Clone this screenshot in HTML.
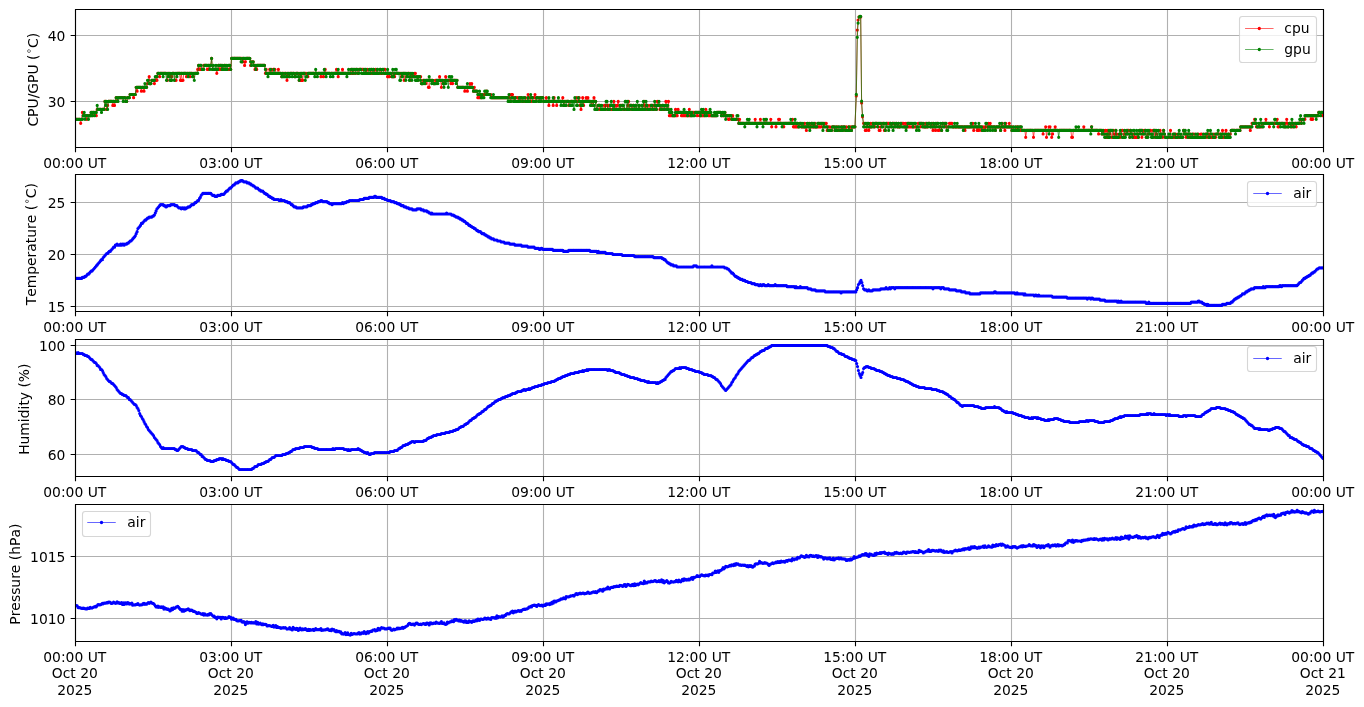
<!DOCTYPE html><html><head><meta charset="utf-8"><title>plot</title><style>html,body{margin:0;padding:0;background:#fff;overflow:hidden}svg{display:block}text{font-family:"DejaVu Sans","Liberation Sans",sans-serif;font-size:13.889px;fill:#000;font-kerning:none;font-feature-settings:"kern" 0,"liga" 0}</style></head><body><svg width="1364" height="707" viewBox="0 0 1364 707"><rect width="1364" height="707" fill="#fff"/><defs><clipPath id="c0"><rect x="75.5" y="9.5" width="1248" height="138"/></clipPath><clipPath id="c1"><rect x="75.5" y="174.5" width="1248" height="137"/></clipPath><clipPath id="c2"><rect x="75.5" y="339.5" width="1248" height="137"/></clipPath><clipPath id="c3"><rect x="75.5" y="504.5" width="1248" height="137"/></clipPath></defs><path d="M75.5 9.5V147.5M231.5 9.5V147.5M387.5 9.5V147.5M543.5 9.5V147.5M699.5 9.5V147.5M855.5 9.5V147.5M1011.5 9.5V147.5M1167.5 9.5V147.5M1323.5 9.5V147.5M75.5 101.5H1323.5M75.5 35.5H1323.5" stroke="#b0b0b0" stroke-width="1.11" fill="none"/><path d="M75.5 174.5V311.5M231.5 174.5V311.5M387.5 174.5V311.5M543.5 174.5V311.5M699.5 174.5V311.5M855.5 174.5V311.5M1011.5 174.5V311.5M1167.5 174.5V311.5M1323.5 174.5V311.5M75.5 306.5H1323.5M75.5 254.5H1323.5M75.5 202.5H1323.5" stroke="#b0b0b0" stroke-width="1.11" fill="none"/><path d="M75.5 339.5V476.5M231.5 339.5V476.5M387.5 339.5V476.5M543.5 339.5V476.5M699.5 339.5V476.5M855.5 339.5V476.5M1011.5 339.5V476.5M1167.5 339.5V476.5M1323.5 339.5V476.5M75.5 454.5H1323.5M75.5 399.5H1323.5M75.5 345.5H1323.5" stroke="#b0b0b0" stroke-width="1.11" fill="none"/><path d="M75.5 504.5V641.5M231.5 504.5V641.5M387.5 504.5V641.5M543.5 504.5V641.5M699.5 504.5V641.5M855.5 504.5V641.5M1011.5 504.5V641.5M1167.5 504.5V641.5M1323.5 504.5V641.5M75.5 618.5H1323.5M75.5 556.5H1323.5" stroke="#b0b0b0" stroke-width="1.11" fill="none"/><g clip-path="url(#c0)"><path d="M75.5 119.3L76.37 119.3L77.23 119.3L78.1 119.3L78.97 119.3L79.84 119.3L80.7 123.3L81.57 119.3L82.44 112.4L83.3 115.7L84.17 115.7L85.04 115.7L85.9 115.7L86.77 119.3L87.64 115.7L88.51 115.7L89.37 115.7L90.24 115.7L91.11 112.4L91.97 112.4L92.84 115.7L93.71 112.4L94.57 112.4L95.44 112.4L96.31 115.7L97.18 109.4L98.04 109.4L98.91 109.4L99.78 109.4L100.64 109.4L101.51 109.4L102.38 109.4L103.24 109.4L104.11 109.4L104.98 101.4L105.85 101.4L106.71 109.4L107.58 105.4L108.45 101.4L109.31 101.4L110.18 101.4L111.05 101.4L111.91 101.4L112.78 105.4L113.65 101.4L114.52 105.4L115.38 101.4L116.25 97.7L117.12 101.4L117.98 97.7L118.85 97.7L119.72 97.7L120.58 97.7L121.45 97.7L122.32 97.7L123.19 97.7L124.05 97.7L124.92 97.7L125.79 101.4L126.65 101.4L127.52 97.7L128.39 97.7L129.25 97.7L130.12 94.5L130.99 94.5L131.86 94.5L132.72 94.5L133.59 97.7L134.46 94.5L135.32 94.5L136.19 87.3L137.06 91.2L137.92 87.3L138.79 87.3L139.66 87.3L140.53 87.3L141.39 91.2L142.26 87.3L143.13 87.3L143.99 91.2L144.86 87.3L145.73 87.3L146.59 87.3L147.46 83.6L148.33 80.3L149.2 76.7L150.06 83.6L150.93 83.6L151.8 80.3L152.66 80.3L153.53 80.3L154.4 83.6L155.26 80.3L156.13 76.7L157 80.3L157.86 73.3L158.73 73.3L159.6 76.7L160.47 73.3L161.33 73.3L162.2 73.3L163.07 73.3L163.93 73.3L164.8 73.3L165.67 73.3L166.53 73.3L167.4 80.3L168.27 73.3L169.14 73.3L170 76.7L170.87 76.7L171.74 76.7L172.6 73.3L173.47 73.3L174.34 73.3L175.2 80.3L176.07 80.3L176.94 73.3L177.81 73.3L178.67 73.3L179.54 73.3L180.41 80.3L181.27 73.3L182.14 80.3L183.01 80.3L183.87 73.3L184.74 73.3L185.61 73.3L186.48 76.7L187.34 73.3L188.21 73.3L189.08 73.3L189.94 76.7L190.81 73.3L191.68 73.3L192.54 73.3L193.41 76.7L194.28 73.3L195.15 73.3L196.01 73.3L196.88 73.3L197.75 69.4L198.61 65.4L199.48 69.4L200.35 65.4L201.21 69.4L202.08 69.4L202.95 69.4L203.82 65.4L204.68 65.4L205.55 65.4L206.42 65.4L207.28 69.4L208.15 69.4L209.02 65.4L209.88 65.4L210.75 65.4L211.62 58.4L212.49 69.4L213.35 69.4L214.22 69.4L215.09 69.4L215.95 69.4L216.82 73.3L217.69 69.4L218.55 65.4L219.42 69.4L220.29 65.4L221.16 69.4L222.02 65.4L222.89 69.4L223.76 69.4L224.62 65.4L225.49 65.4L226.36 69.4L227.22 69.4L228.09 69.4L228.96 69.4L229.83 65.4L230.69 69.4L231.56 58.4L232.43 58.4L233.29 58.4L234.16 58.4L235.03 58.4L235.89 58.4L236.76 58.4L237.63 58.4L238.5 58.4L239.36 58.4L240.23 58.4L241.1 58.4L241.96 58.4L242.83 61.8L243.7 58.4L244.56 65.4L245.43 61.8L246.3 58.4L247.17 58.4L248.03 58.4L248.9 58.4L249.77 58.4L250.63 65.4L251.5 61.8L252.37 61.8L253.23 61.8L254.1 65.4L254.97 69.4L255.84 65.4L256.7 69.4L257.57 65.4L258.44 65.4L259.3 65.4L260.17 65.4L261.04 65.4L261.9 65.4L262.77 65.4L263.64 65.4L264.51 65.4L265.37 73.3L266.24 69.4L267.11 73.3L267.97 73.3L268.84 73.3L269.71 69.4L270.57 73.3L271.44 69.4L272.31 73.3L273.18 69.4L274.04 69.4L274.91 69.4L275.78 73.3L276.64 73.3L277.51 73.3L278.38 69.4L279.24 73.3L280.11 73.3L280.98 73.3L281.85 76.7L282.71 73.3L283.58 73.3L284.45 73.3L285.31 73.3L286.18 73.3L287.05 80.3L287.91 73.3L288.78 76.7L289.65 73.3L290.52 73.3L291.38 73.3L292.25 73.3L293.12 73.3L293.98 73.3L294.85 76.7L295.72 73.3L296.58 73.3L297.45 73.3L298.32 73.3L299.19 80.3L300.05 73.3L300.92 80.3L301.79 73.3L302.65 80.3L303.52 73.3L304.39 73.3L305.25 73.3L306.12 73.3L306.99 76.7L307.86 76.7L308.72 73.3L309.59 73.3L310.46 73.3L311.32 73.3L312.19 73.3L313.06 73.3L313.93 73.3L314.79 73.3L315.66 73.3L316.53 73.3L317.39 73.3L318.26 73.3L319.13 73.3L319.99 73.3L320.86 76.7L321.73 73.3L322.6 73.3L323.46 76.7L324.33 73.3L325.2 69.4L326.06 73.3L326.93 73.3L327.8 73.3L328.66 73.3L329.53 73.3L330.4 73.3L331.27 73.3L332.13 73.3L333 73.3L333.87 73.3L334.73 73.3L335.6 73.3L336.47 69.4L337.33 73.3L338.2 76.7L339.07 73.3L339.94 73.3L340.8 73.3L341.67 73.3L342.54 69.4L343.4 73.3L344.27 73.3L345.14 73.3L346 73.3L346.87 73.3L347.74 73.3L348.61 73.3L349.47 73.3L350.34 73.3L351.21 69.4L352.07 73.3L352.94 69.4L353.81 73.3L354.67 73.3L355.54 69.4L356.41 69.4L357.28 73.3L358.14 73.3L359.01 69.4L359.88 69.4L360.74 69.4L361.61 69.4L362.48 69.4L363.34 69.4L364.21 73.3L365.08 73.3L365.95 69.4L366.81 73.3L367.68 69.4L368.55 73.3L369.41 73.3L370.28 73.3L371.15 69.4L372.01 73.3L372.88 73.3L373.75 69.4L374.62 73.3L375.48 69.4L376.35 73.3L377.22 69.4L378.08 73.3L378.95 73.3L379.82 73.3L380.68 69.4L381.55 73.3L382.42 73.3L383.29 73.3L384.15 69.4L385.02 69.4L385.89 73.3L386.75 73.3L387.62 76.7L388.49 73.3L389.35 76.7L390.22 73.3L391.09 73.3L391.96 76.7L392.82 76.7L393.69 73.3L394.56 76.7L395.42 73.3L396.29 73.3L397.16 73.3L398.02 73.3L398.89 73.3L399.76 73.3L400.63 73.3L401.49 76.7L402.36 73.3L403.23 73.3L404.09 80.3L404.96 73.3L405.83 73.3L406.69 76.7L407.56 73.3L408.43 73.3L409.3 73.3L410.16 80.3L411.03 73.3L411.9 76.7L412.76 76.7L413.63 76.7L414.5 73.3L415.36 73.3L416.23 76.7L417.1 76.7L417.97 80.3L418.83 76.7L419.7 76.7L420.57 76.7L421.43 83.6L422.3 83.6L423.17 80.3L424.03 80.3L424.9 80.3L425.77 83.6L426.64 80.3L427.5 80.3L428.37 87.3L429.24 87.3L430.1 80.3L430.97 80.3L431.84 80.3L432.7 80.3L433.57 83.6L434.44 83.6L435.31 80.3L436.17 80.3L437.04 80.3L437.91 80.3L438.77 80.3L439.64 76.7L440.51 80.3L441.37 87.3L442.24 80.3L443.11 83.6L443.98 80.3L444.84 83.6L445.71 76.7L446.58 80.3L447.44 80.3L448.31 80.3L449.18 80.3L450.04 80.3L450.91 83.6L451.78 80.3L452.65 83.6L453.51 80.3L454.38 80.3L455.25 80.3L456.11 80.3L456.98 80.3L457.85 87.3L458.71 87.3L459.58 87.3L460.45 87.3L461.32 87.3L462.18 87.3L463.05 87.3L463.92 87.3L464.78 91.2L465.65 87.3L466.52 87.3L467.38 91.2L468.25 87.3L469.12 87.3L469.99 83.6L470.85 87.3L471.72 83.6L472.59 87.3L473.45 91.2L474.32 87.3L475.19 91.2L476.05 91.2L476.92 91.2L477.79 97.7L478.66 94.5L479.52 97.7L480.39 94.5L481.26 97.7L482.12 94.5L482.99 94.5L483.86 94.5L484.72 94.5L485.59 94.5L486.46 91.2L487.33 94.5L488.19 94.5L489.06 94.5L489.93 94.5L490.79 94.5L491.66 97.7L492.53 97.7L493.39 97.7L494.26 97.7L495.13 97.7L496 97.7L496.86 97.7L497.73 97.7L498.6 97.7L499.46 97.7L500.33 97.7L501.2 97.7L502.06 97.7L502.93 97.7L503.8 97.7L504.67 97.7L505.53 97.7L506.4 97.7L507.27 97.7L508.13 97.7L509 97.7L509.87 94.5L510.73 101.4L511.6 94.5L512.47 94.5L513.34 97.7L514.2 101.4L515.07 97.7L515.94 97.7L516.8 97.7L517.67 97.7L518.54 101.4L519.4 97.7L520.27 97.7L521.14 97.7L522.01 101.4L522.87 101.4L523.74 101.4L524.61 101.4L525.47 97.7L526.34 101.4L527.21 101.4L528.07 94.5L528.94 97.7L529.81 97.7L530.68 101.4L531.54 101.4L532.41 97.7L533.28 97.7L534.14 97.7L535.01 94.5L535.88 101.4L536.74 97.7L537.61 97.7L538.48 97.7L539.35 101.4L540.21 97.7L541.08 97.7L541.95 97.7L542.81 97.7L543.68 101.4L544.55 101.4L545.41 101.4L546.28 97.7L547.15 101.4L548.02 101.4L548.88 105.4L549.75 101.4L550.62 101.4L551.48 101.4L552.35 101.4L553.22 105.4L554.08 97.7L554.95 101.4L555.82 101.4L556.69 105.4L557.55 101.4L558.42 101.4L559.29 101.4L560.15 101.4L561.02 101.4L561.89 101.4L562.75 97.7L563.62 105.4L564.49 105.4L565.36 101.4L566.22 101.4L567.09 101.4L567.96 101.4L568.82 105.4L569.69 105.4L570.56 101.4L571.42 101.4L572.29 101.4L573.16 101.4L574.03 101.4L574.89 101.4L575.76 101.4L576.63 97.7L577.49 101.4L578.36 101.4L579.23 97.7L580.09 105.4L580.96 109.4L581.83 105.4L582.7 97.7L583.56 105.4L584.43 101.4L585.3 101.4L586.16 97.7L587.03 101.4L587.9 97.7L588.76 101.4L589.63 101.4L590.5 101.4L591.37 105.4L592.23 101.4L593.1 105.4L593.97 97.7L594.83 101.4L595.7 101.4L596.57 109.4L597.43 109.4L598.3 105.4L599.17 105.4L600.04 109.4L600.9 109.4L601.77 109.4L602.64 109.4L603.5 109.4L604.37 105.4L605.24 109.4L606.1 105.4L606.97 105.4L607.84 109.4L608.71 105.4L609.57 105.4L610.44 109.4L611.31 109.4L612.17 109.4L613.04 109.4L613.91 101.4L614.77 109.4L615.64 105.4L616.51 109.4L617.37 105.4L618.24 101.4L619.11 109.4L619.98 109.4L620.84 105.4L621.71 105.4L622.58 105.4L623.44 109.4L624.31 109.4L625.18 109.4L626.04 109.4L626.91 109.4L627.78 105.4L628.65 101.4L629.51 109.4L630.38 105.4L631.25 105.4L632.11 109.4L632.98 105.4L633.85 105.4L634.71 109.4L635.58 105.4L636.45 109.4L637.32 109.4L638.18 109.4L639.05 105.4L639.92 109.4L640.78 109.4L641.65 109.4L642.52 109.4L643.38 105.4L644.25 101.4L645.12 109.4L645.99 105.4L646.85 109.4L647.72 105.4L648.59 109.4L649.45 109.4L650.32 105.4L651.19 105.4L652.05 109.4L652.92 105.4L653.79 105.4L654.66 109.4L655.52 105.4L656.39 109.4L657.26 101.4L658.12 105.4L658.99 105.4L659.86 109.4L660.72 105.4L661.59 109.4L662.46 105.4L663.33 109.4L664.19 109.4L665.06 109.4L665.93 101.4L666.79 105.4L667.66 109.4L668.53 101.4L669.39 115.7L670.26 115.7L671.13 115.7L672 115.7L672.86 115.7L673.73 115.7L674.6 115.7L675.46 109.4L676.33 115.7L677.2 115.7L678.06 109.4L678.93 112.4L679.8 112.4L680.67 112.4L681.53 115.7L682.4 112.4L683.27 115.7L684.13 115.7L685 115.7L685.87 112.4L686.73 115.7L687.6 115.7L688.47 115.7L689.34 109.4L690.2 115.7L691.07 115.7L691.94 112.4L692.8 112.4L693.67 112.4L694.54 112.4L695.4 112.4L696.27 112.4L697.14 115.7L698.01 112.4L698.87 112.4L699.74 115.7L700.61 112.4L701.47 115.7L702.34 115.7L703.21 115.7L704.07 115.7L704.94 112.4L705.81 109.4L706.68 112.4L707.54 112.4L708.41 115.7L709.28 112.4L710.14 115.7L711.01 115.7L711.88 115.7L712.74 115.7L713.61 115.7L714.48 115.7L715.35 115.7L716.21 115.7L717.08 112.4L717.95 112.4L718.81 112.4L719.68 112.4L720.55 112.4L721.41 115.7L722.28 115.7L723.15 115.7L724.02 115.7L724.88 112.4L725.75 115.7L726.62 115.7L727.48 115.7L728.35 119.3L729.22 119.3L730.08 115.7L730.95 115.7L731.82 119.3L732.69 115.7L733.55 119.3L734.42 119.3L735.29 119.3L736.15 119.3L737.02 119.3L737.89 119.3L738.75 123.3L739.62 119.3L740.49 123.3L741.36 123.3L742.22 123.3L743.09 123.3L743.96 123.3L744.82 123.3L745.69 123.3L746.56 123.3L747.42 123.3L748.29 123.3L749.16 123.3L750.03 123.3L750.89 123.3L751.76 123.3L752.63 123.3L753.49 123.3L754.36 123.3L755.23 119.3L756.09 123.3L756.96 123.3L757.83 123.3L758.7 123.3L759.56 123.3L760.43 119.3L761.3 123.3L762.16 123.3L763.03 123.3L763.9 123.3L764.76 123.3L765.63 119.3L766.5 123.3L767.37 123.3L768.23 123.3L769.1 123.3L769.97 123.3L770.83 119.3L771.7 126.8L772.57 123.3L773.43 123.3L774.3 123.3L775.17 123.3L776.04 126.8L776.9 123.3L777.77 123.3L778.64 119.3L779.5 119.3L780.37 123.3L781.24 123.3L782.1 123.3L782.97 123.3L783.84 126.8L784.71 123.3L785.57 123.3L786.44 123.3L787.31 123.3L788.17 123.3L789.04 123.3L789.91 123.3L790.77 123.3L791.64 123.3L792.51 119.3L793.38 126.8L794.24 123.3L795.11 126.8L795.98 123.3L796.84 126.8L797.71 123.3L798.58 126.8L799.44 123.3L800.31 123.3L801.18 126.8L802.05 126.8L802.91 126.8L803.78 126.8L804.65 123.3L805.51 126.8L806.38 130.4L807.25 123.3L808.11 126.8L808.98 126.8L809.85 123.3L810.72 126.8L811.58 123.3L812.45 126.8L813.32 123.3L814.18 126.8L815.05 123.3L815.92 126.8L816.78 126.8L817.65 126.8L818.52 123.3L819.39 126.8L820.25 126.8L821.12 126.8L821.99 123.3L822.85 123.3L823.72 126.8L824.59 123.3L825.45 123.3L826.32 123.3L827.19 130.4L828.06 126.8L828.92 126.8L829.79 126.8L830.66 130.4L831.52 130.4L832.39 126.8L833.26 126.8L834.12 126.8L834.99 130.4L835.86 130.4L836.73 126.8L837.59 126.8L838.46 130.4L839.33 130.4L840.19 130.4L841.06 126.8L841.93 126.8L842.79 130.4L843.66 126.8L844.53 126.8L845.4 130.4L846.26 126.8L847.13 130.4L848 130.4L848.86 126.8L849.73 130.4L850.6 126.8L851.46 130.4L852.33 126.8L853.2 126.8L854.07 126.8L854.93 126.8L856.3 95.9L857.3 30.1L858.1 20L859.1 16.8L859.9 16.8L860.7 17L861.6 103L862.5 116.8L863.6 123.3L864.47 123.3L865.34 130.4L866.2 130.4L867.07 126.8L867.94 123.3L868.8 130.4L869.67 126.8L870.54 123.3L871.41 126.8L872.27 123.3L873.14 123.3L874.01 126.8L874.87 126.8L875.74 123.3L876.61 123.3L877.47 123.3L878.34 126.8L879.21 130.4L880.08 130.4L880.94 126.8L881.81 123.3L882.68 123.3L883.54 123.3L884.41 130.4L885.28 130.4L886.14 123.3L887.01 123.3L887.88 123.3L888.75 123.3L889.61 123.3L890.48 123.3L891.35 126.8L892.21 123.3L893.08 123.3L893.95 123.3L894.81 126.8L895.68 123.3L896.55 123.3L897.42 126.8L898.28 123.3L899.15 126.8L900.02 126.8L900.88 123.3L901.75 123.3L902.62 123.3L903.48 123.3L904.35 126.8L905.22 123.3L906.09 126.8L906.95 123.3L907.82 126.8L908.69 123.3L909.55 126.8L910.42 126.8L911.29 126.8L912.15 126.8L913.02 126.8L913.89 126.8L914.76 126.8L915.62 126.8L916.49 126.8L917.36 126.8L918.22 123.3L919.09 123.3L919.96 123.3L920.82 126.8L921.69 123.3L922.56 123.3L923.43 126.8L924.29 126.8L925.16 123.3L926.03 126.8L926.89 123.3L927.76 126.8L928.63 123.3L929.49 123.3L930.36 126.8L931.23 126.8L932.1 123.3L932.96 130.4L933.83 123.3L934.7 126.8L935.56 130.4L936.43 123.3L937.3 123.3L938.16 130.4L939.03 130.4L939.9 126.8L940.77 126.8L941.63 130.4L942.5 123.3L943.37 123.3L944.23 123.3L945.1 126.8L945.97 123.3L946.83 126.8L947.7 126.8L948.57 126.8L949.44 123.3L950.3 123.3L951.17 123.3L952.04 123.3L952.9 126.8L953.77 126.8L954.64 126.8L955.5 126.8L956.37 126.8L957.24 126.8L958.11 126.8L958.97 126.8L959.84 126.8L960.71 126.8L961.57 126.8L962.44 126.8L963.31 126.8L964.17 126.8L965.04 130.4L965.91 126.8L966.78 126.8L967.64 126.8L968.51 126.8L969.38 126.8L970.24 126.8L971.11 126.8L971.98 126.8L972.84 123.3L973.71 130.4L974.58 126.8L975.45 126.8L976.31 126.8L977.18 130.4L978.05 126.8L978.91 130.4L979.78 126.8L980.65 126.8L981.51 130.4L982.38 126.8L983.25 130.4L984.12 126.8L984.98 130.4L985.85 126.8L986.72 126.8L987.58 126.8L988.45 123.3L989.32 126.8L990.18 123.3L991.05 126.8L991.92 126.8L992.79 126.8L993.65 126.8L994.52 126.8L995.39 130.4L996.25 126.8L997.12 126.8L997.99 126.8L998.85 126.8L999.72 126.8L1000.59 130.4L1001.46 126.8L1002.32 123.3L1003.19 126.8L1004.06 126.8L1004.92 130.4L1005.79 123.3L1006.66 126.8L1007.52 126.8L1008.39 126.8L1009.26 123.3L1010.13 126.8L1010.99 126.8L1011.86 130.4L1012.73 126.8L1013.59 130.4L1014.46 130.4L1015.33 130.4L1016.19 126.8L1017.06 130.4L1017.93 126.8L1018.8 130.4L1019.66 130.4L1020.53 126.8L1021.4 130.4L1022.26 130.4L1023.13 130.4L1024 130.4L1024.86 130.4L1025.73 137.3L1026.6 130.4L1027.47 130.4L1028.33 130.4L1029.2 130.4L1030.07 130.4L1030.93 130.4L1031.8 130.4L1032.67 130.4L1033.53 137.3L1034.4 130.4L1035.27 130.4L1036.14 130.4L1037 130.4L1037.87 130.4L1038.74 130.4L1039.6 130.4L1040.47 130.4L1041.34 130.4L1042.2 130.4L1043.07 134L1043.94 130.4L1044.81 130.4L1045.67 126.8L1046.54 137.3L1047.41 130.4L1048.27 130.4L1049.14 126.8L1050.01 126.8L1050.87 130.4L1051.74 137.3L1052.61 134L1053.48 130.4L1054.34 130.4L1055.21 126.8L1056.08 130.4L1056.94 130.4L1057.81 130.4L1058.68 130.4L1059.54 130.4L1060.41 130.4L1061.28 130.4L1062.15 130.4L1063.01 130.4L1063.88 130.4L1064.75 130.4L1065.61 130.4L1066.48 130.4L1067.35 130.4L1068.21 130.4L1069.08 130.4L1069.95 130.4L1070.82 130.4L1071.68 137.3L1072.55 137.3L1073.42 130.4L1074.28 130.4L1075.15 130.4L1076.02 130.4L1076.88 130.4L1077.75 130.4L1078.62 130.4L1079.49 130.4L1080.35 130.4L1081.22 130.4L1082.09 130.4L1082.95 130.4L1083.82 126.8L1084.69 130.4L1085.55 130.4L1086.42 130.4L1087.29 130.4L1088.16 130.4L1089.02 130.4L1089.89 130.4L1090.76 130.4L1091.62 126.8L1092.49 130.4L1093.36 130.4L1094.22 130.4L1095.09 130.4L1095.96 130.4L1096.83 130.4L1097.69 130.4L1098.56 134L1099.43 130.4L1100.29 130.4L1101.16 130.4L1102.03 134L1102.89 134L1103.76 130.4L1104.63 134L1105.5 130.4L1106.36 137.3L1107.23 130.4L1108.1 137.3L1108.96 130.4L1109.83 134L1110.7 130.4L1111.56 137.3L1112.43 137.3L1113.3 130.4L1114.17 134L1115.03 137.3L1115.9 130.4L1116.77 134L1117.63 137.3L1118.5 137.3L1119.37 134L1120.23 137.3L1121.1 134L1121.97 130.4L1122.84 130.4L1123.7 137.3L1124.57 134L1125.44 134L1126.3 130.4L1127.17 134L1128.04 130.4L1128.9 130.4L1129.77 137.3L1130.64 130.4L1131.51 134L1132.37 134L1133.24 137.3L1134.11 134L1134.97 137.3L1135.84 137.3L1136.71 137.3L1137.57 134L1138.44 137.3L1139.31 130.4L1140.18 130.4L1141.04 130.4L1141.91 137.3L1142.78 130.4L1143.64 134L1144.51 130.4L1145.38 130.4L1146.24 137.3L1147.11 137.3L1147.98 134L1148.85 134L1149.71 130.4L1150.58 130.4L1151.45 134L1152.31 137.3L1153.18 130.4L1154.05 130.4L1154.91 137.3L1155.78 130.4L1156.65 134L1157.52 137.3L1158.38 137.3L1159.25 137.3L1160.12 130.4L1160.98 134L1161.85 134L1162.72 137.3L1163.58 130.4L1164.45 134L1165.32 137.3L1166.19 137.3L1167.05 137.3L1167.92 137.3L1168.79 137.3L1169.65 137.3L1170.52 130.4L1171.39 137.3L1172.25 137.3L1173.12 137.3L1173.99 134L1174.86 137.3L1175.72 134L1176.59 137.3L1177.46 137.3L1178.32 134L1179.19 137.3L1180.06 137.3L1180.92 137.3L1181.79 137.3L1182.66 137.3L1183.53 130.4L1184.39 130.4L1185.26 134L1186.13 137.3L1186.99 134L1187.86 134L1188.73 137.3L1189.59 137.3L1190.46 134L1191.33 137.3L1192.2 137.3L1193.06 134L1193.93 134L1194.8 137.3L1195.66 137.3L1196.53 137.3L1197.4 137.3L1198.26 134L1199.13 137.3L1200 137.3L1200.87 134L1201.73 134L1202.6 137.3L1203.47 137.3L1204.33 137.3L1205.2 134L1206.07 134L1206.93 137.3L1207.8 134L1208.67 134L1209.54 137.3L1210.4 134L1211.27 137.3L1212.14 137.3L1213 137.3L1213.87 134L1214.74 137.3L1215.6 137.3L1216.47 134L1217.34 134L1218.21 134L1219.07 134L1219.94 134L1220.81 134L1221.67 137.3L1222.54 130.4L1223.41 137.3L1224.27 137.3L1225.14 134L1226.01 130.4L1226.88 137.3L1227.74 137.3L1228.61 134L1229.48 137.3L1230.34 134L1231.21 130.4L1232.08 130.4L1232.94 130.4L1233.81 130.4L1234.68 130.4L1235.55 130.4L1236.41 130.4L1237.28 130.4L1238.15 130.4L1239.01 130.4L1239.88 130.4L1240.75 126.8L1241.61 126.8L1242.48 126.8L1243.35 126.8L1244.22 126.8L1245.08 126.8L1245.95 126.8L1246.82 126.8L1247.68 126.8L1248.55 126.8L1249.42 126.8L1250.28 130.4L1251.15 126.8L1252.02 123.3L1252.89 123.3L1253.75 123.3L1254.62 119.3L1255.49 123.3L1256.35 126.8L1257.22 126.8L1258.09 126.8L1258.95 123.3L1259.82 126.8L1260.69 126.8L1261.56 126.8L1262.42 123.3L1263.29 123.3L1264.16 123.3L1265.02 123.3L1265.89 119.3L1266.76 123.3L1267.62 123.3L1268.49 123.3L1269.36 126.8L1270.23 123.3L1271.09 123.3L1271.96 123.3L1272.83 123.3L1273.69 123.3L1274.56 123.3L1275.43 123.3L1276.29 123.3L1277.16 119.3L1278.03 126.8L1278.9 126.8L1279.76 123.3L1280.63 123.3L1281.5 123.3L1282.36 123.3L1283.23 123.3L1284.1 123.3L1284.96 126.8L1285.83 123.3L1286.7 119.3L1287.57 123.3L1288.43 126.8L1289.3 123.3L1290.17 123.3L1291.03 126.8L1291.9 123.3L1292.77 126.8L1293.63 123.3L1294.5 123.3L1295.37 123.3L1296.24 126.8L1297.1 123.3L1297.97 123.3L1298.84 123.3L1299.7 123.3L1300.57 119.3L1301.44 123.3L1302.3 119.3L1303.17 119.3L1304.04 119.3L1304.91 119.3L1305.77 115.7L1306.64 115.7L1307.51 115.7L1308.37 115.7L1309.24 115.7L1310.11 115.7L1310.97 119.3L1311.84 115.7L1312.71 119.3L1313.58 115.7L1314.44 115.7L1315.31 115.7L1316.18 115.7L1317.04 115.7L1317.91 115.7L1318.78 112.4L1319.64 112.4L1320.51 112.4L1321.38 112.4L1322.25 115.7L1323.11 112.4" stroke="#ff0000" stroke-width="0.7" fill="none"/><path d="M75.5 119.3h0m0.9 0h0m0.8 0h0m0.9 0h0m0.9 0h0m0.8 0h0m0.9 4h0m0.9 -4h0m0.8 -6.9h0m0.9 3.3h0m0.9 0h0m0.8 0h0m0.9 0h0m0.9 3.6h0m0.8 -3.6h0m0.9 0h0m0.9 0h0m0.8 0h0m0.9 -3.3h0m0.9 0h0m0.8 3.3h0m0.9 -3.3h0m0.9 0h0m0.8 0h0m0.9 3.3h0m0.9 -6.3h0m0.8 0h0m0.9 0h0m0.9 0h0m0.8 0h0m0.9 0h0m0.9 0h0m0.8 0h0m0.9 0h0m0.9 -8h0m0.8 0h0m0.9 8h0m0.9 -4h0m0.8 -4h0m0.9 0h0m0.9 0h0m0.8 0h0m0.9 0h0m0.9 4h0m0.8 -4h0m0.9 4h0m0.9 -4h0m0.8 -3.7h0m0.9 3.7h0m0.9 -3.7h0m0.9 0h0m0.8 0h0m0.9 0h0m0.9 0h0m0.8 0h0m0.9 0h0m0.9 0h0m0.8 0h0m0.9 3.7h0m0.9 0h0m0.8 -3.7h0m0.9 0h0m0.9 0h0m0.8 -3.2h0m0.9 0h0m0.9 0h0m0.8 0h0m0.9 3.2h0m0.9 -3.2h0m0.8 0h0m0.9 -7.2h0m0.9 3.9h0m0.8 -3.9h0m0.9 0h0m0.9 0h0m0.8 0h0m0.9 3.9h0m0.9 -3.9h0m0.8 0h0m0.9 3.9h0m0.9 -3.9h0m0.8 0h0m0.9 0h0m0.9 -3.7h0m0.8 -3.3h0m0.9 -3.6h0m0.9 6.9h0m0.8 0h0m0.9 -3.3h0m0.9 0h0m0.8 0h0m0.9 3.3h0m0.9 -3.3h0m0.8 -3.6h0m0.9 3.6h0m0.9 -7h0m0.8 0h0m0.9 3.4h0m0.9 -3.4h0m0.8 0h0m0.9 0h0m0.9 0h0m0.8 0h0m0.9 0h0m0.9 0h0m0.8 0h0m0.9 7h0m0.9 -7h0m0.8 0h0m0.9 3.4h0m0.9 0h0m0.8 0h0m0.9 -3.4h0m0.9 0h0m0.8 0h0m0.9 7h0m0.9 0h0m0.8 -7h0m0.9 0h0m0.9 0h0m0.8 0h0m0.9 7h0m0.9 -7h0m0.8 7h0m0.9 0h0m0.9 -7h0m0.8 0h0m0.9 0h0m0.9 3.4h0m0.8 -3.4h0m0.9 0h0m0.9 0h0m0.8 3.4h0m0.9 -3.4h0m0.9 0h0m0.8 0h0m0.9 3.4h0m0.9 -3.4h0m0.8 0h0m0.9 0h0m0.9 0h0m0.8 -3.9h0m0.9 -4h0m0.9 4h0m0.8 -4h0m0.9 4h0m0.9 0h0m0.8 0h0m0.9 -4h0m0.9 0h0m0.8 0h0m0.9 0h0m0.9 4h0m0.9 0h0m0.8 -4h0m0.9 0h0m0.9 0h0m0.8 -7h0m0.9 11h0m0.9 0h0m0.8 0h0m0.9 0h0m0.9 0h0m0.8 3.9h0m0.9 -3.9h0m0.9 -4h0m0.8 4h0m0.9 -4h0m0.9 4h0m0.8 -4h0m0.9 4h0m0.9 0h0m0.8 -4h0m0.9 0h0m0.9 4h0m0.8 0h0m0.9 0h0m0.9 0h0m0.8 -4h0m0.9 4h0m0.9 -11h0m0.8 0h0m0.9 0h0m0.9 0h0m0.8 0h0m0.9 0h0m0.9 0h0m0.8 0h0m0.9 0h0m0.9 0h0m0.8 0h0m0.9 0h0m0.9 0h0m0.8 3.4h0m0.9 -3.4h0m0.9 7h0m0.8 -3.6h0m0.9 -3.4h0m0.9 0h0m0.8 0h0m0.9 0h0m0.9 0h0m0.8 7h0m0.9 -3.6h0m0.9 0h0m0.8 0h0m0.9 3.6h0m0.9 4h0m0.8 -4h0m0.9 4h0m0.9 -4h0m0.8 0h0m0.9 0h0m0.9 0h0m0.8 0h0m0.9 0h0m0.9 0h0m0.8 0h0m0.9 0h0m0.9 7.9h0m0.8 -3.9h0m0.9 3.9h0m0.9 0h0m0.8 0h0m0.9 -3.9h0m0.9 3.9h0m0.8 -3.9h0m0.9 3.9h0m0.9 -3.9h0m0.8 0h0m0.9 0h0m0.9 3.9h0m0.8 0h0m0.9 0h0m0.9 -3.9h0m0.8 3.9h0m0.9 0h0m0.9 0h0m0.8 3.4h0m0.9 -3.4h0m0.9 0h0m0.8 0h0m0.9 0h0m0.9 0h0m0.8 7h0m0.9 -7h0m0.9 3.4h0m0.8 -3.4h0m0.9 0h0m0.9 0h0m0.8 0h0m0.9 0h0m0.9 0h0m0.9 3.4h0m0.8 -3.4h0m0.9 0h0m0.9 0h0m0.8 0h0m0.9 7h0m0.9 -7h0m0.8 7h0m0.9 -7h0m0.9 7h0m0.8 -7h0m0.9 0h0m0.9 0h0m0.8 0h0m0.9 3.4h0m0.9 0h0m0.8 -3.4h0m0.9 0h0m0.9 0h0m0.8 0h0m0.9 0h0m0.9 0h0m0.8 0h0m0.9 0h0m0.9 0h0m0.8 0h0m0.9 0h0m0.9 0h0m0.8 0h0m0.9 0h0m0.9 3.4h0m0.8 -3.4h0m0.9 0h0m0.9 3.4h0m0.8 -3.4h0m0.9 -3.9h0m0.9 3.9h0m0.8 0h0m0.9 0h0m0.9 0h0m0.8 0h0m0.9 0h0m0.9 0h0m0.8 0h0m0.9 0h0m0.9 0h0m0.8 0h0m0.9 0h0m0.9 -3.9h0m0.8 3.9h0m0.9 3.4h0m0.9 -3.4h0m0.8 0h0m0.9 0h0m0.9 0h0m0.8 -3.9h0m0.9 3.9h0m0.9 0h0m0.8 0h0m0.9 0h0m0.9 0h0m0.8 0h0m0.9 0h0m0.9 0h0m0.8 0h0m0.9 -3.9h0m0.9 3.9h0m0.8 -3.9h0m0.9 3.9h0m0.9 0h0m0.8 -3.9h0m0.9 0h0m0.9 3.9h0m0.8 0h0m0.9 -3.9h0m0.9 0h0m0.8 0h0m0.9 0h0m0.9 0h0m0.8 0h0m0.9 3.9h0m0.9 0h0m0.8 -3.9h0m0.9 3.9h0m0.9 -3.9h0m0.8 3.9h0m0.9 0h0m0.9 0h0m0.8 -3.9h0m0.9 3.9h0m0.9 0h0m0.8 -3.9h0m0.9 3.9h0m0.9 -3.9h0m0.8 3.9h0m0.9 -3.9h0m0.9 3.9h0m0.9 0h0m0.8 0h0m0.9 -3.9h0m0.9 3.9h0m0.8 0h0m0.9 0h0m0.9 -3.9h0m0.8 0h0m0.9 3.9h0m0.9 0h0m0.8 3.4h0m0.9 -3.4h0m0.9 3.4h0m0.8 -3.4h0m0.9 0h0m0.9 3.4h0m0.8 0h0m0.9 -3.4h0m0.9 3.4h0m0.8 -3.4h0m0.9 0h0m0.9 0h0m0.8 0h0m0.9 0h0m0.9 0h0m0.8 0h0m0.9 3.4h0m0.9 -3.4h0m0.8 0h0m0.9 7h0m0.9 -7h0m0.8 0h0m0.9 3.4h0m0.9 -3.4h0m0.8 0h0m0.9 0h0m0.9 7h0m0.8 -7h0m0.9 3.4h0m0.9 0h0m0.8 0h0m0.9 -3.4h0m0.9 0h0m0.8 3.4h0m0.9 0h0m0.9 3.6h0m0.8 -3.6h0m0.9 0h0m0.9 0h0m0.8 6.9h0m0.9 0h0m0.9 -3.3h0m0.8 0h0m0.9 0h0m0.9 3.3h0m0.8 -3.3h0m0.9 0h0m0.9 7h0m0.8 0h0m0.9 -7h0m0.9 0h0m0.8 0h0m0.9 0h0m0.9 3.3h0m0.8 0h0m0.9 -3.3h0m0.9 0h0m0.8 0h0m0.9 0h0m0.9 0h0m0.8 -3.6h0m0.9 3.6h0m0.9 7h0m0.8 -7h0m0.9 3.3h0m0.9 -3.3h0m0.8 3.3h0m0.9 -6.9h0m0.9 3.6h0m0.8 0h0m0.9 0h0m0.9 0h0m0.8 0h0m0.9 3.3h0m0.9 -3.3h0m0.8 3.3h0m0.9 -3.3h0m0.9 0h0m0.8 0h0m0.9 0h0m0.9 0h0m0.8 7h0m0.9 0h0m0.9 0h0m0.8 0h0m0.9 0h0m0.9 0h0m0.8 0h0m0.9 0h0m0.9 3.9h0m0.9 -3.9h0m0.8 0h0m0.9 3.9h0m0.9 -3.9h0m0.8 0h0m0.9 -3.7h0m0.9 3.7h0m0.8 -3.7h0m0.9 3.7h0m0.9 3.9h0m0.8 -3.9h0m0.9 3.9h0m0.9 0h0m0.8 0h0m0.9 6.5h0m0.9 -3.2h0m0.8 3.2h0m0.9 -3.2h0m0.9 3.2h0m0.8 -3.2h0m0.9 0h0m0.9 0h0m0.8 0h0m0.9 0h0m0.9 -3.3h0m0.8 3.3h0m0.9 0h0m0.9 0h0m0.8 0h0m0.9 0h0m0.9 3.2h0m0.8 0h0m0.9 0h0m0.9 0h0m0.8 0h0m0.9 0h0m0.9 0h0m0.8 0h0m0.9 0h0m0.9 0h0m0.8 0h0m0.9 0h0m0.9 0h0m0.8 0h0m0.9 0h0m0.9 0h0m0.8 0h0m0.9 0h0m0.9 0h0m0.8 0h0m0.9 0h0m0.9 -3.2h0m0.8 6.9h0m0.9 -6.9h0m0.9 0h0m0.8 3.2h0m0.9 3.7h0m0.9 -3.7h0m0.8 0h0m0.9 0h0m0.9 0h0m0.8 3.7h0m0.9 -3.7h0m0.9 0h0m0.8 0h0m0.9 3.7h0m0.9 0h0m0.8 0h0m0.9 0h0m0.9 -3.7h0m0.8 3.7h0m0.9 0h0m0.9 -6.9h0m0.8 3.2h0m0.9 0h0m0.9 3.7h0m0.8 0h0m0.9 -3.7h0m0.9 0h0m0.8 0h0m0.9 -3.2h0m0.9 6.9h0m0.8 -3.7h0m0.9 0h0m0.9 0h0m0.8 3.7h0m0.9 -3.7h0m0.9 0h0m0.8 0h0m0.9 0h0m0.9 3.7h0m0.8 0h0m0.9 0h0m0.9 -3.7h0m0.8 3.7h0m0.9 0h0m0.9 4h0m0.8 -4h0m0.9 0h0m0.9 0h0m0.9 0h0m0.8 4h0m0.9 -7.7h0m0.9 3.7h0m0.8 0h0m0.9 4h0m0.9 -4h0m0.8 0h0m0.9 0h0m0.9 0h0m0.8 0h0m0.9 0h0m0.9 -3.7h0m0.8 7.7h0m0.9 0h0m0.9 -4h0m0.8 0h0m0.9 0h0m0.9 0h0m0.8 4h0m0.9 0h0m0.9 -4h0m0.8 0h0m0.9 0h0m0.9 0h0m0.8 0h0m0.9 0h0m0.9 0h0m0.8 -3.7h0m0.9 3.7h0m0.9 0h0m0.8 -3.7h0m0.9 7.7h0m0.9 4h0m0.8 -4h0m0.9 -7.7h0m0.9 7.7h0m0.8 -4h0m0.9 0h0m0.9 -3.7h0m0.8 3.7h0m0.9 -3.7h0m0.9 3.7h0m0.8 0h0m0.9 0h0m0.9 4h0m0.8 -4h0m0.9 4h0m0.9 -7.7h0m0.8 3.7h0m0.9 0h0m0.9 8h0m0.8 0h0m0.9 -4h0m0.9 0h0m0.8 4h0m0.9 0h0m0.9 0h0m0.8 0h0m0.9 0h0m0.9 -4h0m0.8 4h0m0.9 -4h0m0.9 0h0m0.8 4h0m0.9 -4h0m0.9 0h0m0.8 4h0m0.9 0h0m0.9 0h0m0.8 0h0m0.9 -8h0m0.9 8h0m0.8 -4h0m0.9 4h0m0.9 -4h0m0.8 -4h0m0.9 8h0m0.9 0h0m0.8 -4h0m0.9 0h0m0.9 0h0m0.8 4h0m0.9 0h0m0.9 0h0m0.8 0h0m0.9 0h0m0.9 -4h0m0.8 -4h0m0.9 8h0m0.9 -4h0m0.8 0h0m0.9 4h0m0.9 -4h0m0.8 0h0m0.9 4h0m0.9 -4h0m0.8 4h0m0.9 0h0m0.9 0h0m0.8 -4h0m0.9 4h0m0.9 0h0m0.9 0h0m0.8 0h0m0.9 -4h0m0.9 -4h0m0.8 8h0m0.9 -4h0m0.9 4h0m0.8 -4h0m0.9 4h0m0.9 0h0m0.8 -4h0m0.9 0h0m0.9 4h0m0.8 -4h0m0.9 0h0m0.9 4h0m0.8 -4h0m0.9 4h0m0.9 -8h0m0.8 4h0m0.9 0h0m0.9 4h0m0.8 -4h0m0.9 4h0m0.9 -4h0m0.8 4h0m0.9 0h0m0.9 0h0m0.8 -8h0m0.9 4h0m0.9 4h0m0.8 -8h0m0.9 14.3h0m0.9 0h0m0.8 0h0m0.9 0h0m0.9 0h0m0.8 0h0m0.9 0h0m0.9 -6.3h0m0.8 6.3h0m0.9 0h0m0.9 -6.3h0m0.8 3h0m0.9 0h0m0.9 0h0m0.8 3.3h0m0.9 -3.3h0m0.9 3.3h0m0.8 0h0m0.9 0h0m0.9 -3.3h0m0.8 3.3h0m0.9 0h0m0.9 0h0m0.8 -6.3h0m0.9 6.3h0m0.9 0h0m0.8 -3.3h0m0.9 0h0m0.9 0h0m0.8 0h0m0.9 0h0m0.9 0h0m0.8 3.3h0m0.9 -3.3h0m0.9 0h0m0.8 3.3h0m0.9 -3.3h0m0.9 3.3h0m0.8 0h0m0.9 0h0m0.9 0h0m0.8 -3.3h0m0.9 -3h0m0.9 3h0m0.8 0h0m0.9 3.3h0m0.9 -3.3h0m0.8 3.3h0m0.9 0h0m0.9 0h0m0.8 0h0m0.9 0h0m0.9 0h0m0.8 0h0m0.9 0h0m0.9 -3.3h0m0.8 0h0m0.9 0h0m0.9 0h0m0.8 0h0m0.9 3.3h0m0.9 0h0m0.8 0h0m0.9 0h0m0.9 -3.3h0m0.8 3.3h0m0.9 0h0m0.9 0h0m0.9 3.6h0m0.8 0h0m0.9 -3.6h0m0.9 0h0m0.8 3.6h0m0.9 -3.6h0m0.9 3.6h0m0.8 0h0m0.9 0h0m0.9 0h0m0.8 0h0m0.9 0h0m0.9 4h0m0.8 -4h0m0.9 4h0m0.9 0h0m0.8 0h0m0.9 0h0m0.9 0h0m0.8 0h0m0.9 0h0m0.9 0h0m0.8 0h0m0.9 0h0m0.9 0h0m0.8 0h0m0.9 0h0m0.9 0h0m0.8 0h0m0.9 0h0m0.9 0h0m0.8 -4h0m0.9 4h0m0.9 0h0m0.8 0h0m0.9 0h0m0.9 0h0m0.8 -4h0m0.9 4h0m0.9 0h0m0.8 0h0m0.9 0h0m0.9 0h0m0.8 -4h0m0.9 4h0m0.9 0h0m0.8 0h0m0.9 0h0m0.9 0h0m0.8 -4h0m0.9 7.5h0m0.9 -3.5h0m0.8 0h0m0.9 0h0m0.9 0h0m0.8 3.5h0m0.9 -3.5h0m0.9 0h0m0.8 -4h0m0.9 0h0m0.9 4h0m0.8 0h0m0.9 0h0m0.9 0h0m0.8 3.5h0m0.9 -3.5h0m0.9 0h0m0.8 0h0m0.9 0h0m0.9 0h0m0.8 0h0m0.9 0h0m0.9 0h0m0.8 0h0m0.9 -4h0m0.9 7.5h0m0.8 -3.5h0m0.9 3.5h0m0.9 -3.5h0m0.8 3.5h0m0.9 -3.5h0m0.9 3.5h0m0.8 -3.5h0m0.9 0h0m0.9 3.5h0m0.8 0h0m0.9 0h0m0.9 0h0m0.8 -3.5h0m0.9 3.5h0m0.9 3.6h0m0.8 -7.1h0m0.9 3.5h0m0.9 0h0m0.8 -3.5h0m0.9 3.5h0m0.9 -3.5h0m0.8 3.5h0m0.9 -3.5h0m0.9 3.5h0m0.9 -3.5h0m0.8 3.5h0m0.9 0h0m0.9 0h0m0.8 -3.5h0m0.9 3.5h0m0.9 0h0m0.8 0h0m0.9 -3.5h0m0.9 0h0m0.8 3.5h0m0.9 -3.5h0m0.9 0h0m0.8 0h0m0.9 7.1h0m0.9 -3.6h0m0.8 0h0m0.9 0h0m0.9 3.6h0m0.8 0h0m0.9 -3.6h0m0.9 0h0m0.8 0h0m0.9 3.6h0m0.9 0h0m0.8 -3.6h0m0.9 0h0m0.9 3.6h0m0.8 0h0m0.9 0h0m0.9 -3.6h0m0.8 0h0m0.9 3.6h0m0.9 -3.6h0m0.8 0h0m0.9 3.6h0m0.9 -3.6h0m0.8 3.6h0m0.9 0h0m0.9 -3.6h0m0.8 3.6h0m0.9 -3.6h0m0.9 3.6h0m0.8 -3.6h0m0.9 0h0m0.9 0h0m0.8 0h0m1.4 -30.9h0m1 -65.8h0m0.8 -10.1h0m1 -3.2h0m0.8 0h0m0.8 0.2h0m0.9 86h0m0.9 13.8h0m1.1 6.5h0m0.9 0h0m0.8 7.1h0m0.9 0h0m0.9 -3.6h0m0.8 -3.5h0m0.9 7.1h0m0.9 -3.6h0m0.8 -3.5h0m0.9 3.5h0m0.9 -3.5h0m0.8 0h0m0.9 3.5h0m0.9 0h0m0.8 -3.5h0m0.9 0h0m0.9 0h0m0.8 3.5h0m0.9 3.6h0m0.9 0h0m0.8 -3.6h0m0.9 -3.5h0m0.9 0h0m0.8 0h0m0.9 7.1h0m0.9 0h0m0.8 -7.1h0m0.9 0h0m0.9 0h0m0.8 0h0m0.9 0h0m0.9 0h0m0.8 3.5h0m0.9 -3.5h0m0.9 0h0m0.8 0h0m0.9 3.5h0m0.9 -3.5h0m0.8 0h0m0.9 3.5h0m0.9 -3.5h0m0.8 3.5h0m0.9 0h0m0.9 -3.5h0m0.9 0h0m0.8 0h0m0.9 0h0m0.9 3.5h0m0.8 -3.5h0m0.9 3.5h0m0.9 -3.5h0m0.8 3.5h0m0.9 -3.5h0m0.9 3.5h0m0.8 0h0m0.9 0h0m0.9 0h0m0.8 0h0m0.9 0h0m0.9 0h0m0.8 0h0m0.9 0h0m0.9 0h0m0.8 -3.5h0m0.9 0h0m0.9 0h0m0.8 3.5h0m0.9 -3.5h0m0.9 0h0m0.8 3.5h0m0.9 0h0m0.9 -3.5h0m0.8 3.5h0m0.9 -3.5h0m0.9 3.5h0m0.8 -3.5h0m0.9 0h0m0.9 3.5h0m0.8 0h0m0.9 -3.5h0m0.9 7.1h0m0.8 -7.1h0m0.9 3.5h0m0.9 3.6h0m0.8 -7.1h0m0.9 0h0m0.9 7.1h0m0.8 0h0m0.9 -3.6h0m0.9 0h0m0.8 3.6h0m0.9 -7.1h0m0.9 0h0m0.8 0h0m0.9 3.5h0m0.9 -3.5h0m0.8 3.5h0m0.9 0h0m0.9 0h0m0.8 -3.5h0m0.9 0h0m0.9 0h0m0.8 0h0m0.9 3.5h0m0.9 0h0m0.8 0h0m0.9 0h0m0.9 0h0m0.8 0h0m0.9 0h0m0.9 0h0m0.8 0h0m0.9 0h0m0.9 0h0m0.8 0h0m0.9 0h0m0.9 0h0m0.8 3.6h0m0.9 -3.6h0m0.9 0h0m0.8 0h0m0.9 0h0m0.9 0h0m0.8 0h0m0.9 0h0m0.9 0h0m0.8 -3.5h0m0.9 7.1h0m0.9 -3.6h0m0.8 0h0m0.9 0h0m0.9 3.6h0m0.8 -3.6h0m0.9 3.6h0m0.9 -3.6h0m0.8 0h0m0.9 3.6h0m0.9 -3.6h0m0.8 3.6h0m0.9 -3.6h0m0.9 3.6h0m0.8 -3.6h0m0.9 0h0m0.9 0h0m0.9 -3.5h0m0.8 3.5h0m0.9 -3.5h0m0.9 3.5h0m0.8 0h0m0.9 0h0m0.9 0h0m0.8 0h0m0.9 3.6h0m0.9 -3.6h0m0.8 0h0m0.9 0h0m0.9 0h0m0.8 0h0m0.9 3.6h0m0.9 -3.6h0m0.8 -3.5h0m0.9 3.5h0m0.9 0h0m0.8 3.6h0m0.9 -7.1h0m0.9 3.5h0m0.8 0h0m0.9 0h0m0.9 -3.5h0m0.8 3.5h0m0.9 0h0m0.9 3.6h0m0.8 -3.6h0m0.9 3.6h0m0.9 0h0m0.8 0h0m0.9 -3.6h0m0.9 3.6h0m0.8 -3.6h0m0.9 3.6h0m0.9 0h0m0.8 -3.6h0m0.9 3.6h0m0.9 0h0m0.8 0h0m0.9 0h0m0.9 0h0m0.8 6.9h0m0.9 -6.9h0m0.9 0h0m0.8 0h0m0.9 0h0m0.9 0h0m0.8 0h0m0.9 0h0m0.9 0h0m0.8 6.9h0m0.9 -6.9h0m0.9 0h0m0.8 0h0m0.9 0h0m0.9 0h0m0.8 0h0m0.9 0h0m0.9 0h0m0.8 0h0m0.9 0h0m0.9 3.6h0m0.8 -3.6h0m0.9 0h0m0.9 -3.6h0m0.8 10.5h0m0.9 -6.9h0m0.9 0h0m0.8 -3.6h0m0.9 0h0m0.9 3.6h0m0.8 6.9h0m0.9 -3.3h0m0.9 -3.6h0m0.8 0h0m0.9 -3.6h0m0.9 3.6h0m0.8 0h0m0.9 0h0m0.9 0h0m0.8 0h0m0.9 0h0m0.9 0h0m0.8 0h0m0.9 0h0m0.9 0h0m0.8 0h0m0.9 0h0m0.9 0h0m0.8 0h0m0.9 0h0m0.9 0h0m0.8 0h0m0.9 0h0m0.9 6.9h0m0.8 0h0m0.9 -6.9h0m0.9 0h0m0.9 0h0m0.8 0h0m0.9 0h0m0.9 0h0m0.8 0h0m0.9 0h0m0.9 0h0m0.8 0h0m0.9 0h0m0.9 0h0m0.8 -3.6h0m0.9 3.6h0m0.9 0h0m0.8 0h0m0.9 0h0m0.9 0h0m0.8 0h0m0.9 0h0m0.9 0h0m0.8 -3.6h0m0.9 3.6h0m0.9 0h0m0.8 0h0m0.9 0h0m0.9 0h0m0.8 0h0m0.9 0h0m0.9 3.6h0m0.8 -3.6h0m0.9 0h0m0.9 0h0m0.8 3.6h0m0.9 0h0m0.9 -3.6h0m0.8 3.6h0m0.9 -3.6h0m0.9 6.9h0m0.8 -6.9h0m0.9 6.9h0m0.9 -6.9h0m0.8 3.6h0m0.9 -3.6h0m0.9 6.9h0m0.8 0h0m0.9 -6.9h0m0.9 3.6h0m0.8 3.3h0m0.9 -6.9h0m0.9 3.6h0m0.8 3.3h0m0.9 0h0m0.9 -3.3h0m0.8 3.3h0m0.9 -3.3h0m0.9 -3.6h0m0.8 0h0m0.9 6.9h0m0.9 -3.3h0m0.8 0h0m0.9 -3.6h0m0.9 3.6h0m0.8 -3.6h0m0.9 0h0m0.9 6.9h0m0.8 -6.9h0m0.9 3.6h0m0.9 0h0m0.8 3.3h0m0.9 -3.3h0m0.9 3.3h0m0.8 0h0m0.9 0h0m0.9 -3.3h0m0.8 3.3h0m0.9 -6.9h0m0.9 0h0m0.8 0h0m0.9 6.9h0m0.9 -6.9h0m0.8 3.6h0m0.9 -3.6h0m0.9 0h0m0.8 6.9h0m0.9 0h0m0.9 -3.3h0m0.8 0h0m0.9 -3.6h0m0.9 0h0m0.8 3.6h0m0.9 3.3h0m0.9 -6.9h0m0.8 0h0m0.9 6.9h0m0.9 -6.9h0m0.8 3.6h0m0.9 3.3h0m0.9 0h0m0.8 0h0m0.9 -6.9h0m0.9 3.6h0m0.9 0h0m0.8 3.3h0m0.9 -6.9h0m0.9 3.6h0m0.8 3.3h0m0.9 0h0m0.9 0h0m0.8 0h0m0.9 0h0m0.9 0h0m0.8 -6.9h0m0.9 6.9h0m0.9 0h0m0.8 0h0m0.9 -3.3h0m0.9 3.3h0m0.8 -3.3h0m0.9 3.3h0m0.9 0h0m0.8 -3.3h0m0.9 3.3h0m0.9 0h0m0.8 0h0m0.9 0h0m0.9 0h0m0.8 -6.9h0m0.9 0h0m0.9 3.6h0m0.8 3.3h0m0.9 -3.3h0m0.9 0h0m0.8 3.3h0m0.9 0h0m0.9 -3.3h0m0.8 3.3h0m0.9 0h0m0.9 -3.3h0m0.8 0h0m0.9 3.3h0m0.9 0h0m0.8 0h0m0.9 0h0m0.9 -3.3h0m0.8 3.3h0m0.9 0h0m0.9 -3.3h0m0.8 0h0m0.9 3.3h0m0.9 0h0m0.8 0h0m0.9 -3.3h0m0.9 0h0m0.8 3.3h0m0.9 -3.3h0m0.9 0h0m0.8 3.3h0m0.9 -3.3h0m0.9 3.3h0m0.8 0h0m0.9 0h0m0.9 -3.3h0m0.8 3.3h0m0.9 0h0m0.9 -3.3h0m0.8 0h0m0.9 0h0m0.9 0h0m0.8 0h0m0.9 0h0m0.9 3.3h0m0.8 -6.9h0m0.9 6.9h0m0.9 0h0m0.8 -3.3h0m0.9 -3.6h0m0.9 6.9h0m0.8 0h0m0.9 -3.3h0m0.9 3.3h0m0.8 -3.3h0m0.9 -3.6h0m0.9 0h0m0.8 0h0m0.9 0h0m0.9 0h0m0.8 0h0m0.9 0h0m0.9 0h0m0.8 0h0m0.9 0h0m0.9 0h0m0.8 -3.6h0m0.9 0h0m0.9 0h0m0.8 0h0m0.9 0h0m0.9 0h0m0.8 0h0m0.9 0h0m0.9 0h0m0.9 0h0m0.8 0h0m0.9 3.6h0m0.9 -3.6h0m0.8 -3.5h0m0.9 0h0m0.9 0h0m0.8 -4h0m0.9 4h0m0.9 3.5h0m0.8 0h0m0.9 0h0m0.9 -3.5h0m0.8 3.5h0m0.9 0h0m0.9 0h0m0.8 -3.5h0m0.9 0h0m0.9 0h0m0.8 0h0m0.9 -4h0m0.9 4h0m0.8 0h0m0.9 0h0m0.9 3.5h0m0.8 -3.5h0m0.9 0h0m0.9 0h0m0.8 0h0m0.9 0h0m0.9 0h0m0.8 0h0m0.9 0h0m0.9 -4h0m0.8 7.5h0m0.9 0h0m0.9 -3.5h0m0.8 0h0m0.9 0h0m0.9 0h0m0.8 0h0m0.9 0h0m0.9 3.5h0m0.8 -3.5h0m0.9 -4h0m0.9 4h0m0.8 3.5h0m0.9 -3.5h0m0.9 0h0m0.8 3.5h0m0.9 -3.5h0m0.9 3.5h0m0.8 -3.5h0m0.9 0h0m0.9 0h0m0.8 3.5h0m0.9 -3.5h0m0.9 0h0m0.8 0h0m0.9 0h0m0.9 -4h0m0.8 4h0m0.9 -4h0m0.9 0h0m0.8 0h0m0.9 0h0m0.9 -3.6h0m0.8 0h0m0.9 0h0m0.9 0h0m0.8 0h0m0.9 0h0m0.9 3.6h0m0.8 -3.6h0m0.9 3.6h0m0.9 -3.6h0m0.8 0h0m0.9 0h0m0.9 0h0m0.8 0h0m0.9 0h0m0.9 -3.3h0m0.8 0h0m0.9 0h0m0.9 0h0m0.8 3.3h0m0.9 -3.3h0" stroke="#ff0000" stroke-width="3.2" stroke-linecap="round" fill="none"/><path d="M75.5 119.3L76.37 119.3L77.23 119.3L78.1 119.3L78.97 119.3L79.84 119.3L80.7 119.3L81.57 119.3L82.44 119.3L83.3 115.7L84.17 112.4L85.04 119.3L85.9 115.7L86.77 115.7L87.64 115.7L88.51 119.3L89.37 115.7L90.24 115.7L91.11 112.4L91.97 115.7L92.84 112.4L93.71 112.4L94.57 115.7L95.44 112.4L96.31 112.4L97.18 105.4L98.04 109.4L98.91 109.4L99.78 109.4L100.64 109.4L101.51 112.4L102.38 109.4L103.24 109.4L104.11 109.4L104.98 101.4L105.85 105.4L106.71 101.4L107.58 109.4L108.45 101.4L109.31 101.4L110.18 101.4L111.05 101.4L111.91 101.4L112.78 101.4L113.65 101.4L114.52 101.4L115.38 101.4L116.25 97.7L117.12 97.7L117.98 101.4L118.85 97.7L119.72 97.7L120.58 97.7L121.45 97.7L122.32 97.7L123.19 101.4L124.05 97.7L124.92 97.7L125.79 101.4L126.65 101.4L127.52 97.7L128.39 97.7L129.25 97.7L130.12 94.5L130.99 94.5L131.86 94.5L132.72 94.5L133.59 94.5L134.46 94.5L135.32 94.5L136.19 87.3L137.06 87.3L137.92 87.3L138.79 87.3L139.66 87.3L140.53 87.3L141.39 87.3L142.26 87.3L143.13 87.3L143.99 87.3L144.86 83.6L145.73 87.3L146.59 87.3L147.46 80.3L148.33 80.3L149.2 83.6L150.06 83.6L150.93 83.6L151.8 80.3L152.66 80.3L153.53 80.3L154.4 80.3L155.26 76.7L156.13 76.7L157 76.7L157.86 73.3L158.73 73.3L159.6 73.3L160.47 73.3L161.33 73.3L162.2 73.3L163.07 76.7L163.93 73.3L164.8 73.3L165.67 73.3L166.53 80.3L167.4 73.3L168.27 76.7L169.14 73.3L170 80.3L170.87 73.3L171.74 80.3L172.6 73.3L173.47 73.3L174.34 80.3L175.2 73.3L176.07 73.3L176.94 76.7L177.81 73.3L178.67 73.3L179.54 73.3L180.41 73.3L181.27 73.3L182.14 73.3L183.01 73.3L183.87 73.3L184.74 73.3L185.61 73.3L186.48 73.3L187.34 73.3L188.21 76.7L189.08 73.3L189.94 73.3L190.81 73.3L191.68 73.3L192.54 76.7L193.41 73.3L194.28 80.3L195.15 73.3L196.01 73.3L196.88 73.3L197.75 73.3L198.61 65.4L199.48 65.4L200.35 65.4L201.21 65.4L202.08 69.4L202.95 69.4L203.82 69.4L204.68 65.4L205.55 65.4L206.42 65.4L207.28 65.4L208.15 65.4L209.02 65.4L209.88 69.4L210.75 65.4L211.62 58.4L212.49 69.4L213.35 65.4L214.22 69.4L215.09 69.4L215.95 65.4L216.82 69.4L217.69 69.4L218.55 65.4L219.42 65.4L220.29 65.4L221.16 65.4L222.02 69.4L222.89 65.4L223.76 69.4L224.62 65.4L225.49 69.4L226.36 65.4L227.22 69.4L228.09 65.4L228.96 65.4L229.83 65.4L230.69 69.4L231.56 58.4L232.43 58.4L233.29 58.4L234.16 58.4L235.03 58.4L235.89 58.4L236.76 58.4L237.63 58.4L238.5 58.4L239.36 58.4L240.23 58.4L241.1 61.8L241.96 61.8L242.83 58.4L243.7 58.4L244.56 58.4L245.43 58.4L246.3 58.4L247.17 58.4L248.03 58.4L248.9 58.4L249.77 58.4L250.63 61.8L251.5 65.4L252.37 61.8L253.23 61.8L254.1 65.4L254.97 65.4L255.84 69.4L256.7 65.4L257.57 65.4L258.44 65.4L259.3 65.4L260.17 65.4L261.04 65.4L261.9 65.4L262.77 65.4L263.64 65.4L264.51 65.4L265.37 69.4L266.24 73.3L267.11 73.3L267.97 76.7L268.84 73.3L269.71 73.3L270.57 69.4L271.44 73.3L272.31 73.3L273.18 73.3L274.04 69.4L274.91 73.3L275.78 73.3L276.64 73.3L277.51 73.3L278.38 73.3L279.24 73.3L280.11 73.3L280.98 73.3L281.85 76.7L282.71 73.3L283.58 76.7L284.45 76.7L285.31 73.3L286.18 76.7L287.05 76.7L287.91 73.3L288.78 73.3L289.65 76.7L290.52 73.3L291.38 73.3L292.25 76.7L293.12 73.3L293.98 73.3L294.85 76.7L295.72 76.7L296.58 73.3L297.45 73.3L298.32 76.7L299.19 80.3L300.05 73.3L300.92 76.7L301.79 73.3L302.65 73.3L303.52 73.3L304.39 73.3L305.25 80.3L306.12 76.7L306.99 76.7L307.86 73.3L308.72 73.3L309.59 73.3L310.46 73.3L311.32 73.3L312.19 73.3L313.06 73.3L313.93 73.3L314.79 76.7L315.66 69.4L316.53 73.3L317.39 76.7L318.26 73.3L319.13 73.3L319.99 73.3L320.86 73.3L321.73 73.3L322.6 73.3L323.46 73.3L324.33 69.4L325.2 73.3L326.06 76.7L326.93 73.3L327.8 73.3L328.66 73.3L329.53 73.3L330.4 76.7L331.27 73.3L332.13 73.3L333 76.7L333.87 73.3L334.73 73.3L335.6 73.3L336.47 73.3L337.33 73.3L338.2 69.4L339.07 73.3L339.94 73.3L340.8 73.3L341.67 73.3L342.54 73.3L343.4 73.3L344.27 73.3L345.14 73.3L346 73.3L346.87 76.7L347.74 73.3L348.61 69.4L349.47 73.3L350.34 73.3L351.21 69.4L352.07 69.4L352.94 73.3L353.81 69.4L354.67 69.4L355.54 73.3L356.41 69.4L357.28 69.4L358.14 73.3L359.01 73.3L359.88 69.4L360.74 69.4L361.61 73.3L362.48 73.3L363.34 73.3L364.21 69.4L365.08 73.3L365.95 69.4L366.81 73.3L367.68 73.3L368.55 73.3L369.41 69.4L370.28 73.3L371.15 69.4L372.01 69.4L372.88 73.3L373.75 69.4L374.62 73.3L375.48 73.3L376.35 73.3L377.22 69.4L378.08 73.3L378.95 73.3L379.82 69.4L380.68 69.4L381.55 73.3L382.42 69.4L383.29 69.4L384.15 73.3L385.02 73.3L385.89 73.3L386.75 73.3L387.62 69.4L388.49 73.3L389.35 73.3L390.22 73.3L391.09 73.3L391.96 76.7L392.82 69.4L393.69 76.7L394.56 73.3L395.42 69.4L396.29 69.4L397.16 73.3L398.02 73.3L398.89 73.3L399.76 80.3L400.63 80.3L401.49 73.3L402.36 76.7L403.23 73.3L404.09 73.3L404.96 73.3L405.83 80.3L406.69 73.3L407.56 76.7L408.43 73.3L409.3 80.3L410.16 76.7L411.03 73.3L411.9 80.3L412.76 73.3L413.63 76.7L414.5 76.7L415.36 80.3L416.23 80.3L417.1 76.7L417.97 80.3L418.83 76.7L419.7 76.7L420.57 80.3L421.43 83.6L422.3 83.6L423.17 83.6L424.03 80.3L424.9 83.6L425.77 80.3L426.64 80.3L427.5 80.3L428.37 80.3L429.24 76.7L430.1 80.3L430.97 80.3L431.84 83.6L432.7 80.3L433.57 83.6L434.44 83.6L435.31 83.6L436.17 83.6L437.04 80.3L437.91 83.6L438.77 80.3L439.64 80.3L440.51 80.3L441.37 80.3L442.24 80.3L443.11 83.6L443.98 87.3L444.84 80.3L445.71 83.6L446.58 80.3L447.44 80.3L448.31 87.3L449.18 76.7L450.04 76.7L450.91 80.3L451.78 76.7L452.65 80.3L453.51 80.3L454.38 80.3L455.25 80.3L456.11 83.6L456.98 80.3L457.85 87.3L458.71 87.3L459.58 87.3L460.45 87.3L461.32 87.3L462.18 87.3L463.05 87.3L463.92 87.3L464.78 87.3L465.65 87.3L466.52 87.3L467.38 83.6L468.25 87.3L469.12 87.3L469.99 87.3L470.85 87.3L471.72 87.3L472.59 87.3L473.45 91.2L474.32 91.2L475.19 91.2L476.05 91.2L476.92 91.2L477.79 94.5L478.66 94.5L479.52 91.2L480.39 94.5L481.26 97.7L482.12 94.5L482.99 97.7L483.86 97.7L484.72 91.2L485.59 91.2L486.46 94.5L487.33 91.2L488.19 94.5L489.06 94.5L489.93 94.5L490.79 97.7L491.66 97.7L492.53 97.7L493.39 94.5L494.26 97.7L495.13 97.7L496 97.7L496.86 97.7L497.73 97.7L498.6 97.7L499.46 97.7L500.33 97.7L501.2 97.7L502.06 97.7L502.93 97.7L503.8 97.7L504.67 97.7L505.53 97.7L506.4 97.7L507.27 97.7L508.13 101.4L509 94.5L509.87 101.4L510.73 101.4L511.6 97.7L512.47 97.7L513.34 101.4L514.2 101.4L515.07 97.7L515.94 101.4L516.8 101.4L517.67 101.4L518.54 101.4L519.4 97.7L520.27 101.4L521.14 97.7L522.01 97.7L522.87 101.4L523.74 97.7L524.61 97.7L525.47 101.4L526.34 101.4L527.21 101.4L528.07 97.7L528.94 101.4L529.81 101.4L530.68 94.5L531.54 97.7L532.41 97.7L533.28 101.4L534.14 101.4L535.01 101.4L535.88 101.4L536.74 97.7L537.61 97.7L538.48 101.4L539.35 101.4L540.21 97.7L541.08 101.4L541.95 97.7L542.81 97.7L543.68 101.4L544.55 101.4L545.41 101.4L546.28 101.4L547.15 101.4L548.02 101.4L548.88 97.7L549.75 101.4L550.62 101.4L551.48 101.4L552.35 101.4L553.22 97.7L554.08 101.4L554.95 101.4L555.82 101.4L556.69 101.4L557.55 101.4L558.42 97.7L559.29 101.4L560.15 101.4L561.02 105.4L561.89 101.4L562.75 101.4L563.62 105.4L564.49 101.4L565.36 105.4L566.22 105.4L567.09 101.4L567.96 101.4L568.82 101.4L569.69 105.4L570.56 105.4L571.42 101.4L572.29 105.4L573.16 101.4L574.03 109.4L574.89 97.7L575.76 101.4L576.63 105.4L577.49 105.4L578.36 97.7L579.23 101.4L580.09 101.4L580.96 105.4L581.83 101.4L582.7 105.4L583.56 101.4L584.43 101.4L585.3 101.4L586.16 101.4L587.03 101.4L587.9 101.4L588.76 101.4L589.63 101.4L590.5 105.4L591.37 105.4L592.23 101.4L593.1 101.4L593.97 105.4L594.83 109.4L595.7 101.4L596.57 109.4L597.43 109.4L598.3 105.4L599.17 105.4L600.04 105.4L600.9 109.4L601.77 105.4L602.64 109.4L603.5 109.4L604.37 109.4L605.24 109.4L606.1 101.4L606.97 101.4L607.84 109.4L608.71 109.4L609.57 109.4L610.44 105.4L611.31 101.4L612.17 105.4L613.04 109.4L613.91 105.4L614.77 109.4L615.64 109.4L616.51 109.4L617.37 109.4L618.24 109.4L619.11 109.4L619.98 105.4L620.84 109.4L621.71 109.4L622.58 105.4L623.44 105.4L624.31 109.4L625.18 101.4L626.04 101.4L626.91 109.4L627.78 101.4L628.65 109.4L629.51 109.4L630.38 105.4L631.25 105.4L632.11 109.4L632.98 109.4L633.85 105.4L634.71 109.4L635.58 105.4L636.45 109.4L637.32 101.4L638.18 109.4L639.05 105.4L639.92 109.4L640.78 109.4L641.65 105.4L642.52 109.4L643.38 101.4L644.25 109.4L645.12 109.4L645.99 101.4L646.85 105.4L647.72 109.4L648.59 109.4L649.45 109.4L650.32 109.4L651.19 105.4L652.05 105.4L652.92 109.4L653.79 109.4L654.66 101.4L655.52 105.4L656.39 109.4L657.26 105.4L658.12 105.4L658.99 101.4L659.86 105.4L660.72 109.4L661.59 109.4L662.46 105.4L663.33 105.4L664.19 109.4L665.06 105.4L665.93 105.4L666.79 109.4L667.66 105.4L668.53 109.4L669.39 112.4L670.26 112.4L671.13 109.4L672 112.4L672.86 115.7L673.73 115.7L674.6 115.7L675.46 112.4L676.33 112.4L677.2 112.4L678.06 112.4L678.93 112.4L679.8 112.4L680.67 112.4L681.53 112.4L682.4 112.4L683.27 112.4L684.13 109.4L685 112.4L685.87 112.4L686.73 112.4L687.6 115.7L688.47 112.4L689.34 112.4L690.2 112.4L691.07 115.7L691.94 112.4L692.8 115.7L693.67 115.7L694.54 115.7L695.4 112.4L696.27 112.4L697.14 112.4L698.01 112.4L698.87 112.4L699.74 112.4L700.61 115.7L701.47 109.4L702.34 112.4L703.21 109.4L704.07 112.4L704.94 115.7L705.81 112.4L706.68 115.7L707.54 112.4L708.41 112.4L709.28 112.4L710.14 109.4L711.01 112.4L711.88 115.7L712.74 115.7L713.61 115.7L714.48 112.4L715.35 115.7L716.21 112.4L717.08 115.7L717.95 112.4L718.81 112.4L719.68 112.4L720.55 112.4L721.41 115.7L722.28 112.4L723.15 112.4L724.02 115.7L724.88 112.4L725.75 119.3L726.62 115.7L727.48 115.7L728.35 115.7L729.22 115.7L730.08 115.7L730.95 115.7L731.82 119.3L732.69 119.3L733.55 119.3L734.42 119.3L735.29 119.3L736.15 119.3L737.02 115.7L737.89 115.7L738.75 123.3L739.62 123.3L740.49 123.3L741.36 123.3L742.22 123.3L743.09 123.3L743.96 123.3L744.82 126.8L745.69 123.3L746.56 123.3L747.42 119.3L748.29 123.3L749.16 119.3L750.03 123.3L750.89 123.3L751.76 123.3L752.63 123.3L753.49 123.3L754.36 123.3L755.23 123.3L756.09 123.3L756.96 126.8L757.83 123.3L758.7 123.3L759.56 123.3L760.43 123.3L761.3 123.3L762.16 123.3L763.03 126.8L763.9 119.3L764.76 123.3L765.63 123.3L766.5 119.3L767.37 123.3L768.23 123.3L769.1 123.3L769.97 123.3L770.83 123.3L771.7 123.3L772.57 123.3L773.43 123.3L774.3 123.3L775.17 123.3L776.04 123.3L776.9 123.3L777.77 123.3L778.64 123.3L779.5 123.3L780.37 123.3L781.24 123.3L782.1 126.8L782.97 123.3L783.84 123.3L784.71 123.3L785.57 123.3L786.44 123.3L787.31 123.3L788.17 123.3L789.04 123.3L789.91 123.3L790.77 119.3L791.64 123.3L792.51 123.3L793.38 123.3L794.24 123.3L795.11 119.3L795.98 123.3L796.84 123.3L797.71 123.3L798.58 126.8L799.44 126.8L800.31 123.3L801.18 123.3L802.05 126.8L802.91 123.3L803.78 126.8L804.65 126.8L805.51 126.8L806.38 126.8L807.25 123.3L808.11 126.8L808.98 123.3L809.85 130.4L810.72 126.8L811.58 123.3L812.45 123.3L813.32 126.8L814.18 123.3L815.05 126.8L815.92 126.8L816.78 126.8L817.65 123.3L818.52 123.3L819.39 123.3L820.25 123.3L821.12 123.3L821.99 123.3L822.85 130.4L823.72 123.3L824.59 126.8L825.45 126.8L826.32 126.8L827.19 126.8L828.06 130.4L828.92 130.4L829.79 130.4L830.66 130.4L831.52 130.4L832.39 126.8L833.26 126.8L834.12 126.8L834.99 130.4L835.86 126.8L836.73 130.4L837.59 130.4L838.46 126.8L839.33 126.8L840.19 130.4L841.06 130.4L841.93 126.8L842.79 130.4L843.66 126.8L844.53 126.8L845.4 130.4L846.26 130.4L847.13 130.4L848 130.4L848.86 126.8L849.73 130.4L850.6 130.4L851.46 130.4L852.33 126.8L853.2 126.8L854.07 126.8L854.93 126.8L856.3 94.4L857.3 37.3L858.1 23.1L859.1 17L859.9 16.4L860.7 16.4L861.6 101.2L862.5 115.4L863.6 126.8L864.47 126.8L865.34 123.3L866.2 123.3L867.07 126.8L867.94 123.3L868.8 123.3L869.67 126.8L870.54 126.8L871.41 126.8L872.27 126.8L873.14 123.3L874.01 126.8L874.87 123.3L875.74 123.3L876.61 123.3L877.47 126.8L878.34 123.3L879.21 123.3L880.08 123.3L880.94 123.3L881.81 126.8L882.68 126.8L883.54 123.3L884.41 123.3L885.28 130.4L886.14 123.3L887.01 126.8L887.88 126.8L888.75 130.4L889.61 126.8L890.48 123.3L891.35 126.8L892.21 123.3L893.08 130.4L893.95 126.8L894.81 123.3L895.68 126.8L896.55 123.3L897.42 126.8L898.28 123.3L899.15 126.8L900.02 126.8L900.88 123.3L901.75 126.8L902.62 126.8L903.48 126.8L904.35 126.8L905.22 126.8L906.09 130.4L906.95 126.8L907.82 123.3L908.69 123.3L909.55 123.3L910.42 123.3L911.29 123.3L912.15 123.3L913.02 126.8L913.89 123.3L914.76 123.3L915.62 123.3L916.49 130.4L917.36 126.8L918.22 126.8L919.09 130.4L919.96 123.3L920.82 123.3L921.69 123.3L922.56 126.8L923.43 123.3L924.29 126.8L925.16 126.8L926.03 126.8L926.89 123.3L927.76 126.8L928.63 123.3L929.49 123.3L930.36 126.8L931.23 123.3L932.1 126.8L932.96 126.8L933.83 123.3L934.7 126.8L935.56 123.3L936.43 126.8L937.3 123.3L938.16 123.3L939.03 126.8L939.9 126.8L940.77 123.3L941.63 130.4L942.5 123.3L943.37 126.8L944.23 126.8L945.1 123.3L945.97 123.3L946.83 130.4L947.7 130.4L948.57 126.8L949.44 126.8L950.3 126.8L951.17 126.8L952.04 126.8L952.9 126.8L953.77 126.8L954.64 123.3L955.5 126.8L956.37 126.8L957.24 123.3L958.11 126.8L958.97 126.8L959.84 126.8L960.71 126.8L961.57 126.8L962.44 126.8L963.31 130.4L964.17 126.8L965.04 126.8L965.91 126.8L966.78 126.8L967.64 126.8L968.51 126.8L969.38 126.8L970.24 126.8L971.11 123.3L971.98 126.8L972.84 126.8L973.71 126.8L974.58 126.8L975.45 123.3L976.31 126.8L977.18 126.8L978.05 126.8L978.91 123.3L979.78 126.8L980.65 126.8L981.51 126.8L982.38 130.4L983.25 130.4L984.12 130.4L984.98 130.4L985.85 123.3L986.72 123.3L987.58 130.4L988.45 126.8L989.32 126.8L990.18 130.4L991.05 126.8L991.92 126.8L992.79 130.4L993.65 126.8L994.52 126.8L995.39 130.4L996.25 126.8L997.12 126.8L997.99 126.8L998.85 126.8L999.72 123.3L1000.59 130.4L1001.46 123.3L1002.32 126.8L1003.19 126.8L1004.06 126.8L1004.92 123.3L1005.79 126.8L1006.66 126.8L1007.52 126.8L1008.39 126.8L1009.26 126.8L1010.13 126.8L1010.99 126.8L1011.86 130.4L1012.73 130.4L1013.59 126.8L1014.46 130.4L1015.33 126.8L1016.19 130.4L1017.06 130.4L1017.93 126.8L1018.8 130.4L1019.66 126.8L1020.53 126.8L1021.4 126.8L1022.26 130.4L1023.13 130.4L1024 130.4L1024.86 130.4L1025.73 130.4L1026.6 130.4L1027.47 130.4L1028.33 130.4L1029.2 130.4L1030.07 130.4L1030.93 130.4L1031.8 130.4L1032.67 130.4L1033.53 130.4L1034.4 130.4L1035.27 130.4L1036.14 130.4L1037 130.4L1037.87 130.4L1038.74 130.4L1039.6 130.4L1040.47 130.4L1041.34 130.4L1042.2 130.4L1043.07 130.4L1043.94 130.4L1044.81 130.4L1045.67 130.4L1046.54 130.4L1047.41 130.4L1048.27 130.4L1049.14 134L1050.01 130.4L1050.87 130.4L1051.74 130.4L1052.61 130.4L1053.48 130.4L1054.34 130.4L1055.21 130.4L1056.08 130.4L1056.94 130.4L1057.81 130.4L1058.68 137.3L1059.54 130.4L1060.41 130.4L1061.28 130.4L1062.15 130.4L1063.01 130.4L1063.88 130.4L1064.75 130.4L1065.61 130.4L1066.48 130.4L1067.35 130.4L1068.21 130.4L1069.08 130.4L1069.95 130.4L1070.82 130.4L1071.68 130.4L1072.55 130.4L1073.42 130.4L1074.28 130.4L1075.15 130.4L1076.02 126.8L1076.88 130.4L1077.75 130.4L1078.62 126.8L1079.49 130.4L1080.35 130.4L1081.22 130.4L1082.09 130.4L1082.95 130.4L1083.82 130.4L1084.69 130.4L1085.55 130.4L1086.42 130.4L1087.29 130.4L1088.16 130.4L1089.02 130.4L1089.89 130.4L1090.76 134L1091.62 126.8L1092.49 130.4L1093.36 130.4L1094.22 130.4L1095.09 130.4L1095.96 130.4L1096.83 130.4L1097.69 130.4L1098.56 130.4L1099.43 130.4L1100.29 130.4L1101.16 130.4L1102.03 134L1102.89 130.4L1103.76 134L1104.63 137.3L1105.5 137.3L1106.36 134L1107.23 134L1108.1 137.3L1108.96 130.4L1109.83 137.3L1110.7 130.4L1111.56 130.4L1112.43 130.4L1113.3 137.3L1114.17 137.3L1115.03 137.3L1115.9 130.4L1116.77 137.3L1117.63 137.3L1118.5 137.3L1119.37 134L1120.23 130.4L1121.1 134L1121.97 137.3L1122.84 137.3L1123.7 137.3L1124.57 130.4L1125.44 137.3L1126.3 134L1127.17 130.4L1128.04 134L1128.9 134L1129.77 137.3L1130.64 130.4L1131.51 134L1132.37 137.3L1133.24 130.4L1134.11 130.4L1134.97 134L1135.84 134L1136.71 130.4L1137.57 134L1138.44 137.3L1139.31 130.4L1140.18 134L1141.04 130.4L1141.91 130.4L1142.78 134L1143.64 134L1144.51 134L1145.38 130.4L1146.24 137.3L1147.11 130.4L1147.98 137.3L1148.85 130.4L1149.71 134L1150.58 134L1151.45 137.3L1152.31 134L1153.18 137.3L1154.05 130.4L1154.91 130.4L1155.78 137.3L1156.65 130.4L1157.52 137.3L1158.38 130.4L1159.25 137.3L1160.12 134L1160.98 137.3L1161.85 134L1162.72 134L1163.58 130.4L1164.45 134L1165.32 137.3L1166.19 137.3L1167.05 137.3L1167.92 137.3L1168.79 134L1169.65 134L1170.52 137.3L1171.39 137.3L1172.25 137.3L1173.12 134L1173.99 134L1174.86 134L1175.72 137.3L1176.59 137.3L1177.46 137.3L1178.32 134L1179.19 130.4L1180.06 137.3L1180.92 134L1181.79 137.3L1182.66 137.3L1183.53 130.4L1184.39 134L1185.26 130.4L1186.13 134L1186.99 134L1187.86 137.3L1188.73 130.4L1189.59 134L1190.46 137.3L1191.33 137.3L1192.2 134L1193.06 137.3L1193.93 137.3L1194.8 137.3L1195.66 134L1196.53 137.3L1197.4 134L1198.26 137.3L1199.13 137.3L1200 137.3L1200.87 137.3L1201.73 137.3L1202.6 137.3L1203.47 134L1204.33 137.3L1205.2 137.3L1206.07 134L1206.93 134L1207.8 130.4L1208.67 137.3L1209.54 137.3L1210.4 130.4L1211.27 134L1212.14 134L1213 137.3L1213.87 137.3L1214.74 137.3L1215.6 134L1216.47 134L1217.34 134L1218.21 130.4L1219.07 137.3L1219.94 137.3L1220.81 134L1221.67 137.3L1222.54 134L1223.41 134L1224.27 134L1225.14 137.3L1226.01 137.3L1226.88 134L1227.74 137.3L1228.61 134L1229.48 137.3L1230.34 137.3L1231.21 130.4L1232.08 130.4L1232.94 130.4L1233.81 130.4L1234.68 130.4L1235.55 134L1236.41 130.4L1237.28 130.4L1238.15 130.4L1239.01 130.4L1239.88 130.4L1240.75 126.8L1241.61 126.8L1242.48 126.8L1243.35 126.8L1244.22 126.8L1245.08 126.8L1245.95 126.8L1246.82 126.8L1247.68 126.8L1248.55 126.8L1249.42 126.8L1250.28 126.8L1251.15 126.8L1252.02 126.8L1252.89 123.3L1253.75 123.3L1254.62 123.3L1255.49 119.3L1256.35 123.3L1257.22 126.8L1258.09 126.8L1258.95 123.3L1259.82 126.8L1260.69 119.3L1261.56 123.3L1262.42 126.8L1263.29 126.8L1264.16 123.3L1265.02 123.3L1265.89 123.3L1266.76 123.3L1267.62 123.3L1268.49 123.3L1269.36 123.3L1270.23 123.3L1271.09 123.3L1271.96 123.3L1272.83 123.3L1273.69 126.8L1274.56 119.3L1275.43 119.3L1276.29 123.3L1277.16 123.3L1278.03 123.3L1278.9 123.3L1279.76 123.3L1280.63 126.8L1281.5 123.3L1282.36 123.3L1283.23 126.8L1284.1 123.3L1284.96 126.8L1285.83 126.8L1286.7 126.8L1287.57 126.8L1288.43 126.8L1289.3 123.3L1290.17 123.3L1291.03 126.8L1291.9 119.3L1292.77 123.3L1293.63 126.8L1294.5 126.8L1295.37 123.3L1296.24 123.3L1297.1 123.3L1297.97 123.3L1298.84 123.3L1299.7 119.3L1300.57 115.7L1301.44 123.3L1302.3 119.3L1303.17 119.3L1304.04 123.3L1304.91 115.7L1305.77 115.7L1306.64 115.7L1307.51 115.7L1308.37 115.7L1309.24 115.7L1310.11 115.7L1310.97 115.7L1311.84 115.7L1312.71 115.7L1313.58 115.7L1314.44 115.7L1315.31 115.7L1316.18 119.3L1317.04 115.7L1317.91 115.7L1318.78 112.4L1319.64 112.4L1320.51 115.7L1321.38 112.4L1322.25 112.4L1323.11 112.4" stroke="#008000" stroke-width="0.7" fill="none"/><path d="M75.5 119.3h0m0.9 0h0m0.8 0h0m0.9 0h0m0.9 0h0m0.8 0h0m0.9 0h0m0.9 0h0m0.8 0h0m0.9 -3.6h0m0.9 -3.3h0m0.8 6.9h0m0.9 -3.6h0m0.9 0h0m0.8 0h0m0.9 3.6h0m0.9 -3.6h0m0.8 0h0m0.9 -3.3h0m0.9 3.3h0m0.8 -3.3h0m0.9 0h0m0.9 3.3h0m0.8 -3.3h0m0.9 0h0m0.9 -7h0m0.8 4h0m0.9 0h0m0.9 0h0m0.8 0h0m0.9 3h0m0.9 -3h0m0.8 0h0m0.9 0h0m0.9 -8h0m0.8 4h0m0.9 -4h0m0.9 8h0m0.8 -8h0m0.9 0h0m0.9 0h0m0.8 0h0m0.9 0h0m0.9 0h0m0.8 0h0m0.9 0h0m0.9 0h0m0.8 -3.7h0m0.9 0h0m0.9 3.7h0m0.9 -3.7h0m0.8 0h0m0.9 0h0m0.9 0h0m0.8 0h0m0.9 3.7h0m0.9 -3.7h0m0.8 0h0m0.9 3.7h0m0.9 0h0m0.8 -3.7h0m0.9 0h0m0.9 0h0m0.8 -3.2h0m0.9 0h0m0.9 0h0m0.8 0h0m0.9 0h0m0.9 0h0m0.8 0h0m0.9 -7.2h0m0.9 0h0m0.8 0h0m0.9 0h0m0.9 0h0m0.8 0h0m0.9 0h0m0.9 0h0m0.8 0h0m0.9 0h0m0.9 -3.7h0m0.8 3.7h0m0.9 0h0m0.9 -7h0m0.8 0h0m0.9 3.3h0m0.9 0h0m0.8 0h0m0.9 -3.3h0m0.9 0h0m0.8 0h0m0.9 0h0m0.9 -3.6h0m0.8 0h0m0.9 0h0m0.9 -3.4h0m0.8 0h0m0.9 0h0m0.9 0h0m0.8 0h0m0.9 0h0m0.9 3.4h0m0.8 -3.4h0m0.9 0h0m0.9 0h0m0.8 7h0m0.9 -7h0m0.9 3.4h0m0.8 -3.4h0m0.9 7h0m0.9 -7h0m0.8 7h0m0.9 -7h0m0.9 0h0m0.8 7h0m0.9 -7h0m0.9 0h0m0.8 3.4h0m0.9 -3.4h0m0.9 0h0m0.8 0h0m0.9 0h0m0.9 0h0m0.8 0h0m0.9 0h0m0.9 0h0m0.8 0h0m0.9 0h0m0.9 0h0m0.8 0h0m0.9 3.4h0m0.9 -3.4h0m0.8 0h0m0.9 0h0m0.9 0h0m0.8 3.4h0m0.9 -3.4h0m0.9 7h0m0.8 -7h0m0.9 0h0m0.9 0h0m0.8 0h0m0.9 -7.9h0m0.9 0h0m0.8 0h0m0.9 0h0m0.9 4h0m0.8 0h0m0.9 0h0m0.9 -4h0m0.8 0h0m0.9 0h0m0.9 0h0m0.9 0h0m0.8 0h0m0.9 4h0m0.9 -4h0m0.8 -7h0m0.9 11h0m0.9 -4h0m0.8 4h0m0.9 0h0m0.9 -4h0m0.8 4h0m0.9 0h0m0.9 -4h0m0.8 0h0m0.9 0h0m0.9 0h0m0.8 4h0m0.9 -4h0m0.9 4h0m0.8 -4h0m0.9 4h0m0.9 -4h0m0.8 4h0m0.9 -4h0m0.9 0h0m0.8 0h0m0.9 4h0m0.9 -11h0m0.8 0h0m0.9 0h0m0.9 0h0m0.8 0h0m0.9 0h0m0.9 0h0m0.8 0h0m0.9 0h0m0.9 0h0m0.8 0h0m0.9 3.4h0m0.9 0h0m0.8 -3.4h0m0.9 0h0m0.9 0h0m0.8 0h0m0.9 0h0m0.9 0h0m0.8 0h0m0.9 0h0m0.9 0h0m0.8 3.4h0m0.9 3.6h0m0.9 -3.6h0m0.8 0h0m0.9 3.6h0m0.9 0h0m0.8 4h0m0.9 -4h0m0.9 0h0m0.8 0h0m0.9 0h0m0.9 0h0m0.8 0h0m0.9 0h0m0.9 0h0m0.8 0h0m0.9 0h0m0.9 4h0m0.8 3.9h0m0.9 0h0m0.9 3.4h0m0.8 -3.4h0m0.9 0h0m0.9 -3.9h0m0.8 3.9h0m0.9 0h0m0.9 0h0m0.8 -3.9h0m0.9 3.9h0m0.9 0h0m0.8 0h0m0.9 0h0m0.9 0h0m0.8 0h0m0.9 0h0m0.9 0h0m0.8 3.4h0m0.9 -3.4h0m0.9 3.4h0m0.8 0h0m0.9 -3.4h0m0.9 3.4h0m0.8 0h0m0.9 -3.4h0m0.9 0h0m0.8 3.4h0m0.9 -3.4h0m0.9 0h0m0.8 3.4h0m0.9 -3.4h0m0.9 0h0m0.9 3.4h0m0.8 0h0m0.9 -3.4h0m0.9 0h0m0.8 3.4h0m0.9 3.6h0m0.9 -7h0m0.8 3.4h0m0.9 -3.4h0m0.9 0h0m0.8 0h0m0.9 0h0m0.9 7h0m0.8 -3.6h0m0.9 0h0m0.9 -3.4h0m0.8 0h0m0.9 0h0m0.9 0h0m0.8 0h0m0.9 0h0m0.9 0h0m0.8 0h0m0.9 3.4h0m0.9 -7.3h0m0.8 3.9h0m0.9 3.4h0m0.9 -3.4h0m0.8 0h0m0.9 0h0m0.9 0h0m0.8 0h0m0.9 0h0m0.9 0h0m0.8 -3.9h0m0.9 3.9h0m0.9 3.4h0m0.8 -3.4h0m0.9 0h0m0.9 0h0m0.8 0h0m0.9 3.4h0m0.9 -3.4h0m0.8 0h0m0.9 3.4h0m0.9 -3.4h0m0.8 0h0m0.9 0h0m0.9 0h0m0.8 0h0m0.9 -3.9h0m0.9 3.9h0m0.8 0h0m0.9 0h0m0.9 0h0m0.8 0h0m0.9 0h0m0.9 0h0m0.8 0h0m0.9 0h0m0.9 3.4h0m0.8 -3.4h0m0.9 -3.9h0m0.9 3.9h0m0.8 0h0m0.9 -3.9h0m0.9 0h0m0.8 3.9h0m0.9 -3.9h0m0.9 0h0m0.8 3.9h0m0.9 -3.9h0m0.9 0h0m0.8 3.9h0m0.9 0h0m0.9 -3.9h0m0.8 0h0m0.9 3.9h0m0.9 0h0m0.8 0h0m0.9 -3.9h0m0.9 3.9h0m0.8 -3.9h0m0.9 3.9h0m0.9 0h0m0.8 0h0m0.9 -3.9h0m0.9 3.9h0m0.8 -3.9h0m0.9 0h0m0.9 3.9h0m0.8 -3.9h0m0.9 3.9h0m0.9 0h0m0.8 0h0m0.9 -3.9h0m0.9 3.9h0m0.9 0h0m0.8 -3.9h0m0.9 0h0m0.9 3.9h0m0.8 -3.9h0m0.9 0h0m0.9 3.9h0m0.8 0h0m0.9 0h0m0.9 0h0m0.8 -3.9h0m0.9 3.9h0m0.9 0h0m0.8 0h0m0.9 0h0m0.9 3.4h0m0.8 -7.3h0m0.9 7.3h0m0.9 -3.4h0m0.8 -3.9h0m0.9 0h0m0.9 3.9h0m0.8 0h0m0.9 0h0m0.9 7h0m0.8 0h0m0.9 -7h0m0.9 3.4h0m0.8 -3.4h0m0.9 0h0m0.9 0h0m0.8 7h0m0.9 -7h0m0.9 3.4h0m0.8 -3.4h0m0.9 7h0m0.9 -3.6h0m0.8 -3.4h0m0.9 7h0m0.9 -7h0m0.8 3.4h0m0.9 0h0m0.9 3.6h0m0.8 0h0m0.9 -3.6h0m0.9 3.6h0m0.8 -3.6h0m0.9 0h0m0.9 3.6h0m0.8 3.3h0m0.9 0h0m0.9 0h0m0.8 -3.3h0m0.9 3.3h0m0.9 -3.3h0m0.8 0h0m0.9 0h0m0.9 0h0m0.8 -3.6h0m0.9 3.6h0m0.9 0h0m0.8 3.3h0m0.9 -3.3h0m0.9 3.3h0m0.8 0h0m0.9 0h0m0.9 0h0m0.8 -3.3h0m0.9 3.3h0m0.9 -3.3h0m0.8 0h0m0.9 0h0m0.9 0h0m0.8 0h0m0.9 3.3h0m0.9 3.7h0m0.8 -7h0m0.9 3.3h0m0.9 -3.3h0m0.8 0h0m0.9 7h0m0.9 -10.6h0m0.8 0h0m0.9 3.6h0m0.9 -3.6h0m0.8 3.6h0m0.9 0h0m0.9 0h0m0.8 0h0m0.9 3.3h0m0.9 -3.3h0m0.8 7h0m0.9 0h0m0.9 0h0m0.8 0h0m0.9 0h0m0.9 0h0m0.8 0h0m0.9 0h0m0.9 0h0m0.9 0h0m0.8 0h0m0.9 -3.7h0m0.9 3.7h0m0.8 0h0m0.9 0h0m0.9 0h0m0.8 0h0m0.9 0h0m0.9 3.9h0m0.8 0h0m0.9 0h0m0.9 0h0m0.8 0h0m0.9 3.3h0m0.9 0h0m0.8 -3.3h0m0.9 3.3h0m0.9 3.2h0m0.8 -3.2h0m0.9 3.2h0m0.9 0h0m0.8 -6.5h0m0.9 0h0m0.9 3.3h0m0.8 -3.3h0m0.9 3.3h0m0.9 0h0m0.8 0h0m0.9 3.2h0m0.9 0h0m0.8 0h0m0.9 -3.2h0m0.9 3.2h0m0.8 0h0m0.9 0h0m0.9 0h0m0.8 0h0m0.9 0h0m0.9 0h0m0.8 0h0m0.9 0h0m0.9 0h0m0.8 0h0m0.9 0h0m0.9 0h0m0.8 0h0m0.9 0h0m0.9 0h0m0.8 3.7h0m0.9 -6.9h0m0.9 6.9h0m0.8 0h0m0.9 -3.7h0m0.9 0h0m0.8 3.7h0m0.9 0h0m0.9 -3.7h0m0.8 3.7h0m0.9 0h0m0.9 0h0m0.8 0h0m0.9 -3.7h0m0.9 3.7h0m0.8 -3.7h0m0.9 0h0m0.9 3.7h0m0.8 -3.7h0m0.9 0h0m0.9 3.7h0m0.8 0h0m0.9 0h0m0.9 -3.7h0m0.8 3.7h0m0.9 0h0m0.9 -6.9h0m0.8 3.2h0m0.9 0h0m0.9 3.7h0m0.8 0h0m0.9 0h0m0.9 0h0m0.8 -3.7h0m0.9 0h0m0.9 3.7h0m0.8 0h0m0.9 -3.7h0m0.9 3.7h0m0.8 -3.7h0m0.9 0h0m0.9 3.7h0m0.8 0h0m0.9 0h0m0.9 0h0m0.8 0h0m0.9 0h0m0.9 -3.7h0m0.8 3.7h0m0.9 0h0m0.9 0h0m0.9 0h0m0.8 -3.7h0m0.9 3.7h0m0.9 0h0m0.8 0h0m0.9 0h0m0.9 0h0m0.8 -3.7h0m0.9 3.7h0m0.9 0h0m0.8 4h0m0.9 -4h0m0.9 0h0m0.8 4h0m0.9 -4h0m0.9 4h0m0.8 0h0m0.9 -4h0m0.9 0h0m0.8 0h0m0.9 4h0m0.9 0h0m0.8 -4h0m0.9 4h0m0.9 -4h0m0.8 8h0m0.9 -11.7h0m0.9 3.7h0m0.8 4h0m0.9 0h0m0.9 -7.7h0m0.8 3.7h0m0.9 0h0m0.9 4h0m0.8 -4h0m0.9 4h0m0.9 -4h0m0.8 0h0m0.9 0h0m0.9 0h0m0.8 0h0m0.9 0h0m0.9 0h0m0.8 0h0m0.9 4h0m0.9 0h0m0.8 -4h0m0.9 0h0m0.9 4h0m0.8 4h0m0.9 -8h0m0.9 8h0m0.8 0h0m0.9 -4h0m0.9 0h0m0.8 0h0m0.9 4h0m0.9 -4h0m0.8 4h0m0.9 0h0m0.9 0h0m0.8 0h0m0.9 -8h0m0.9 0h0m0.8 8h0m0.9 0h0m0.9 0h0m0.8 -4h0m0.9 -4h0m0.9 4h0m0.8 4h0m0.9 -4h0m0.9 4h0m0.8 0h0m0.9 0h0m0.9 0h0m0.8 0h0m0.9 0h0m0.9 -4h0m0.8 4h0m0.9 0h0m0.9 -4h0m0.8 0h0m0.9 4h0m0.9 -8h0m0.8 0h0m0.9 8h0m0.9 -8h0m0.8 8h0m0.9 0h0m0.9 -4h0m0.8 0h0m0.9 4h0m0.9 0h0m0.8 -4h0m0.9 4h0m0.9 -4h0m0.8 4h0m0.9 -8h0m0.9 8h0m0.8 -4h0m0.9 4h0m0.9 0h0m0.9 -4h0m0.8 4h0m0.9 -8h0m0.9 8h0m0.8 0h0m0.9 -8h0m0.9 4h0m0.8 4h0m0.9 0h0m0.9 0h0m0.8 0h0m0.9 -4h0m0.9 0h0m0.8 4h0m0.9 0h0m0.9 -8h0m0.8 4h0m0.9 4h0m0.9 -4h0m0.8 0h0m0.9 -4h0m0.9 4h0m0.8 4h0m0.9 0h0m0.9 -4h0m0.8 0h0m0.9 4h0m0.9 -4h0m0.8 0h0m0.9 4h0m0.9 -4h0m0.8 4h0m0.9 3h0m0.9 0h0m0.8 -3h0m0.9 3h0m0.9 3.3h0m0.8 0h0m0.9 0h0m0.9 -3.3h0m0.8 0h0m0.9 0h0m0.9 0h0m0.8 0h0m0.9 0h0m0.9 0h0m0.8 0h0m0.9 0h0m0.9 0h0m0.8 -3h0m0.9 3h0m0.9 0h0m0.8 0h0m0.9 3.3h0m0.9 -3.3h0m0.8 0h0m0.9 0h0m0.9 3.3h0m0.8 -3.3h0m0.9 3.3h0m0.9 0h0m0.8 0h0m0.9 -3.3h0m0.9 0h0m0.8 0h0m0.9 0h0m0.9 0h0m0.8 0h0m0.9 3.3h0m0.9 -6.3h0m0.8 3h0m0.9 -3h0m0.9 3h0m0.8 3.3h0m0.9 -3.3h0m0.9 3.3h0m0.8 -3.3h0m0.9 0h0m0.9 0h0m0.8 -3h0m0.9 3h0m0.9 3.3h0m0.8 0h0m0.9 0h0m0.9 -3.3h0m0.8 3.3h0m0.9 -3.3h0m0.9 3.3h0m0.8 -3.3h0m0.9 0h0m0.9 0h0m0.8 0h0m0.9 3.3h0m0.9 -3.3h0m0.8 0h0m0.9 3.3h0m0.9 -3.3h0m0.8 6.9h0m0.9 -3.6h0m0.9 0h0m0.9 0h0m0.8 0h0m0.9 0h0m0.9 0h0m0.8 3.6h0m0.9 0h0m0.9 0h0m0.8 0h0m0.9 0h0m0.9 0h0m0.8 -3.6h0m0.9 0h0m0.9 7.6h0m0.8 0h0m0.9 0h0m0.9 0h0m0.8 0h0m0.9 0h0m0.9 0h0m0.8 3.5h0m0.9 -3.5h0m0.9 0h0m0.8 -4h0m0.9 4h0m0.9 -4h0m0.8 4h0m0.9 0h0m0.9 0h0m0.8 0h0m0.9 0h0m0.9 0h0m0.8 0h0m0.9 0h0m0.9 3.5h0m0.8 -3.5h0m0.9 0h0m0.9 0h0m0.8 0h0m0.9 0h0m0.9 0h0m0.8 3.5h0m0.9 -7.5h0m0.9 4h0m0.8 0h0m0.9 -4h0m0.9 4h0m0.8 0h0m0.9 0h0m0.9 0h0m0.8 0h0m0.9 0h0m0.9 0h0m0.8 0h0m0.9 0h0m0.9 0h0m0.8 0h0m0.9 0h0m0.9 0h0m0.8 0h0m0.9 0h0m0.9 0h0m0.8 0h0m0.9 3.5h0m0.9 -3.5h0m0.8 0h0m0.9 0h0m0.9 0h0m0.8 0h0m0.9 0h0m0.9 0h0m0.8 0h0m0.9 0h0m0.9 -4h0m0.8 4h0m0.9 0h0m0.9 0h0m0.8 0h0m0.9 -4h0m0.9 4h0m0.8 0h0m0.9 0h0m0.9 3.5h0m0.8 0h0m0.9 -3.5h0m0.9 0h0m0.8 3.5h0m0.9 -3.5h0m0.9 3.5h0m0.8 0h0m0.9 0h0m0.9 0h0m0.8 -3.5h0m0.9 3.5h0m0.9 -3.5h0m0.8 7.1h0m0.9 -3.6h0m0.9 -3.5h0m0.8 0h0m0.9 3.5h0m0.9 -3.5h0m0.9 3.5h0m0.8 0h0m0.9 0h0m0.9 -3.5h0m0.8 0h0m0.9 0h0m0.9 0h0m0.8 0h0m0.9 0h0m0.9 7.1h0m0.8 -7.1h0m0.9 3.5h0m0.9 0h0m0.8 0h0m0.9 0h0m0.9 3.6h0m0.8 0h0m0.9 0h0m0.9 0h0m0.8 0h0m0.9 -3.6h0m0.9 0h0m0.8 0h0m0.9 3.6h0m0.9 -3.6h0m0.8 3.6h0m0.9 0h0m0.9 -3.6h0m0.8 0h0m0.9 3.6h0m0.9 0h0m0.8 -3.6h0m0.9 3.6h0m0.9 -3.6h0m0.8 0h0m0.9 3.6h0m0.9 0h0m0.8 0h0m0.9 0h0m0.9 -3.6h0m0.8 3.6h0m0.9 0h0m0.9 0h0m0.8 -3.6h0m0.9 0h0m0.9 0h0m0.8 0h0m1.4 -32.4h0m1 -57.1h0m0.8 -14.2h0m1 -6.1h0m0.8 -0.6h0m0.8 0h0m0.9 84.8h0m0.9 14.2h0m1.1 11.4h0m0.9 0h0m0.8 -3.5h0m0.9 0h0m0.9 3.5h0m0.8 -3.5h0m0.9 0h0m0.9 3.5h0m0.8 0h0m0.9 0h0m0.9 0h0m0.8 -3.5h0m0.9 3.5h0m0.9 -3.5h0m0.8 0h0m0.9 0h0m0.9 3.5h0m0.8 -3.5h0m0.9 0h0m0.9 0h0m0.8 0h0m0.9 3.5h0m0.9 0h0m0.8 -3.5h0m0.9 0h0m0.9 7.1h0m0.8 -7.1h0m0.9 3.5h0m0.9 0h0m0.8 3.6h0m0.9 -3.6h0m0.9 -3.5h0m0.8 3.5h0m0.9 -3.5h0m0.9 7.1h0m0.8 -3.6h0m0.9 -3.5h0m0.9 3.5h0m0.8 -3.5h0m0.9 3.5h0m0.9 -3.5h0m0.8 3.5h0m0.9 0h0m0.9 -3.5h0m0.9 3.5h0m0.8 0h0m0.9 0h0m0.9 0h0m0.8 0h0m0.9 3.6h0m0.9 -3.6h0m0.8 -3.5h0m0.9 0h0m0.9 0h0m0.8 0h0m0.9 0h0m0.9 0h0m0.8 3.5h0m0.9 -3.5h0m0.9 0h0m0.8 0h0m0.9 7.1h0m0.9 -3.6h0m0.8 0h0m0.9 3.6h0m0.9 -7.1h0m0.8 0h0m0.9 0h0m0.9 3.5h0m0.8 -3.5h0m0.9 3.5h0m0.9 0h0m0.8 0h0m0.9 -3.5h0m0.9 3.5h0m0.8 -3.5h0m0.9 0h0m0.9 3.5h0m0.8 -3.5h0m0.9 3.5h0m0.9 0h0m0.8 -3.5h0m0.9 3.5h0m0.9 -3.5h0m0.8 3.5h0m0.9 -3.5h0m0.9 0h0m0.8 3.5h0m0.9 0h0m0.9 -3.5h0m0.8 7.1h0m0.9 -7.1h0m0.9 3.5h0m0.8 0h0m0.9 -3.5h0m0.9 0h0m0.8 7.1h0m0.9 0h0m0.9 -3.6h0m0.8 0h0m0.9 0h0m0.9 0h0m0.8 0h0m0.9 0h0m0.9 0h0m0.8 -3.5h0m0.9 3.5h0m0.9 0h0m0.8 -3.5h0m0.9 3.5h0m0.9 0h0m0.8 0h0m0.9 0h0m0.9 0h0m0.8 0h0m0.9 3.6h0m0.9 -3.6h0m0.8 0h0m0.9 0h0m0.9 0h0m0.8 0h0m0.9 0h0m0.9 0h0m0.8 0h0m0.9 -3.5h0m0.9 3.5h0m0.8 0h0m0.9 0h0m0.9 0h0m0.8 -3.5h0m0.9 3.5h0m0.9 0h0m0.8 0h0m0.9 -3.5h0m0.9 3.5h0m0.8 0h0m0.9 0h0m0.9 3.6h0m0.8 0h0m0.9 0h0m0.9 0h0m0.8 -7.1h0m0.9 0h0m0.9 7.1h0m0.9 -3.6h0m0.8 0h0m0.9 3.6h0m0.9 -3.6h0m0.8 0h0m0.9 3.6h0m0.9 -3.6h0m0.8 0h0m0.9 3.6h0m0.9 -3.6h0m0.8 0h0m0.9 0h0m0.9 0h0m0.8 -3.5h0m0.9 7.1h0m0.9 -7.1h0m0.8 3.5h0m0.9 0h0m0.9 0h0m0.8 -3.5h0m0.9 3.5h0m0.9 0h0m0.8 0h0m0.9 0h0m0.9 0h0m0.8 0h0m0.9 0h0m0.9 3.6h0m0.8 0h0m0.9 -3.6h0m0.9 3.6h0m0.8 -3.6h0m0.9 3.6h0m0.9 0h0m0.8 -3.6h0m0.9 3.6h0m0.9 -3.6h0m0.8 0h0m0.9 0h0m0.9 3.6h0m0.8 0h0m0.9 0h0m0.9 0h0m0.8 0h0m0.9 0h0m0.9 0h0m0.8 0h0m0.9 0h0m0.9 0h0m0.8 0h0m0.9 0h0m0.9 0h0m0.8 0h0m0.9 0h0m0.9 0h0m0.8 0h0m0.9 0h0m0.9 0h0m0.8 0h0m0.9 0h0m0.9 0h0m0.8 0h0m0.9 0h0m0.9 0h0m0.8 0h0m0.9 0h0m0.9 0h0m0.8 0h0m0.9 0h0m0.9 0h0m0.8 3.6h0m0.9 -3.6h0m0.9 0h0m0.8 0h0m0.9 0h0m0.9 0h0m0.8 0h0m0.9 0h0m0.9 0h0m0.8 0h0m0.9 0h0m0.9 6.9h0m0.8 -6.9h0m0.9 0h0m0.9 0h0m0.8 0h0m0.9 0h0m0.9 0h0m0.8 0h0m0.9 0h0m0.9 0h0m0.8 0h0m0.9 0h0m0.9 0h0m0.8 0h0m0.9 0h0m0.9 0h0m0.8 0h0m0.9 0h0m0.9 0h0m0.9 0h0m0.8 -3.6h0m0.9 3.6h0m0.9 0h0m0.8 -3.6h0m0.9 3.6h0m0.9 0h0m0.8 0h0m0.9 0h0m0.9 0h0m0.8 0h0m0.9 0h0m0.9 0h0m0.8 0h0m0.9 0h0m0.9 0h0m0.8 0h0m0.9 0h0m0.9 3.6h0m0.8 -7.2h0m0.9 3.6h0m0.9 0h0m0.8 0h0m0.9 0h0m0.9 0h0m0.8 0h0m0.9 0h0m0.9 0h0m0.8 0h0m0.9 0h0m0.9 0h0m0.8 3.6h0m0.9 -3.6h0m0.9 3.6h0m0.8 3.3h0m0.9 0h0m0.9 -3.3h0m0.8 0h0m0.9 3.3h0m0.9 -6.9h0m0.8 6.9h0m0.9 -6.9h0m0.9 0h0m0.8 0h0m0.9 6.9h0m0.9 0h0m0.8 0h0m0.9 -6.9h0m0.9 6.9h0m0.8 0h0m0.9 0h0m0.9 -3.3h0m0.8 -3.6h0m0.9 3.6h0m0.9 3.3h0m0.8 0h0m0.9 0h0m0.9 -6.9h0m0.8 6.9h0m0.9 -3.3h0m0.9 -3.6h0m0.8 3.6h0m0.9 0h0m0.9 3.3h0m0.8 -6.9h0m0.9 3.6h0m0.9 3.3h0m0.8 -6.9h0m0.9 0h0m0.9 3.6h0m0.8 0h0m0.9 -3.6h0m0.9 3.6h0m0.8 3.3h0m0.9 -6.9h0m0.9 3.6h0m0.8 -3.6h0m0.9 0h0m0.9 3.6h0m0.8 0h0m0.9 0h0m0.9 -3.6h0m0.8 6.9h0m0.9 -6.9h0m0.9 6.9h0m0.8 -6.9h0m0.9 3.6h0m0.9 0h0m0.8 3.3h0m0.9 -3.3h0m0.9 3.3h0m0.8 -6.9h0m0.9 0h0m0.9 6.9h0m0.8 -6.9h0m0.9 6.9h0m0.9 -6.9h0m0.8 6.9h0m0.9 -3.3h0m0.9 3.3h0m0.9 -3.3h0m0.8 0h0m0.9 -3.6h0m0.9 3.6h0m0.8 3.3h0m0.9 0h0m0.9 0h0m0.8 0h0m0.9 -3.3h0m0.9 0h0m0.8 3.3h0m0.9 0h0m0.9 0h0m0.8 -3.3h0m0.9 0h0m0.9 0h0m0.8 3.3h0m0.9 0h0m0.9 0h0m0.8 -3.3h0m0.9 -3.6h0m0.9 6.9h0m0.8 -3.3h0m0.9 3.3h0m0.9 0h0m0.8 -6.9h0m0.9 3.6h0m0.9 -3.6h0m0.8 3.6h0m0.9 0h0m0.9 3.3h0m0.8 -6.9h0m0.9 3.6h0m0.9 3.3h0m0.8 0h0m0.9 -3.3h0m0.9 3.3h0m0.8 0h0m0.9 0h0m0.9 -3.3h0m0.8 3.3h0m0.9 -3.3h0m0.9 3.3h0m0.8 0h0m0.9 0h0m0.9 0h0m0.8 0h0m0.9 0h0m0.9 -3.3h0m0.8 3.3h0m0.9 0h0m0.9 -3.3h0m0.8 0h0m0.9 -3.6h0m0.9 6.9h0m0.8 0h0m0.9 -6.9h0m0.9 3.6h0m0.8 0h0m0.9 3.3h0m0.9 0h0m0.8 0h0m0.9 -3.3h0m0.9 0h0m0.8 0h0m0.9 -3.6h0m0.9 6.9h0m0.8 0h0m0.9 -3.3h0m0.9 3.3h0m0.8 -3.3h0m0.9 0h0m0.9 0h0m0.8 3.3h0m0.9 0h0m0.9 -3.3h0m0.8 3.3h0m0.9 -3.3h0m0.9 3.3h0m0.8 0h0m0.9 -6.9h0m0.9 0h0m0.8 0h0m0.9 0h0m0.9 0h0m0.8 3.6h0m0.9 -3.6h0m0.9 0h0m0.8 0h0m0.9 0h0m0.9 0h0m0.8 -3.6h0m0.9 0h0m0.9 0h0m0.8 0h0m0.9 0h0m0.9 0h0m0.8 0h0m0.9 0h0m0.9 0h0m0.9 0h0m0.8 0h0m0.9 0h0m0.9 0h0m0.8 0h0m0.9 -3.5h0m0.9 0h0m0.8 0h0m0.9 -4h0m0.9 4h0m0.8 3.5h0m0.9 0h0m0.9 -3.5h0m0.8 3.5h0m0.9 -7.5h0m0.9 4h0m0.8 3.5h0m0.9 0h0m0.9 -3.5h0m0.8 0h0m0.9 0h0m0.9 0h0m0.8 0h0m0.9 0h0m0.9 0h0m0.8 0h0m0.9 0h0m0.9 0h0m0.8 0h0m0.9 3.5h0m0.9 -7.5h0m0.8 0h0m0.9 4h0m0.9 0h0m0.8 0h0m0.9 0h0m0.9 0h0m0.8 3.5h0m0.9 -3.5h0m0.9 0h0m0.8 3.5h0m0.9 -3.5h0m0.9 3.5h0m0.8 0h0m0.9 0h0m0.9 0h0m0.8 0h0m0.9 -3.5h0m0.9 0h0m0.8 3.5h0m0.9 -7.5h0m0.9 4h0m0.8 3.5h0m0.9 0h0m0.9 -3.5h0m0.8 0h0m0.9 0h0m0.9 0h0m0.8 0h0m0.9 -4h0m0.9 -3.6h0m0.8 7.6h0m0.9 -4h0m0.9 0h0m0.8 4h0m0.9 -7.6h0m0.9 0h0m0.8 0h0m0.9 0h0m0.9 0h0m0.8 0h0m0.9 0h0m0.9 0h0m0.8 0h0m0.9 0h0m0.9 0h0m0.8 0h0m0.9 0h0m0.9 3.6h0m0.8 -3.6h0m0.9 0h0m0.9 -3.3h0m0.8 0h0m0.9 3.3h0m0.9 -3.3h0m0.8 0h0m0.9 0h0" stroke="#008000" stroke-width="3.2" stroke-linecap="round" fill="none"/></g><g clip-path="url(#c1)"><path d="M75.5 278.37L76.37 278.37L77.23 278.37L78.1 278.37L78.97 278.37L79.84 278.37L80.7 278.37L81.57 278.37L82.44 277.34L83.3 277.34L84.17 277.34L85.04 276.3L85.9 276.3L86.77 275.26L87.64 274.22L88.51 274.22L89.37 273.18L90.24 272.15L91.11 271.11L91.97 271.11L92.84 270.07L93.71 269.03L94.57 267.99L95.44 266.96L96.31 265.92L97.18 264.88L98.04 263.84L98.91 262.8L99.78 261.77L100.64 260.73L101.51 259.69L102.38 259.69L103.24 257.61L104.11 256.58L104.98 255.54L105.85 254.5L106.71 253.46L107.58 253.46L108.45 252.42L109.31 251.39L110.18 251.39L111.05 250.35L111.91 249.31L112.78 248.27L113.65 247.23L114.52 247.23L115.38 245.16L116.25 245.16L117.12 244.12L117.98 245.16L118.85 245.16L119.72 245.16L120.58 244.12L121.45 245.16L122.32 244.12L123.19 244.12L124.05 245.16L124.92 244.12L125.79 244.12L126.65 244.12L127.52 243.08L128.39 243.08L129.25 242.04L130.12 241.01L130.99 241.01L131.86 239.97L132.72 238.93L133.59 237.89L134.46 236.85L135.32 235.82L136.19 233.74L137.06 231.66L137.92 228.55L138.79 227.51L139.66 226.47L140.53 225.44L141.39 223.36L142.26 223.36L143.13 222.32L143.99 221.28L144.86 220.25L145.73 220.25L146.59 219.21L147.46 218.17L148.33 218.17L149.2 217.13L150.06 217.13L150.93 217.13L151.8 217.13L152.66 216.09L153.53 216.09L154.4 215.06L155.26 212.98L156.13 210.9L157 208.83L157.86 207.79L158.73 206.75L159.6 205.71L160.47 204.68L161.33 204.68L162.2 204.68L163.07 204.68L163.93 205.71L164.8 205.71L165.67 206.75L166.53 206.75L167.4 205.71L168.27 205.71L169.14 205.71L170 205.71L170.87 204.68L171.74 204.68L172.6 204.68L173.47 204.68L174.34 204.68L175.2 205.71L176.07 205.71L176.94 205.71L177.81 206.75L178.67 207.79L179.54 207.79L180.41 207.79L181.27 208.83L182.14 207.79L183.01 207.79L183.87 208.83L184.74 207.79L185.61 208.83L186.48 207.79L187.34 207.79L188.21 206.75L189.08 206.75L189.94 206.75L190.81 205.71L191.68 204.68L192.54 204.68L193.41 204.68L194.28 203.64L195.15 202.6L196.01 202.6L196.88 201.56L197.75 200.52L198.61 200.52L199.48 198.45L200.35 197.41L201.21 195.33L202.08 194.3L202.95 193.26L203.82 193.26L204.68 193.26L205.55 193.26L206.42 193.26L207.28 193.26L208.15 193.26L209.02 193.26L209.88 193.26L210.75 193.26L211.62 194.3L212.49 195.33L213.35 195.33L214.22 195.33L215.09 196.37L215.95 196.37L216.82 196.37L217.69 195.33L218.55 195.33L219.42 195.33L220.29 195.33L221.16 194.3L222.02 194.3L222.89 194.3L223.76 194.3L224.62 193.26L225.49 192.22L226.36 191.18L227.22 191.18L228.09 190.14L228.96 189.11L229.83 188.07L230.69 188.07L231.56 187.03L232.43 185.99L233.29 184.95L234.16 184.95L235.03 183.92L235.89 182.88L236.76 182.88L237.63 182.88L238.5 181.84L239.36 181.84L240.23 180.8L241.1 180.8L241.96 180.8L242.83 180.8L243.7 181.84L244.56 181.84L245.43 181.84L246.3 181.84L247.17 182.88L248.03 182.88L248.9 182.88L249.77 183.92L250.63 183.92L251.5 184.95L252.37 184.95L253.23 185.99L254.1 185.99L254.97 187.03L255.84 188.07L256.7 188.07L257.57 188.07L258.44 189.11L259.3 190.14L260.17 190.14L261.04 191.18L261.9 191.18L262.77 191.18L263.64 192.22L264.51 193.26L265.37 193.26L266.24 194.3L267.11 194.3L267.97 195.33L268.84 196.37L269.71 196.37L270.57 197.41L271.44 197.41L272.31 198.45L273.18 198.45L274.04 199.49L274.91 199.49L275.78 199.49L276.64 199.49L277.51 199.49L278.38 199.49L279.24 200.52L280.11 200.52L280.98 199.49L281.85 200.52L282.71 200.52L283.58 200.52L284.45 200.52L285.31 201.56L286.18 201.56L287.05 201.56L287.91 202.6L288.78 202.6L289.65 202.6L290.52 203.64L291.38 204.68L292.25 204.68L293.12 205.71L293.98 206.75L294.85 206.75L295.72 206.75L296.58 207.79L297.45 207.79L298.32 207.79L299.19 207.79L300.05 207.79L300.92 207.79L301.79 207.79L302.65 207.79L303.52 206.75L304.39 206.75L305.25 206.75L306.12 206.75L306.99 206.75L307.86 205.71L308.72 205.71L309.59 205.71L310.46 205.71L311.32 204.68L312.19 204.68L313.06 203.64L313.93 203.64L314.79 203.64L315.66 202.6L316.53 202.6L317.39 202.6L318.26 201.56L319.13 201.56L319.99 201.56L320.86 200.52L321.73 200.52L322.6 201.56L323.46 201.56L324.33 201.56L325.2 201.56L326.06 201.56L326.93 201.56L327.8 202.6L328.66 202.6L329.53 203.64L330.4 203.64L331.27 203.64L332.13 204.68L333 203.64L333.87 203.64L334.73 203.64L335.6 203.64L336.47 203.64L337.33 203.64L338.2 203.64L339.07 203.64L339.94 203.64L340.8 203.64L341.67 203.64L342.54 202.6L343.4 203.64L344.27 202.6L345.14 202.6L346 202.6L346.87 201.56L347.74 201.56L348.61 201.56L349.47 200.52L350.34 200.52L351.21 200.52L352.07 200.52L352.94 200.52L353.81 200.52L354.67 200.52L355.54 200.52L356.41 200.52L357.28 200.52L358.14 200.52L359.01 200.52L359.88 199.49L360.74 199.49L361.61 199.49L362.48 199.49L363.34 199.49L364.21 198.45L365.08 198.45L365.95 198.45L366.81 198.45L367.68 198.45L368.55 198.45L369.41 197.41L370.28 197.41L371.15 197.41L372.01 197.41L372.88 197.41L373.75 197.41L374.62 196.37L375.48 196.37L376.35 197.41L377.22 197.41L378.08 197.41L378.95 197.41L379.82 197.41L380.68 197.41L381.55 197.41L382.42 198.45L383.29 198.45L384.15 198.45L385.02 199.49L385.89 199.49L386.75 199.49L387.62 200.52L388.49 200.52L389.35 200.52L390.22 200.52L391.09 201.56L391.96 201.56L392.82 201.56L393.69 201.56L394.56 202.6L395.42 202.6L396.29 202.6L397.16 203.64L398.02 203.64L398.89 203.64L399.76 204.68L400.63 204.68L401.49 205.71L402.36 205.71L403.23 205.71L404.09 206.75L404.96 206.75L405.83 206.75L406.69 207.79L407.56 207.79L408.43 207.79L409.3 208.83L410.16 208.83L411.03 208.83L411.9 208.83L412.76 209.87L413.63 209.87L414.5 209.87L415.36 209.87L416.23 209.87L417.1 208.83L417.97 208.83L418.83 208.83L419.7 208.83L420.57 208.83L421.43 209.87L422.3 209.87L423.17 209.87L424.03 210.9L424.9 210.9L425.77 210.9L426.64 210.9L427.5 211.94L428.37 211.94L429.24 212.98L430.1 212.98L430.97 214.02L431.84 212.98L432.7 214.02L433.57 214.02L434.44 214.02L435.31 214.02L436.17 214.02L437.04 214.02L437.91 214.02L438.77 214.02L439.64 214.02L440.51 214.02L441.37 214.02L442.24 214.02L443.11 214.02L443.98 214.02L444.84 214.02L445.71 214.02L446.58 212.98L447.44 214.02L448.31 214.02L449.18 214.02L450.04 214.02L450.91 214.02L451.78 215.06L452.65 215.06L453.51 215.06L454.38 216.09L455.25 216.09L456.11 217.13L456.98 217.13L457.85 217.13L458.71 218.17L459.58 218.17L460.45 219.21L461.32 219.21L462.18 220.25L463.05 220.25L463.92 221.28L464.78 221.28L465.65 222.32L466.52 223.36L467.38 223.36L468.25 224.4L469.12 225.44L469.99 225.44L470.85 226.47L471.72 226.47L472.59 227.51L473.45 227.51L474.32 228.55L475.19 228.55L476.05 229.59L476.92 230.63L477.79 230.63L478.66 231.66L479.52 231.66L480.39 231.66L481.26 232.7L482.12 233.74L482.99 233.74L483.86 233.74L484.72 234.78L485.59 234.78L486.46 235.82L487.33 235.82L488.19 236.85L489.06 236.85L489.93 237.89L490.79 237.89L491.66 238.93L492.53 238.93L493.39 238.93L494.26 239.97L495.13 239.97L496 239.97L496.86 239.97L497.73 241.01L498.6 241.01L499.46 241.01L500.33 241.01L501.2 242.04L502.06 242.04L502.93 242.04L503.8 242.04L504.67 243.08L505.53 243.08L506.4 243.08L507.27 243.08L508.13 243.08L509 243.08L509.87 244.12L510.73 244.12L511.6 244.12L512.47 244.12L513.34 244.12L514.2 244.12L515.07 245.16L515.94 245.16L516.8 245.16L517.67 245.16L518.54 245.16L519.4 245.16L520.27 245.16L521.14 245.16L522.01 246.2L522.87 246.2L523.74 246.2L524.61 246.2L525.47 246.2L526.34 246.2L527.21 246.2L528.07 247.23L528.94 247.23L529.81 247.23L530.68 247.23L531.54 247.23L532.41 247.23L533.28 247.23L534.14 247.23L535.01 248.27L535.88 248.27L536.74 248.27L537.61 248.27L538.48 248.27L539.35 249.31L540.21 249.31L541.08 248.27L541.95 248.27L542.81 249.31L543.68 249.31L544.55 249.31L545.41 249.31L546.28 249.31L547.15 249.31L548.02 249.31L548.88 249.31L549.75 249.31L550.62 249.31L551.48 249.31L552.35 249.31L553.22 250.35L554.08 250.35L554.95 250.35L555.82 250.35L556.69 250.35L557.55 250.35L558.42 250.35L559.29 250.35L560.15 250.35L561.02 250.35L561.89 250.35L562.75 250.35L563.62 251.39L564.49 251.39L565.36 251.39L566.22 251.39L567.09 251.39L567.96 251.39L568.82 250.35L569.69 250.35L570.56 250.35L571.42 250.35L572.29 250.35L573.16 250.35L574.03 250.35L574.89 250.35L575.76 250.35L576.63 250.35L577.49 250.35L578.36 250.35L579.23 250.35L580.09 250.35L580.96 250.35L581.83 250.35L582.7 250.35L583.56 250.35L584.43 250.35L585.3 250.35L586.16 250.35L587.03 250.35L587.9 250.35L588.76 250.35L589.63 250.35L590.5 251.39L591.37 251.39L592.23 251.39L593.1 251.39L593.97 251.39L594.83 251.39L595.7 251.39L596.57 251.39L597.43 252.42L598.3 251.39L599.17 252.42L600.04 252.42L600.9 252.42L601.77 252.42L602.64 252.42L603.5 252.42L604.37 252.42L605.24 252.42L606.1 253.46L606.97 253.46L607.84 253.46L608.71 253.46L609.57 253.46L610.44 253.46L611.31 253.46L612.17 253.46L613.04 254.5L613.91 254.5L614.77 254.5L615.64 254.5L616.51 254.5L617.37 254.5L618.24 254.5L619.11 254.5L619.98 254.5L620.84 254.5L621.71 254.5L622.58 255.54L623.44 255.54L624.31 255.54L625.18 255.54L626.04 255.54L626.91 255.54L627.78 255.54L628.65 255.54L629.51 255.54L630.38 255.54L631.25 255.54L632.11 255.54L632.98 255.54L633.85 255.54L634.71 256.58L635.58 256.58L636.45 256.58L637.32 256.58L638.18 256.58L639.05 256.58L639.92 256.58L640.78 256.58L641.65 256.58L642.52 256.58L643.38 256.58L644.25 256.58L645.12 256.58L645.99 256.58L646.85 256.58L647.72 256.58L648.59 256.58L649.45 256.58L650.32 256.58L651.19 256.58L652.05 256.58L652.92 256.58L653.79 257.61L654.66 257.61L655.52 257.61L656.39 257.61L657.26 257.61L658.12 257.61L658.99 257.61L659.86 257.61L660.72 257.61L661.59 257.61L662.46 258.65L663.33 258.65L664.19 259.69L665.06 259.69L665.93 260.73L666.79 261.77L667.66 262.8L668.53 262.8L669.39 263.84L670.26 263.84L671.13 264.88L672 264.88L672.86 264.88L673.73 265.92L674.6 265.92L675.46 265.92L676.33 265.92L677.2 266.96L678.06 266.96L678.93 266.96L679.8 266.96L680.67 266.96L681.53 266.96L682.4 266.96L683.27 266.96L684.13 266.96L685 266.96L685.87 266.96L686.73 266.96L687.6 266.96L688.47 266.96L689.34 266.96L690.2 266.96L691.07 266.96L691.94 266.96L692.8 266.96L693.67 265.92L694.54 265.92L695.4 265.92L696.27 265.92L697.14 266.96L698.01 266.96L698.87 266.96L699.74 266.96L700.61 266.96L701.47 266.96L702.34 266.96L703.21 266.96L704.07 266.96L704.94 266.96L705.81 266.96L706.68 266.96L707.54 266.96L708.41 266.96L709.28 266.96L710.14 266.96L711.01 266.96L711.88 265.92L712.74 266.96L713.61 266.96L714.48 266.96L715.35 266.96L716.21 266.96L717.08 266.96L717.95 266.96L718.81 266.96L719.68 266.96L720.55 266.96L721.41 266.96L722.28 266.96L723.15 266.96L724.02 266.96L724.88 267.99L725.75 267.99L726.62 267.99L727.48 269.03L728.35 269.03L729.22 270.07L730.08 271.11L730.95 272.15L731.82 273.18L732.69 273.18L733.55 274.22L734.42 275.26L735.29 276.3L736.15 276.3L737.02 277.34L737.89 277.34L738.75 278.37L739.62 278.37L740.49 279.41L741.36 279.41L742.22 279.41L743.09 280.45L743.96 280.45L744.82 280.45L745.69 281.49L746.56 281.49L747.42 281.49L748.29 282.53L749.16 282.53L750.03 282.53L750.89 282.53L751.76 283.56L752.63 283.56L753.49 283.56L754.36 283.56L755.23 284.6L756.09 284.6L756.96 284.6L757.83 284.6L758.7 285.64L759.56 285.64L760.43 284.6L761.3 285.64L762.16 285.64L763.03 284.6L763.9 284.6L764.76 285.64L765.63 285.64L766.5 285.64L767.37 285.64L768.23 284.6L769.1 285.64L769.97 285.64L770.83 285.64L771.7 285.64L772.57 285.64L773.43 285.64L774.3 285.64L775.17 284.6L776.04 285.64L776.9 285.64L777.77 285.64L778.64 285.64L779.5 285.64L780.37 285.64L781.24 285.64L782.1 285.64L782.97 285.64L783.84 285.64L784.71 285.64L785.57 285.64L786.44 285.64L787.31 286.68L788.17 286.68L789.04 286.68L789.91 286.68L790.77 286.68L791.64 286.68L792.51 286.68L793.38 286.68L794.24 286.68L795.11 287.72L795.98 286.68L796.84 287.72L797.71 287.72L798.58 287.72L799.44 287.72L800.31 286.68L801.18 287.72L802.05 287.72L802.91 287.72L803.78 287.72L804.65 287.72L805.51 287.72L806.38 287.72L807.25 287.72L808.11 288.75L808.98 288.75L809.85 288.75L810.72 288.75L811.58 289.79L812.45 289.79L813.32 289.79L814.18 289.79L815.05 289.79L815.92 290.83L816.78 290.83L817.65 290.83L818.52 290.83L819.39 290.83L820.25 290.83L821.12 290.83L821.99 290.83L822.85 290.83L823.72 290.83L824.59 290.83L825.45 291.87L826.32 291.87L827.19 291.87L828.06 291.87L828.92 291.87L829.79 291.87L830.66 291.87L831.52 291.87L832.39 291.87L833.26 291.87L834.12 291.87L834.99 291.87L835.86 291.87L836.73 291.87L837.59 291.87L838.46 291.87L839.33 291.87L840.19 291.87L841.06 292.91L841.93 291.87L842.79 291.87L843.66 291.87L844.53 291.87L845.4 291.87L846.26 291.87L847.13 291.87L848 291.87L848.86 291.87L849.73 291.87L850.6 291.87L851.46 291.87L852.33 291.87L853.2 291.87L854.07 291.87L854.93 291.87L855.8 291.87L856.67 289.79L857.53 287.72L858.4 284.6L859.27 283.56L860.13 281.49L861 280.45L861.87 282.53L862.74 285.64L863.6 288.75L864.47 289.79L865.34 289.79L866.2 289.79L867.07 290.83L867.94 290.83L868.8 289.79L869.67 290.83L870.54 290.83L871.41 290.83L872.27 290.83L873.14 289.79L874.01 289.79L874.87 289.79L875.74 289.79L876.61 289.79L877.47 289.79L878.34 289.79L879.21 289.79L880.08 289.79L880.94 288.75L881.81 288.75L882.68 288.75L883.54 288.75L884.41 288.75L885.28 288.75L886.14 287.72L887.01 288.75L887.88 288.75L888.75 288.75L889.61 287.72L890.48 288.75L891.35 287.72L892.21 287.72L893.08 287.72L893.95 287.72L894.81 288.75L895.68 287.72L896.55 287.72L897.42 287.72L898.28 287.72L899.15 287.72L900.02 287.72L900.88 287.72L901.75 287.72L902.62 287.72L903.48 287.72L904.35 287.72L905.22 287.72L906.09 287.72L906.95 287.72L907.82 287.72L908.69 287.72L909.55 287.72L910.42 287.72L911.29 287.72L912.15 287.72L913.02 287.72L913.89 287.72L914.76 287.72L915.62 287.72L916.49 287.72L917.36 287.72L918.22 287.72L919.09 287.72L919.96 287.72L920.82 287.72L921.69 287.72L922.56 287.72L923.43 287.72L924.29 287.72L925.16 287.72L926.03 287.72L926.89 287.72L927.76 287.72L928.63 287.72L929.49 287.72L930.36 287.72L931.23 287.72L932.1 287.72L932.96 288.75L933.83 287.72L934.7 287.72L935.56 287.72L936.43 287.72L937.3 287.72L938.16 287.72L939.03 287.72L939.9 287.72L940.77 288.75L941.63 287.72L942.5 287.72L943.37 287.72L944.23 288.75L945.1 288.75L945.97 288.75L946.83 288.75L947.7 288.75L948.57 288.75L949.44 289.79L950.3 289.79L951.17 289.79L952.04 289.79L952.9 289.79L953.77 289.79L954.64 289.79L955.5 289.79L956.37 290.83L957.24 290.83L958.11 290.83L958.97 290.83L959.84 290.83L960.71 290.83L961.57 291.87L962.44 291.87L963.31 291.87L964.17 291.87L965.04 291.87L965.91 292.91L966.78 292.91L967.64 292.91L968.51 292.91L969.38 292.91L970.24 293.94L971.11 293.94L971.98 293.94L972.84 293.94L973.71 293.94L974.58 293.94L975.45 293.94L976.31 293.94L977.18 293.94L978.05 293.94L978.91 293.94L979.78 293.94L980.65 292.91L981.51 292.91L982.38 292.91L983.25 292.91L984.12 292.91L984.98 292.91L985.85 292.91L986.72 292.91L987.58 292.91L988.45 292.91L989.32 292.91L990.18 292.91L991.05 292.91L991.92 292.91L992.79 292.91L993.65 292.91L994.52 291.87L995.39 291.87L996.25 292.91L997.12 292.91L997.99 292.91L998.85 292.91L999.72 292.91L1000.59 292.91L1001.46 292.91L1002.32 292.91L1003.19 292.91L1004.06 292.91L1004.92 292.91L1005.79 292.91L1006.66 292.91L1007.52 292.91L1008.39 292.91L1009.26 292.91L1010.13 292.91L1010.99 292.91L1011.86 292.91L1012.73 292.91L1013.59 292.91L1014.46 292.91L1015.33 293.94L1016.19 293.94L1017.06 292.91L1017.93 293.94L1018.8 293.94L1019.66 293.94L1020.53 293.94L1021.4 293.94L1022.26 293.94L1023.13 293.94L1024 294.98L1024.86 293.94L1025.73 294.98L1026.6 294.98L1027.47 294.98L1028.33 294.98L1029.2 294.98L1030.07 294.98L1030.93 294.98L1031.8 294.98L1032.67 294.98L1033.53 294.98L1034.4 296.02L1035.27 294.98L1036.14 294.98L1037 296.02L1037.87 296.02L1038.74 294.98L1039.6 296.02L1040.47 296.02L1041.34 296.02L1042.2 296.02L1043.07 296.02L1043.94 296.02L1044.81 296.02L1045.67 296.02L1046.54 296.02L1047.41 296.02L1048.27 296.02L1049.14 296.02L1050.01 296.02L1050.87 296.02L1051.74 296.02L1052.61 297.06L1053.48 297.06L1054.34 297.06L1055.21 297.06L1056.08 297.06L1056.94 297.06L1057.81 297.06L1058.68 297.06L1059.54 297.06L1060.41 297.06L1061.28 297.06L1062.15 297.06L1063.01 297.06L1063.88 297.06L1064.75 297.06L1065.61 297.06L1066.48 297.06L1067.35 298.1L1068.21 298.1L1069.08 298.1L1069.95 298.1L1070.82 298.1L1071.68 298.1L1072.55 298.1L1073.42 298.1L1074.28 298.1L1075.15 298.1L1076.02 298.1L1076.88 298.1L1077.75 298.1L1078.62 298.1L1079.49 298.1L1080.35 298.1L1081.22 298.1L1082.09 298.1L1082.95 298.1L1083.82 298.1L1084.69 298.1L1085.55 298.1L1086.42 298.1L1087.29 299.13L1088.16 298.1L1089.02 298.1L1089.89 298.1L1090.76 299.13L1091.62 298.1L1092.49 298.1L1093.36 299.13L1094.22 299.13L1095.09 299.13L1095.96 299.13L1096.83 299.13L1097.69 299.13L1098.56 299.13L1099.43 299.13L1100.29 300.17L1101.16 300.17L1102.03 300.17L1102.89 300.17L1103.76 300.17L1104.63 300.17L1105.5 301.21L1106.36 301.21L1107.23 301.21L1108.1 301.21L1108.96 301.21L1109.83 301.21L1110.7 301.21L1111.56 301.21L1112.43 301.21L1113.3 301.21L1114.17 301.21L1115.03 301.21L1115.9 301.21L1116.77 301.21L1117.63 302.25L1118.5 301.21L1119.37 302.25L1120.23 302.25L1121.1 301.21L1121.97 302.25L1122.84 302.25L1123.7 302.25L1124.57 302.25L1125.44 302.25L1126.3 302.25L1127.17 302.25L1128.04 302.25L1128.9 302.25L1129.77 302.25L1130.64 302.25L1131.51 302.25L1132.37 302.25L1133.24 302.25L1134.11 302.25L1134.97 302.25L1135.84 302.25L1136.71 302.25L1137.57 302.25L1138.44 302.25L1139.31 302.25L1140.18 302.25L1141.04 302.25L1141.91 302.25L1142.78 302.25L1143.64 302.25L1144.51 302.25L1145.38 302.25L1146.24 303.29L1147.11 303.29L1147.98 303.29L1148.85 302.25L1149.71 303.29L1150.58 303.29L1151.45 303.29L1152.31 303.29L1153.18 303.29L1154.05 303.29L1154.91 303.29L1155.78 303.29L1156.65 303.29L1157.52 303.29L1158.38 303.29L1159.25 303.29L1160.12 303.29L1160.98 303.29L1161.85 303.29L1162.72 303.29L1163.58 303.29L1164.45 303.29L1165.32 303.29L1166.19 303.29L1167.05 303.29L1167.92 303.29L1168.79 303.29L1169.65 303.29L1170.52 303.29L1171.39 303.29L1172.25 303.29L1173.12 303.29L1173.99 303.29L1174.86 303.29L1175.72 303.29L1176.59 303.29L1177.46 303.29L1178.32 303.29L1179.19 303.29L1180.06 303.29L1180.92 303.29L1181.79 303.29L1182.66 303.29L1183.53 303.29L1184.39 303.29L1185.26 303.29L1186.13 303.29L1186.99 303.29L1187.86 303.29L1188.73 303.29L1189.59 303.29L1190.46 303.29L1191.33 302.25L1192.2 302.25L1193.06 302.25L1193.93 302.25L1194.8 302.25L1195.66 302.25L1196.53 302.25L1197.4 302.25L1198.26 301.21L1199.13 301.21L1200 302.25L1200.87 302.25L1201.73 302.25L1202.6 303.29L1203.47 303.29L1204.33 304.32L1205.2 304.32L1206.07 304.32L1206.93 305.36L1207.8 304.32L1208.67 305.36L1209.54 305.36L1210.4 305.36L1211.27 305.36L1212.14 305.36L1213 305.36L1213.87 305.36L1214.74 305.36L1215.6 305.36L1216.47 305.36L1217.34 305.36L1218.21 305.36L1219.07 305.36L1219.94 305.36L1220.81 305.36L1221.67 305.36L1222.54 304.32L1223.41 304.32L1224.27 304.32L1225.14 304.32L1226.01 304.32L1226.88 303.29L1227.74 303.29L1228.61 303.29L1229.48 303.29L1230.34 303.29L1231.21 302.25L1232.08 302.25L1232.94 301.21L1233.81 300.17L1234.68 299.13L1235.55 299.13L1236.41 298.1L1237.28 298.1L1238.15 297.06L1239.01 297.06L1239.88 296.02L1240.75 296.02L1241.61 294.98L1242.48 293.94L1243.35 293.94L1244.22 293.94L1245.08 292.91L1245.95 291.87L1246.82 291.87L1247.68 290.83L1248.55 290.83L1249.42 289.79L1250.28 289.79L1251.15 288.75L1252.02 288.75L1252.89 288.75L1253.75 288.75L1254.62 287.72L1255.49 287.72L1256.35 287.72L1257.22 287.72L1258.09 287.72L1258.95 287.72L1259.82 287.72L1260.69 287.72L1261.56 287.72L1262.42 287.72L1263.29 286.68L1264.16 287.72L1265.02 287.72L1265.89 286.68L1266.76 286.68L1267.62 286.68L1268.49 286.68L1269.36 286.68L1270.23 286.68L1271.09 286.68L1271.96 286.68L1272.83 286.68L1273.69 286.68L1274.56 286.68L1275.43 286.68L1276.29 286.68L1277.16 286.68L1278.03 286.68L1278.9 286.68L1279.76 285.64L1280.63 285.64L1281.5 286.68L1282.36 285.64L1283.23 285.64L1284.1 285.64L1284.96 285.64L1285.83 285.64L1286.7 285.64L1287.57 285.64L1288.43 285.64L1289.3 285.64L1290.17 285.64L1291.03 285.64L1291.9 285.64L1292.77 285.64L1293.63 285.64L1294.5 285.64L1295.37 285.64L1296.24 285.64L1297.1 285.64L1297.97 284.6L1298.84 283.56L1299.7 282.53L1300.57 282.53L1301.44 281.49L1302.3 280.45L1303.17 279.41L1304.04 278.37L1304.91 278.37L1305.77 277.34L1306.64 277.34L1307.51 276.3L1308.37 276.3L1309.24 275.26L1310.11 275.26L1310.97 274.22L1311.84 273.18L1312.71 273.18L1313.58 272.15L1314.44 272.15L1315.31 271.11L1316.18 270.07L1317.04 269.03L1317.91 269.03L1318.78 267.99L1319.64 267.99L1320.51 267.99L1321.38 267.99L1322.25 267.99L1323.11 267.99" stroke="#0000ff" stroke-width="0.7" fill="none"/><path d="M75.5 278.4h0m0.9 0h0m0.8 0h0m0.9 0h0m0.9 0h0m0.8 0h0m0.9 0h0m0.9 0h0m0.8 -1.1h0m0.9 0h0m0.9 0h0m0.8 -1h0m0.9 0h0m0.9 -1h0m0.8 -1.1h0m0.9 0h0m0.9 -1h0m0.8 -1.1h0m0.9 -1h0m0.9 0h0m0.8 -1h0m0.9 -1.1h0m0.9 -1h0m0.8 -1h0m0.9 -1.1h0m0.9 -1h0m0.8 -1.1h0m0.9 -1h0m0.9 -1h0m0.8 -1.1h0m0.9 -1h0m0.9 0h0m0.8 -2.1h0m0.9 -1h0m0.9 -1.1h0m0.8 -1h0m0.9 -1h0m0.9 0h0m0.8 -1.1h0m0.9 -1h0m0.9 0h0m0.8 -1.1h0m0.9 -1h0m0.9 -1h0m0.8 -1.1h0m0.9 0h0m0.9 -2h0m0.8 0h0m0.9 -1.1h0m0.9 1.1h0m0.9 0h0m0.8 0h0m0.9 -1.1h0m0.9 1.1h0m0.8 -1.1h0m0.9 0h0m0.9 1.1h0m0.8 -1.1h0m0.9 0h0m0.9 0h0m0.8 -1h0m0.9 0h0m0.9 -1.1h0m0.8 -1h0m0.9 0h0m0.9 -1h0m0.8 -1.1h0m0.9 -1h0m0.9 -1h0m0.8 -1.1h0m0.9 -2.1h0m0.9 -2h0m0.8 -3.1h0m0.9 -1.1h0m0.9 -1h0m0.8 -1.1h0m0.9 -2h0m0.9 0h0m0.8 -1.1h0m0.9 -1h0m0.9 -1.1h0m0.8 0h0m0.9 -1h0m0.9 -1h0m0.8 0h0m0.9 -1.1h0m0.9 0h0m0.8 0h0m0.9 0h0m0.9 -1h0m0.8 0h0m0.9 -1h0m0.9 -2.1h0m0.8 -2.1h0m0.9 -2.1h0m0.9 -1h0m0.8 -1h0m0.9 -1.1h0m0.9 -1h0m0.8 0h0m0.9 0h0m0.9 0h0m0.8 1h0m0.9 0h0m0.9 1.1h0m0.8 0h0m0.9 -1.1h0m0.9 0h0m0.8 0h0m0.9 0h0m0.9 -1h0m0.8 0h0m0.9 0h0m0.9 0h0m0.8 0h0m0.9 1h0m0.9 0h0m0.8 0h0m0.9 1.1h0m0.9 1h0m0.8 0h0m0.9 0h0m0.9 1h0m0.8 -1h0m0.9 0h0m0.9 1h0m0.8 -1h0m0.9 1h0m0.9 -1h0m0.8 0h0m0.9 -1h0m0.9 0h0m0.8 0h0m0.9 -1.1h0m0.9 -1h0m0.8 0h0m0.9 0h0m0.9 -1.1h0m0.8 -1h0m0.9 0h0m0.9 -1h0m0.8 -1.1h0m0.9 0h0m0.9 -2.1h0m0.8 -1h0m0.9 -2.1h0m0.9 -1h0m0.8 -1h0m0.9 0h0m0.9 0h0m0.8 0h0m0.9 0h0m0.9 0h0m0.9 0h0m0.8 0h0m0.9 0h0m0.9 0h0m0.8 1h0m0.9 1h0m0.9 0h0m0.8 0h0m0.9 1.1h0m0.9 0h0m0.8 0h0m0.9 -1.1h0m0.9 0h0m0.8 0h0m0.9 0h0m0.9 -1h0m0.8 0h0m0.9 0h0m0.9 0h0m0.8 -1h0m0.9 -1.1h0m0.9 -1h0m0.8 0h0m0.9 -1.1h0m0.9 -1h0m0.8 -1h0m0.9 0h0m0.9 -1.1h0m0.8 -1h0m0.9 -1h0m0.9 0h0m0.8 -1.1h0m0.9 -1h0m0.9 0h0m0.8 0h0m0.9 -1.1h0m0.9 0h0m0.8 -1h0m0.9 0h0m0.9 0h0m0.8 0h0m0.9 1h0m0.9 0h0m0.8 0h0m0.9 0h0m0.9 1.1h0m0.8 0h0m0.9 0h0m0.9 1h0m0.8 0h0m0.9 1.1h0m0.9 0h0m0.8 1h0m0.9 0h0m0.9 1h0m0.8 1.1h0m0.9 0h0m0.9 0h0m0.8 1h0m0.9 1h0m0.9 0h0m0.8 1.1h0m0.9 0h0m0.9 0h0m0.8 1h0m0.9 1.1h0m0.9 0h0m0.8 1h0m0.9 0h0m0.9 1h0m0.8 1.1h0m0.9 0h0m0.9 1h0m0.8 0h0m0.9 1h0m0.9 0h0m0.8 1.1h0m0.9 0h0m0.9 0h0m0.8 0h0m0.9 0h0m0.9 0h0m0.8 1h0m0.9 0h0m0.9 -1h0m0.8 1h0m0.9 0h0m0.9 0h0m0.8 0h0m0.9 1.1h0m0.9 0h0m0.8 0h0m0.9 1h0m0.9 0h0m0.8 0h0m0.9 1h0m0.9 1.1h0m0.8 0h0m0.9 1h0m0.9 1.1h0m0.9 0h0m0.8 0h0m0.9 1h0m0.9 0h0m0.8 0h0m0.9 0h0m0.9 0h0m0.8 0h0m0.9 0h0m0.9 0h0m0.8 -1h0m0.9 0h0m0.9 0h0m0.8 0h0m0.9 0h0m0.9 -1.1h0m0.8 0h0m0.9 0h0m0.9 0h0m0.8 -1h0m0.9 0h0m0.9 -1.1h0m0.8 0h0m0.9 0h0m0.9 -1h0m0.8 0h0m0.9 0h0m0.9 -1h0m0.8 0h0m0.9 0h0m0.9 -1.1h0m0.8 0h0m0.9 1.1h0m0.9 0h0m0.8 0h0m0.9 0h0m0.9 0h0m0.8 0h0m0.9 1h0m0.9 0h0m0.8 1h0m0.9 0h0m0.9 0h0m0.8 1.1h0m0.9 -1.1h0m0.9 0h0m0.8 0h0m0.9 0h0m0.9 0h0m0.8 0h0m0.9 0h0m0.9 0h0m0.8 0h0m0.9 0h0m0.9 0h0m0.8 -1h0m0.9 1h0m0.9 -1h0m0.8 0h0m0.9 0h0m0.9 -1h0m0.8 0h0m0.9 0h0m0.9 -1.1h0m0.8 0h0m0.9 0h0m0.9 0h0m0.8 0h0m0.9 0h0m0.9 0h0m0.8 0h0m0.9 0h0m0.9 0h0m0.8 0h0m0.9 0h0m0.9 -1h0m0.8 0h0m0.9 0h0m0.9 0h0m0.8 0h0m0.9 -1.1h0m0.9 0h0m0.8 0h0m0.9 0h0m0.9 0h0m0.8 0h0m0.9 -1h0m0.9 0h0m0.8 0h0m0.9 0h0m0.9 0h0m0.8 0h0m0.9 -1h0m0.9 0h0m0.8 1h0m0.9 0h0m0.9 0h0m0.9 0h0m0.8 0h0m0.9 0h0m0.9 0h0m0.8 1h0m0.9 0h0m0.9 0h0m0.8 1.1h0m0.9 0h0m0.9 0h0m0.8 1h0m0.9 0h0m0.9 0h0m0.8 0h0m0.9 1.1h0m0.9 0h0m0.8 0h0m0.9 0h0m0.9 1h0m0.8 0h0m0.9 0h0m0.9 1h0m0.8 0h0m0.9 0h0m0.9 1.1h0m0.8 0h0m0.9 1h0m0.9 0h0m0.8 0h0m0.9 1.1h0m0.9 0h0m0.8 0h0m0.9 1h0m0.9 0h0m0.8 0h0m0.9 1h0m0.9 0h0m0.8 0h0m0.9 0h0m0.9 1.1h0m0.8 0h0m0.9 0h0m0.9 0h0m0.8 0h0m0.9 -1.1h0m0.9 0h0m0.8 0h0m0.9 0h0m0.9 0h0m0.8 1.1h0m0.9 0h0m0.9 0h0m0.8 1h0m0.9 0h0m0.9 0h0m0.8 0h0m0.9 1h0m0.9 0h0m0.8 1.1h0m0.9 0h0m0.9 1h0m0.8 -1h0m0.9 1h0m0.9 0h0m0.8 0h0m0.9 0h0m0.9 0h0m0.8 0h0m0.9 0h0m0.9 0h0m0.8 0h0m0.9 0h0m0.9 0h0m0.8 0h0m0.9 0h0m0.9 0h0m0.8 0h0m0.9 0h0m0.9 -1h0m0.8 1h0m0.9 0h0m0.9 0h0m0.8 0h0m0.9 0h0m0.9 1.1h0m0.8 0h0m0.9 0h0m0.9 1h0m0.8 0h0m0.9 1h0m0.9 0h0m0.8 0h0m0.9 1.1h0m0.9 0h0m0.8 1h0m0.9 0h0m0.9 1h0m0.8 0h0m0.9 1.1h0m0.9 0h0m0.9 1h0m0.8 1.1h0m0.9 0h0m0.9 1h0m0.8 1h0m0.9 0h0m0.9 1.1h0m0.8 0h0m0.9 1h0m0.9 0h0m0.8 1.1h0m0.9 0h0m0.9 1h0m0.8 1h0m0.9 0h0m0.9 1.1h0m0.8 0h0m0.9 0h0m0.9 1h0m0.8 1h0m0.9 0h0m0.9 0h0m0.8 1.1h0m0.9 0h0m0.9 1h0m0.8 0h0m0.9 1.1h0m0.9 0h0m0.8 1h0m0.9 0h0m0.9 1h0m0.8 0h0m0.9 0h0m0.9 1.1h0m0.8 0h0m0.9 0h0m0.9 0h0m0.8 1h0m0.9 0h0m0.9 0h0m0.8 0h0m0.9 1h0m0.9 0h0m0.8 0h0m0.9 0h0m0.9 1.1h0m0.8 0h0m0.9 0h0m0.9 0h0m0.8 0h0m0.9 0h0m0.9 1h0m0.8 0h0m0.9 0h0m0.9 0h0m0.8 0h0m0.9 0h0m0.9 1.1h0m0.8 0h0m0.9 0h0m0.9 0h0m0.8 0h0m0.9 0h0m0.9 0h0m0.8 0h0m0.9 1h0m0.9 0h0m0.8 0h0m0.9 0h0m0.9 0h0m0.8 0h0m0.9 0h0m0.9 1h0m0.8 0h0m0.9 0h0m0.9 0h0m0.8 0h0m0.9 0h0m0.9 0h0m0.8 0h0m0.9 1.1h0m0.9 0h0m0.8 0h0m0.9 0h0m0.9 0h0m0.8 1h0m0.9 0h0m0.9 -1h0m0.8 0h0m0.9 1h0m0.9 0h0m0.8 0h0m0.9 0h0m0.9 0h0m0.8 0h0m0.9 0h0m0.9 0h0m0.8 0h0m0.9 0h0m0.9 0h0m0.9 0h0m0.8 1h0m0.9 0h0m0.9 0h0m0.8 0h0m0.9 0h0m0.9 0h0m0.8 0h0m0.9 0h0m0.9 0h0m0.8 0h0m0.9 0h0m0.9 0h0m0.8 1.1h0m0.9 0h0m0.9 0h0m0.8 0h0m0.9 0h0m0.9 0h0m0.8 -1.1h0m0.9 0h0m0.9 0h0m0.8 0h0m0.9 0h0m0.9 0h0m0.8 0h0m0.9 0h0m0.9 0h0m0.8 0h0m0.9 0h0m0.9 0h0m0.8 0h0m0.9 0h0m0.9 0h0m0.8 0h0m0.9 0h0m0.9 0h0m0.8 0h0m0.9 0h0m0.9 0h0m0.8 0h0m0.9 0h0m0.9 0h0m0.8 0h0m0.9 1.1h0m0.9 0h0m0.8 0h0m0.9 0h0m0.9 0h0m0.8 0h0m0.9 0h0m0.9 0h0m0.8 1h0m0.9 -1h0m0.9 1h0m0.8 0h0m0.9 0h0m0.9 0h0m0.8 0h0m0.9 0h0m0.9 0h0m0.8 0h0m0.9 1.1h0m0.9 0h0m0.8 0h0m0.9 0h0m0.9 0h0m0.8 0h0m0.9 0h0m0.9 0h0m0.8 1h0m0.9 0h0m0.9 0h0m0.8 0h0m0.9 0h0m0.9 0h0m0.8 0h0m0.9 0h0m0.9 0h0m0.8 0h0m0.9 0h0m0.9 1h0m0.8 0h0m0.9 0h0m0.9 0h0m0.8 0h0m0.9 0h0m0.9 0h0m0.8 0h0m0.9 0h0m0.9 0h0m0.8 0h0m0.9 0h0m0.9 0h0m0.8 0h0m0.9 1.1h0m0.9 0h0m0.8 0h0m0.9 0h0m0.9 0h0m0.8 0h0m0.9 0h0m0.9 0h0m0.9 0h0m0.8 0h0m0.9 0h0m0.9 0h0m0.8 0h0m0.9 0h0m0.9 0h0m0.8 0h0m0.9 0h0m0.9 0h0m0.8 0h0m0.9 0h0m0.9 0h0m0.8 0h0m0.9 1h0m0.9 0h0m0.8 0h0m0.9 0h0m0.9 0h0m0.8 0h0m0.9 0h0m0.9 0h0m0.8 0h0m0.9 0h0m0.9 1.1h0m0.8 0h0m0.9 1h0m0.9 0h0m0.8 1h0m0.9 1.1h0m0.9 1h0m0.8 0h0m0.9 1h0m0.9 0h0m0.8 1.1h0m0.9 0h0m0.9 0h0m0.8 1h0m0.9 0h0m0.9 0h0m0.8 0h0m0.9 1.1h0m0.9 0h0m0.8 0h0m0.9 0h0m0.9 0h0m0.8 0h0m0.9 0h0m0.9 0h0m0.8 0h0m0.9 0h0m0.9 0h0m0.8 0h0m0.9 0h0m0.9 0h0m0.8 0h0m0.9 0h0m0.9 0h0m0.8 0h0m0.9 0h0m0.9 -1.1h0m0.8 0h0m0.9 0h0m0.9 0h0m0.8 1.1h0m0.9 0h0m0.9 0h0m0.8 0h0m0.9 0h0m0.9 0h0m0.8 0h0m0.9 0h0m0.9 0h0m0.8 0h0m0.9 0h0m0.9 0h0m0.8 0h0m0.9 0h0m0.9 0h0m0.8 0h0m0.9 0h0m0.9 -1.1h0m0.8 1.1h0m0.9 0h0m0.9 0h0m0.8 0h0m0.9 0h0m0.9 0h0m0.8 0h0m0.9 0h0m0.9 0h0m0.8 0h0m0.9 0h0m0.9 0h0m0.8 0h0m0.9 0h0m0.9 1h0m0.8 0h0m0.9 0h0m0.9 1h0m0.9 0h0m0.8 1.1h0m0.9 1h0m0.9 1h0m0.8 1.1h0m0.9 0h0m0.9 1h0m0.8 1.1h0m0.9 1h0m0.9 0h0m0.8 1h0m0.9 0h0m0.9 1.1h0m0.8 0h0m0.9 1h0m0.9 0h0m0.8 0h0m0.9 1h0m0.9 0h0m0.8 0h0m0.9 1.1h0m0.9 0h0m0.8 0h0m0.9 1h0m0.9 0h0m0.8 0h0m0.9 0h0m0.9 1.1h0m0.8 0h0m0.9 0h0m0.9 0h0m0.8 1h0m0.9 0h0m0.9 0h0m0.8 0h0m0.9 1h0m0.9 0h0m0.8 -1h0m0.9 1h0m0.9 0h0m0.8 -1h0m0.9 0h0m0.9 1h0m0.8 0h0m0.9 0h0m0.9 0h0m0.8 -1h0m0.9 1h0m0.9 0h0m0.8 0h0m0.9 0h0m0.9 0h0m0.8 0h0m0.9 0h0m0.9 -1h0m0.8 1h0m0.9 0h0m0.9 0h0m0.8 0h0m0.9 0h0m0.9 0h0m0.8 0h0m0.9 0h0m0.9 0h0m0.8 0h0m0.9 0h0m0.9 0h0m0.8 0h0m0.9 1.1h0m0.9 0h0m0.8 0h0m0.9 0h0m0.9 0h0m0.8 0h0m0.9 0h0m0.9 0h0m0.8 0h0m0.9 1h0m0.9 -1h0m0.8 1h0m0.9 0h0m0.9 0h0m0.8 0h0m0.9 -1h0m0.9 1h0m0.8 0h0m0.9 0h0m0.9 0h0m0.8 0h0m0.9 0h0m0.9 0h0m0.8 0h0m0.9 1.1h0m0.9 0h0m0.8 0h0m0.9 0h0m0.9 1h0m0.8 0h0m0.9 0h0m0.9 0h0m0.9 0h0m0.8 1h0m0.9 0h0m0.9 0h0m0.8 0h0m0.9 0h0m0.9 0h0m0.8 0h0m0.9 0h0m0.9 0h0m0.8 0h0m0.9 0h0m0.9 1.1h0m0.8 0h0m0.9 0h0m0.9 0h0m0.8 0h0m0.9 0h0m0.9 0h0m0.8 0h0m0.9 0h0m0.9 0h0m0.8 0h0m0.9 0h0m0.9 0h0m0.8 0h0m0.9 0h0m0.9 0h0m0.8 0h0m0.9 0h0m0.9 1h0m0.8 -1h0m0.9 0h0m0.9 0h0m0.8 0h0m0.9 0h0m0.9 0h0m0.8 0h0m0.9 0h0m0.9 0h0m0.8 0h0m0.9 0h0m0.9 0h0m0.8 0h0m0.9 0h0m0.9 0h0m0.8 0h0m0.9 0h0m0.9 -2.1h0m0.8 -2.1h0m0.9 -3.1h0m0.9 -1h0m0.8 -2.1h0m0.9 -1.1h0m0.9 2.1h0m0.8 3.1h0m0.9 3.2h0m0.9 1h0m0.8 0h0m0.9 0h0m0.9 1h0m0.8 0h0m0.9 -1h0m0.9 1h0m0.8 0h0m0.9 0h0m0.9 0h0m0.8 -1h0m0.9 0h0m0.9 0h0m0.8 0h0m0.9 0h0m0.9 0h0m0.8 0h0m0.9 0h0m0.9 0h0m0.8 -1h0m0.9 0h0m0.9 0h0m0.8 0h0m0.9 0h0m0.9 0h0m0.8 -1.1h0m0.9 1.1h0m0.9 0h0m0.8 0h0m0.9 -1.1h0m0.9 1.1h0m0.8 -1.1h0m0.9 0h0m0.9 0h0m0.8 0h0m0.9 1.1h0m0.9 -1.1h0m0.8 0h0m0.9 0h0m0.9 0h0m0.8 0h0m0.9 0h0m0.9 0h0m0.9 0h0m0.8 0h0m0.9 0h0m0.9 0h0m0.8 0h0m0.9 0h0m0.9 0h0m0.8 0h0m0.9 0h0m0.9 0h0m0.8 0h0m0.9 0h0m0.9 0h0m0.8 0h0m0.9 0h0m0.9 0h0m0.8 0h0m0.9 0h0m0.9 0h0m0.8 0h0m0.9 0h0m0.9 0h0m0.8 0h0m0.9 0h0m0.9 0h0m0.8 0h0m0.9 0h0m0.9 0h0m0.8 0h0m0.9 0h0m0.9 0h0m0.8 0h0m0.9 0h0m0.9 0h0m0.8 0h0m0.9 0h0m0.9 1.1h0m0.8 -1.1h0m0.9 0h0m0.9 0h0m0.8 0h0m0.9 0h0m0.9 0h0m0.8 0h0m0.9 0h0m0.9 1.1h0m0.8 -1.1h0m0.9 0h0m0.9 0h0m0.8 1.1h0m0.9 0h0m0.9 0h0m0.8 0h0m0.9 0h0m0.9 0h0m0.8 1h0m0.9 0h0m0.9 0h0m0.8 0h0m0.9 0h0m0.9 0h0m0.8 0h0m0.9 0h0m0.9 1h0m0.8 0h0m0.9 0h0m0.9 0h0m0.8 0h0m0.9 0h0m0.9 1.1h0m0.8 0h0m0.9 0h0m0.9 0h0m0.8 0h0m0.9 1h0m0.9 0h0m0.8 0h0m0.9 0h0m0.9 0h0m0.8 1h0m0.9 0h0m0.9 0h0m0.8 0h0m0.9 0h0m0.9 0h0m0.8 0h0m0.9 0h0m0.9 0h0m0.8 0h0m0.9 0h0m0.9 0h0m0.8 -1h0m0.9 0h0m0.9 0h0m0.8 0h0m0.9 0h0m0.9 0h0m0.8 0h0m0.9 0h0m0.9 0h0m0.9 0h0m0.8 0h0m0.9 0h0m0.9 0h0m0.8 0h0m0.9 0h0m0.9 0h0m0.8 -1h0m0.9 0h0m0.9 1h0m0.8 0h0m0.9 0h0m0.9 0h0m0.8 0h0m0.9 0h0m0.9 0h0m0.8 0h0m0.9 0h0m0.9 0h0m0.8 0h0m0.9 0h0m0.9 0h0m0.8 0h0m0.9 0h0m0.9 0h0m0.8 0h0m0.9 0h0m0.9 0h0m0.8 0h0m0.9 0h0m0.9 0h0m0.8 1h0m0.9 0h0m0.9 -1h0m0.8 1h0m0.9 0h0m0.9 0h0m0.8 0h0m0.9 0h0m0.9 0h0m0.8 0h0m0.9 1.1h0m0.9 -1.1h0m0.8 1.1h0m0.9 0h0m0.9 0h0m0.8 0h0m0.9 0h0m0.9 0h0m0.8 0h0m0.9 0h0m0.9 0h0m0.8 0h0m0.9 1h0m0.9 -1h0m0.8 0h0m0.9 1h0m0.9 0h0m0.8 -1h0m0.9 1h0m0.9 0h0m0.8 0h0m0.9 0h0m0.9 0h0m0.8 0h0m0.9 0h0m0.9 0h0m0.8 0h0m0.9 0h0m0.9 0h0m0.8 0h0m0.9 0h0m0.9 0h0m0.8 0h0m0.9 1.1h0m0.9 0h0m0.8 0h0m0.9 0h0m0.9 0h0m0.8 0h0m0.9 0h0m0.9 0h0m0.8 0h0m0.9 0h0m0.9 0h0m0.8 0h0m0.9 0h0m0.9 0h0m0.8 0h0m0.9 0h0m0.9 0h0m0.8 1h0m0.9 0h0m0.9 0h0m0.8 0h0m0.9 0h0m0.9 0h0m0.8 0h0m0.9 0h0m0.9 0h0m0.9 0h0m0.8 0h0m0.9 0h0m0.9 0h0m0.8 0h0m0.9 0h0m0.9 0h0m0.8 0h0m0.9 0h0m0.9 0h0m0.8 0h0m0.9 0h0m0.9 0h0m0.8 0h0m0.9 1h0m0.9 -1h0m0.8 0h0m0.9 0h0m0.9 1h0m0.8 -1h0m0.9 0h0m0.9 1h0m0.8 0h0m0.9 0h0m0.9 0h0m0.8 0h0m0.9 0h0m0.9 0h0m0.8 0h0m0.9 1.1h0m0.9 0h0m0.8 0h0m0.9 0h0m0.9 0h0m0.8 0h0m0.9 1h0m0.9 0h0m0.8 0h0m0.9 0h0m0.9 0h0m0.8 0h0m0.9 0h0m0.9 0h0m0.8 0h0m0.9 0h0m0.9 0h0m0.8 0h0m0.9 0h0m0.9 0h0m0.8 1h0m0.9 -1h0m0.9 1h0m0.8 0h0m0.9 -1h0m0.9 1h0m0.8 0h0m0.9 0h0m0.9 0h0m0.8 0h0m0.9 0h0m0.9 0h0m0.8 0h0m0.9 0h0m0.9 0h0m0.8 0h0m0.9 0h0m0.9 0h0m0.8 0h0m0.9 0h0m0.9 0h0m0.8 0h0m0.9 0h0m0.9 0h0m0.8 0h0m0.9 0h0m0.9 0h0m0.8 0h0m0.9 0h0m0.9 0h0m0.8 0h0m0.9 0h0m0.9 0h0m0.8 1.1h0m0.9 0h0m0.9 0h0m0.8 -1.1h0m0.9 1.1h0m0.9 0h0m0.8 0h0m0.9 0h0m0.9 0h0m0.8 0h0m0.9 0h0m0.9 0h0m0.8 0h0m0.9 0h0m0.9 0h0m0.8 0h0m0.9 0h0m0.9 0h0m0.9 0h0m0.8 0h0m0.9 0h0m0.9 0h0m0.8 0h0m0.9 0h0m0.9 0h0m0.8 0h0m0.9 0h0m0.9 0h0m0.8 0h0m0.9 0h0m0.9 0h0m0.8 0h0m0.9 0h0m0.9 0h0m0.8 0h0m0.9 0h0m0.9 0h0m0.8 0h0m0.9 0h0m0.9 0h0m0.8 0h0m0.9 0h0m0.9 0h0m0.8 0h0m0.9 0h0m0.9 0h0m0.8 0h0m0.9 0h0m0.9 0h0m0.8 0h0m0.9 0h0m0.9 0h0m0.8 -1.1h0m0.9 0h0m0.9 0h0m0.8 0h0m0.9 0h0m0.9 0h0m0.8 0h0m0.9 0h0m0.9 -1h0m0.8 0h0m0.9 1h0m0.9 0h0m0.8 0h0m0.9 1.1h0m0.9 0h0m0.8 1h0m0.9 0h0m0.9 0h0m0.8 1.1h0m0.9 -1.1h0m0.9 1.1h0m0.8 0h0m0.9 0h0m0.9 0h0m0.8 0h0m0.9 0h0m0.9 0h0m0.8 0h0m0.9 0h0m0.9 0h0m0.8 0h0m0.9 0h0m0.9 0h0m0.8 0h0m0.9 0h0m0.9 0h0m0.8 -1.1h0m0.9 0h0m0.9 0h0m0.8 0h0m0.9 0h0m0.9 -1h0m0.8 0h0m0.9 0h0m0.9 0h0m0.8 0h0m0.9 -1.1h0m0.9 0h0m0.8 -1h0m0.9 -1h0m0.9 -1.1h0m0.8 0h0m0.9 -1h0m0.9 0h0m0.8 -1h0m0.9 0h0m0.9 -1.1h0m0.8 0h0m0.9 -1h0m0.9 -1.1h0m0.8 0h0m0.9 0h0m0.9 -1h0m0.8 -1h0m0.9 0h0m0.9 -1.1h0m0.9 0h0m0.8 -1h0m0.9 0h0m0.9 -1h0m0.8 0h0m0.9 0h0m0.9 0h0m0.8 -1.1h0m0.9 0h0m0.9 0h0m0.8 0h0m0.9 0h0m0.9 0h0m0.8 0h0m0.9 0h0m0.9 0h0m0.8 0h0m0.9 -1h0m0.9 1h0m0.8 0h0m0.9 -1h0m0.9 0h0m0.8 0h0m0.9 0h0m0.9 0h0m0.8 0h0m0.9 0h0m0.9 0h0m0.8 0h0m0.9 0h0m0.9 0h0m0.8 0h0m0.9 0h0m0.9 0h0m0.8 0h0m0.9 0h0m0.9 -1.1h0m0.8 0h0m0.9 1.1h0m0.9 -1.1h0m0.8 0h0m0.9 0h0m0.9 0h0m0.8 0h0m0.9 0h0m0.9 0h0m0.8 0h0m0.9 0h0m0.9 0h0m0.8 0h0m0.9 0h0m0.9 0h0m0.8 0h0m0.9 0h0m0.9 0h0m0.8 0h0m0.9 0h0m0.9 -1h0m0.8 -1h0m0.9 -1.1h0m0.9 0h0m0.8 -1h0m0.9 -1.1h0m0.9 -1h0m0.8 -1h0m0.9 0h0m0.9 -1.1h0m0.8 0h0m0.9 -1h0m0.9 0h0m0.8 -1h0m0.9 0h0m0.9 -1.1h0m0.8 -1h0m0.9 0h0m0.9 -1.1h0m0.8 0h0m0.9 -1h0m0.9 -1h0m0.8 -1.1h0m0.9 0h0m0.9 -1h0m0.8 0h0m0.9 0h0m0.9 0h0m0.8 0h0m0.9 0h0" stroke="#0000ff" stroke-width="3.2" stroke-linecap="round" fill="none"/></g><g clip-path="url(#c2)"><path d="M75.5 352.5L76.37 353.5L77.23 353.5L78.1 352.5L78.97 353.5L79.84 353.5L80.7 353.5L81.57 353.5L82.44 353.5L83.3 354.5L84.17 354.5L85.04 355.5L85.9 355.5L86.77 355.5L87.64 356.5L88.51 356.5L89.37 357.5L90.24 358.5L91.11 359.5L91.97 359.5L92.84 360.5L93.71 361.5L94.57 362.5L95.44 362.5L96.31 363.5L97.18 365.5L98.04 365.5L98.91 366.5L99.78 367.5L100.64 369.5L101.51 369.5L102.38 370.5L103.24 372.5L104.11 374.5L104.98 375.5L105.85 376.5L106.71 378.5L107.58 379.5L108.45 380.5L109.31 381.5L110.18 381.5L111.05 382.5L111.91 383.5L112.78 383.5L113.65 384.5L114.52 385.5L115.38 386.5L116.25 387.5L117.12 389.5L117.98 390.5L118.85 391.5L119.72 392.5L120.58 393.5L121.45 393.5L122.32 394.5L123.19 394.5L124.05 395.5L124.92 395.5L125.79 395.5L126.65 396.5L127.52 397.5L128.39 397.5L129.25 399.5L130.12 399.5L130.99 400.5L131.86 401.5L132.72 402.5L133.59 403.5L134.46 404.5L135.32 404.5L136.19 405.5L137.06 407.5L137.92 408.5L138.79 410.5L139.66 413.5L140.53 415.5L141.39 416.5L142.26 418.5L143.13 419.5L143.99 421.5L144.86 423.5L145.73 424.5L146.59 426.5L147.46 427.5L148.33 429.5L149.2 430.5L150.06 431.5L150.93 432.5L151.8 433.5L152.66 434.5L153.53 435.5L154.4 437.5L155.26 438.5L156.13 439.5L157 440.5L157.86 442.5L158.73 443.5L159.6 444.5L160.47 446.5L161.33 447.5L162.2 448.5L163.07 447.5L163.93 448.5L164.8 448.5L165.67 448.5L166.53 448.5L167.4 448.5L168.27 448.5L169.14 448.5L170 448.5L170.87 448.5L171.74 448.5L172.6 448.5L173.47 448.5L174.34 448.5L175.2 449.5L176.07 449.5L176.94 450.5L177.81 450.5L178.67 449.5L179.54 448.5L180.41 447.5L181.27 446.5L182.14 446.5L183.01 446.5L183.87 447.5L184.74 447.5L185.61 448.5L186.48 448.5L187.34 448.5L188.21 449.5L189.08 449.5L189.94 449.5L190.81 449.5L191.68 449.5L192.54 450.5L193.41 450.5L194.28 450.5L195.15 450.5L196.01 450.5L196.88 451.5L197.75 452.5L198.61 452.5L199.48 453.5L200.35 454.5L201.21 454.5L202.08 456.5L202.95 456.5L203.82 457.5L204.68 458.5L205.55 459.5L206.42 459.5L207.28 460.5L208.15 460.5L209.02 460.5L209.88 460.5L210.75 461.5L211.62 461.5L212.49 461.5L213.35 461.5L214.22 460.5L215.09 460.5L215.95 460.5L216.82 459.5L217.69 459.5L218.55 459.5L219.42 458.5L220.29 458.5L221.16 458.5L222.02 459.5L222.89 458.5L223.76 459.5L224.62 459.5L225.49 459.5L226.36 460.5L227.22 460.5L228.09 460.5L228.96 461.5L229.83 461.5L230.69 461.5L231.56 462.5L232.43 463.5L233.29 464.5L234.16 464.5L235.03 465.5L235.89 466.5L236.76 467.5L237.63 467.5L238.5 468.5L239.36 469.5L240.23 469.5L241.1 469.5L241.96 469.5L242.83 469.5L243.7 469.5L244.56 469.5L245.43 469.5L246.3 469.5L247.17 469.5L248.03 469.5L248.9 469.5L249.77 469.5L250.63 469.5L251.5 469.5L252.37 468.5L253.23 468.5L254.1 467.5L254.97 466.5L255.84 466.5L256.7 466.5L257.57 465.5L258.44 464.5L259.3 464.5L260.17 464.5L261.04 464.5L261.9 463.5L262.77 463.5L263.64 463.5L264.51 462.5L265.37 462.5L266.24 461.5L267.11 461.5L267.97 461.5L268.84 460.5L269.71 459.5L270.57 459.5L271.44 458.5L272.31 457.5L273.18 457.5L274.04 457.5L274.91 456.5L275.78 455.5L276.64 455.5L277.51 455.5L278.38 455.5L279.24 455.5L280.11 455.5L280.98 455.5L281.85 455.5L282.71 454.5L283.58 454.5L284.45 454.5L285.31 454.5L286.18 453.5L287.05 453.5L287.91 453.5L288.78 452.5L289.65 452.5L290.52 451.5L291.38 451.5L292.25 450.5L293.12 449.5L293.98 449.5L294.85 449.5L295.72 448.5L296.58 448.5L297.45 448.5L298.32 448.5L299.19 448.5L300.05 447.5L300.92 447.5L301.79 447.5L302.65 447.5L303.52 447.5L304.39 446.5L305.25 446.5L306.12 446.5L306.99 446.5L307.86 446.5L308.72 446.5L309.59 446.5L310.46 446.5L311.32 446.5L312.19 447.5L313.06 447.5L313.93 447.5L314.79 448.5L315.66 448.5L316.53 448.5L317.39 448.5L318.26 449.5L319.13 449.5L319.99 449.5L320.86 449.5L321.73 449.5L322.6 449.5L323.46 449.5L324.33 449.5L325.2 449.5L326.06 449.5L326.93 449.5L327.8 449.5L328.66 449.5L329.53 449.5L330.4 449.5L331.27 449.5L332.13 449.5L333 448.5L333.87 449.5L334.73 449.5L335.6 448.5L336.47 448.5L337.33 448.5L338.2 448.5L339.07 448.5L339.94 448.5L340.8 448.5L341.67 448.5L342.54 448.5L343.4 448.5L344.27 449.5L345.14 449.5L346 449.5L346.87 449.5L347.74 450.5L348.61 449.5L349.47 450.5L350.34 450.5L351.21 449.5L352.07 449.5L352.94 449.5L353.81 449.5L354.67 449.5L355.54 449.5L356.41 449.5L357.28 449.5L358.14 448.5L359.01 449.5L359.88 449.5L360.74 450.5L361.61 450.5L362.48 451.5L363.34 451.5L364.21 452.5L365.08 452.5L365.95 452.5L366.81 453.5L367.68 452.5L368.55 453.5L369.41 454.5L370.28 454.5L371.15 453.5L372.01 453.5L372.88 453.5L373.75 453.5L374.62 452.5L375.48 452.5L376.35 452.5L377.22 452.5L378.08 452.5L378.95 452.5L379.82 452.5L380.68 452.5L381.55 452.5L382.42 452.5L383.29 452.5L384.15 452.5L385.02 452.5L385.89 452.5L386.75 452.5L387.62 452.5L388.49 452.5L389.35 452.5L390.22 451.5L391.09 451.5L391.96 451.5L392.82 451.5L393.69 451.5L394.56 450.5L395.42 450.5L396.29 450.5L397.16 450.5L398.02 449.5L398.89 448.5L399.76 448.5L400.63 447.5L401.49 447.5L402.36 446.5L403.23 445.5L404.09 445.5L404.96 445.5L405.83 444.5L406.69 444.5L407.56 444.5L408.43 443.5L409.3 443.5L410.16 442.5L411.03 442.5L411.9 441.5L412.76 441.5L413.63 441.5L414.5 442.5L415.36 441.5L416.23 441.5L417.1 441.5L417.97 441.5L418.83 441.5L419.7 441.5L420.57 441.5L421.43 441.5L422.3 441.5L423.17 441.5L424.03 440.5L424.9 440.5L425.77 440.5L426.64 439.5L427.5 438.5L428.37 438.5L429.24 437.5L430.1 437.5L430.97 437.5L431.84 436.5L432.7 436.5L433.57 435.5L434.44 435.5L435.31 435.5L436.17 435.5L437.04 434.5L437.91 434.5L438.77 434.5L439.64 434.5L440.51 434.5L441.37 433.5L442.24 433.5L443.11 433.5L443.98 433.5L444.84 433.5L445.71 432.5L446.58 432.5L447.44 432.5L448.31 432.5L449.18 432.5L450.04 431.5L450.91 431.5L451.78 431.5L452.65 431.5L453.51 430.5L454.38 430.5L455.25 430.5L456.11 429.5L456.98 429.5L457.85 429.5L458.71 428.5L459.58 427.5L460.45 427.5L461.32 426.5L462.18 426.5L463.05 426.5L463.92 425.5L464.78 424.5L465.65 424.5L466.52 423.5L467.38 423.5L468.25 422.5L469.12 421.5L469.99 420.5L470.85 420.5L471.72 419.5L472.59 418.5L473.45 418.5L474.32 417.5L475.19 417.5L476.05 416.5L476.92 415.5L477.79 414.5L478.66 414.5L479.52 413.5L480.39 413.5L481.26 412.5L482.12 411.5L482.99 411.5L483.86 410.5L484.72 409.5L485.59 409.5L486.46 408.5L487.33 407.5L488.19 406.5L489.06 406.5L489.93 405.5L490.79 405.5L491.66 404.5L492.53 403.5L493.39 403.5L494.26 402.5L495.13 401.5L496 401.5L496.86 400.5L497.73 400.5L498.6 399.5L499.46 399.5L500.33 399.5L501.2 398.5L502.06 398.5L502.93 397.5L503.8 397.5L504.67 397.5L505.53 396.5L506.4 396.5L507.27 396.5L508.13 395.5L509 395.5L509.87 395.5L510.73 394.5L511.6 394.5L512.47 393.5L513.34 393.5L514.2 393.5L515.07 393.5L515.94 392.5L516.8 392.5L517.67 391.5L518.54 391.5L519.4 391.5L520.27 391.5L521.14 391.5L522.01 390.5L522.87 390.5L523.74 389.5L524.61 389.5L525.47 390.5L526.34 389.5L527.21 389.5L528.07 389.5L528.94 388.5L529.81 389.5L530.68 388.5L531.54 388.5L532.41 387.5L533.28 387.5L534.14 387.5L535.01 386.5L535.88 386.5L536.74 386.5L537.61 386.5L538.48 385.5L539.35 385.5L540.21 385.5L541.08 385.5L541.95 384.5L542.81 384.5L543.68 384.5L544.55 383.5L545.41 383.5L546.28 383.5L547.15 383.5L548.02 382.5L548.88 382.5L549.75 382.5L550.62 382.5L551.48 381.5L552.35 381.5L553.22 381.5L554.08 381.5L554.95 380.5L555.82 380.5L556.69 379.5L557.55 379.5L558.42 378.5L559.29 378.5L560.15 378.5L561.02 377.5L561.89 377.5L562.75 376.5L563.62 376.5L564.49 376.5L565.36 375.5L566.22 375.5L567.09 375.5L567.96 374.5L568.82 374.5L569.69 374.5L570.56 373.5L571.42 373.5L572.29 373.5L573.16 373.5L574.03 373.5L574.89 372.5L575.76 372.5L576.63 372.5L577.49 372.5L578.36 372.5L579.23 371.5L580.09 371.5L580.96 371.5L581.83 371.5L582.7 370.5L583.56 371.5L584.43 370.5L585.3 370.5L586.16 370.5L587.03 369.5L587.9 370.5L588.76 369.5L589.63 369.5L590.5 369.5L591.37 369.5L592.23 369.5L593.1 369.5L593.97 369.5L594.83 369.5L595.7 369.5L596.57 369.5L597.43 369.5L598.3 369.5L599.17 369.5L600.04 369.5L600.9 369.5L601.77 369.5L602.64 369.5L603.5 369.5L604.37 369.5L605.24 369.5L606.1 369.5L606.97 369.5L607.84 370.5L608.71 369.5L609.57 369.5L610.44 370.5L611.31 370.5L612.17 370.5L613.04 370.5L613.91 371.5L614.77 371.5L615.64 372.5L616.51 372.5L617.37 372.5L618.24 372.5L619.11 372.5L619.98 373.5L620.84 373.5L621.71 374.5L622.58 374.5L623.44 374.5L624.31 374.5L625.18 375.5L626.04 375.5L626.91 375.5L627.78 376.5L628.65 376.5L629.51 376.5L630.38 377.5L631.25 377.5L632.11 377.5L632.98 377.5L633.85 377.5L634.71 378.5L635.58 378.5L636.45 378.5L637.32 378.5L638.18 379.5L639.05 379.5L639.92 379.5L640.78 380.5L641.65 380.5L642.52 380.5L643.38 380.5L644.25 380.5L645.12 381.5L645.99 381.5L646.85 381.5L647.72 382.5L648.59 381.5L649.45 382.5L650.32 382.5L651.19 382.5L652.05 382.5L652.92 382.5L653.79 382.5L654.66 382.5L655.52 382.5L656.39 383.5L657.26 382.5L658.12 383.5L658.99 382.5L659.86 382.5L660.72 381.5L661.59 381.5L662.46 380.5L663.33 380.5L664.19 379.5L665.06 379.5L665.93 377.5L666.79 376.5L667.66 375.5L668.53 374.5L669.39 373.5L670.26 372.5L671.13 371.5L672 371.5L672.86 370.5L673.73 370.5L674.6 369.5L675.46 368.5L676.33 368.5L677.2 368.5L678.06 368.5L678.93 368.5L679.8 367.5L680.67 368.5L681.53 367.5L682.4 367.5L683.27 367.5L684.13 367.5L685 367.5L685.87 367.5L686.73 368.5L687.6 368.5L688.47 368.5L689.34 369.5L690.2 369.5L691.07 369.5L691.94 369.5L692.8 370.5L693.67 370.5L694.54 370.5L695.4 371.5L696.27 371.5L697.14 371.5L698.01 371.5L698.87 371.5L699.74 372.5L700.61 372.5L701.47 372.5L702.34 373.5L703.21 373.5L704.07 374.5L704.94 374.5L705.81 374.5L706.68 374.5L707.54 374.5L708.41 375.5L709.28 375.5L710.14 375.5L711.01 375.5L711.88 376.5L712.74 376.5L713.61 377.5L714.48 377.5L715.35 378.5L716.21 379.5L717.08 379.5L717.95 380.5L718.81 381.5L719.68 382.5L720.55 383.5L721.41 385.5L722.28 386.5L723.15 387.5L724.02 388.5L724.88 389.5L725.75 390.5L726.62 389.5L727.48 388.5L728.35 387.5L729.22 386.5L730.08 385.5L730.95 384.5L731.82 382.5L732.69 381.5L733.55 379.5L734.42 378.5L735.29 377.5L736.15 375.5L737.02 374.5L737.89 373.5L738.75 371.5L739.62 370.5L740.49 369.5L741.36 368.5L742.22 367.5L743.09 366.5L743.96 365.5L744.82 364.5L745.69 363.5L746.56 362.5L747.42 361.5L748.29 360.5L749.16 360.5L750.03 359.5L750.89 358.5L751.76 357.5L752.63 357.5L753.49 356.5L754.36 355.5L755.23 355.5L756.09 354.5L756.96 354.5L757.83 353.5L758.7 353.5L759.56 352.5L760.43 351.5L761.3 351.5L762.16 350.5L763.03 350.5L763.9 350.5L764.76 349.5L765.63 348.5L766.5 348.5L767.37 348.5L768.23 347.5L769.1 347.5L769.97 346.5L770.83 346.5L771.7 345.5L772.57 345.5L773.43 345.5L774.3 345.5L775.17 345.5L776.04 345.5L776.9 345.5L777.77 345.5L778.64 345.5L779.5 345.5L780.37 345.5L781.24 345.5L782.1 345.5L782.97 345.5L783.84 345.5L784.71 345.5L785.57 345.5L786.44 345.5L787.31 345.5L788.17 345.5L789.04 345.5L789.91 345.5L790.77 345.5L791.64 345.5L792.51 345.5L793.38 345.5L794.24 345.5L795.11 345.5L795.98 345.5L796.84 345.5L797.71 345.5L798.58 345.5L799.44 345.5L800.31 345.5L801.18 345.5L802.05 345.5L802.91 345.5L803.78 345.5L804.65 345.5L805.51 345.5L806.38 345.5L807.25 345.5L808.11 345.5L808.98 345.5L809.85 345.5L810.72 345.5L811.58 345.5L812.45 345.5L813.32 345.5L814.18 345.5L815.05 345.5L815.92 345.5L816.78 345.5L817.65 345.5L818.52 345.5L819.39 345.5L820.25 345.5L821.12 345.5L821.99 345.5L822.85 345.5L823.72 345.5L824.59 345.5L825.45 345.5L826.32 345.5L827.19 345.5L828.06 346.5L828.92 346.5L829.79 346.5L830.66 347.5L831.52 347.5L832.39 347.5L833.26 348.5L834.12 348.5L834.99 349.5L835.86 350.5L836.73 351.5L837.59 351.5L838.46 352.5L839.33 353.5L840.19 353.5L841.06 353.5L841.93 354.5L842.79 354.5L843.66 354.5L844.53 355.5L845.4 356.5L846.26 356.5L847.13 356.5L848 357.5L848.86 357.5L849.73 358.5L850.6 358.5L851.46 358.5L852.33 359.5L853.2 359.5L854.07 359.5L854.93 360.5L855.8 360.5L856.67 363.5L857.53 366.5L858.4 370.5L859.27 373.5L860.13 375.5L861 377.5L861.87 374.5L862.74 372.5L863.6 368.5L864.47 367.5L865.34 367.5L866.2 366.5L867.07 366.5L867.94 366.5L868.8 367.5L869.67 367.5L870.54 367.5L871.41 368.5L872.27 368.5L873.14 368.5L874.01 368.5L874.87 369.5L875.74 369.5L876.61 370.5L877.47 370.5L878.34 370.5L879.21 370.5L880.08 371.5L880.94 371.5L881.81 371.5L882.68 372.5L883.54 372.5L884.41 373.5L885.28 373.5L886.14 374.5L887.01 374.5L887.88 375.5L888.75 375.5L889.61 375.5L890.48 376.5L891.35 376.5L892.21 376.5L893.08 377.5L893.95 377.5L894.81 377.5L895.68 377.5L896.55 377.5L897.42 378.5L898.28 378.5L899.15 378.5L900.02 378.5L900.88 379.5L901.75 379.5L902.62 379.5L903.48 379.5L904.35 380.5L905.22 380.5L906.09 381.5L906.95 381.5L907.82 381.5L908.69 382.5L909.55 382.5L910.42 383.5L911.29 383.5L912.15 384.5L913.02 384.5L913.89 385.5L914.76 385.5L915.62 385.5L916.49 386.5L917.36 386.5L918.22 386.5L919.09 387.5L919.96 387.5L920.82 387.5L921.69 387.5L922.56 387.5L923.43 387.5L924.29 387.5L925.16 388.5L926.03 388.5L926.89 388.5L927.76 388.5L928.63 388.5L929.49 388.5L930.36 388.5L931.23 388.5L932.1 389.5L932.96 389.5L933.83 389.5L934.7 389.5L935.56 389.5L936.43 389.5L937.3 390.5L938.16 390.5L939.03 390.5L939.9 391.5L940.77 391.5L941.63 391.5L942.5 391.5L943.37 392.5L944.23 392.5L945.1 393.5L945.97 393.5L946.83 394.5L947.7 394.5L948.57 395.5L949.44 396.5L950.3 396.5L951.17 397.5L952.04 398.5L952.9 398.5L953.77 399.5L954.64 399.5L955.5 400.5L956.37 401.5L957.24 402.5L958.11 402.5L958.97 403.5L959.84 404.5L960.71 405.5L961.57 405.5L962.44 406.5L963.31 405.5L964.17 405.5L965.04 405.5L965.91 405.5L966.78 405.5L967.64 405.5L968.51 405.5L969.38 405.5L970.24 405.5L971.11 405.5L971.98 405.5L972.84 405.5L973.71 405.5L974.58 406.5L975.45 406.5L976.31 406.5L977.18 406.5L978.05 406.5L978.91 407.5L979.78 407.5L980.65 407.5L981.51 408.5L982.38 408.5L983.25 408.5L984.12 408.5L984.98 408.5L985.85 407.5L986.72 407.5L987.58 407.5L988.45 407.5L989.32 407.5L990.18 407.5L991.05 407.5L991.92 407.5L992.79 407.5L993.65 407.5L994.52 406.5L995.39 407.5L996.25 407.5L997.12 407.5L997.99 407.5L998.85 407.5L999.72 408.5L1000.59 408.5L1001.46 409.5L1002.32 410.5L1003.19 410.5L1004.06 411.5L1004.92 411.5L1005.79 412.5L1006.66 411.5L1007.52 412.5L1008.39 412.5L1009.26 412.5L1010.13 412.5L1010.99 412.5L1011.86 412.5L1012.73 412.5L1013.59 413.5L1014.46 413.5L1015.33 413.5L1016.19 414.5L1017.06 414.5L1017.93 414.5L1018.8 415.5L1019.66 415.5L1020.53 415.5L1021.4 415.5L1022.26 416.5L1023.13 416.5L1024 416.5L1024.86 417.5L1025.73 417.5L1026.6 417.5L1027.47 417.5L1028.33 417.5L1029.2 418.5L1030.07 418.5L1030.93 418.5L1031.8 417.5L1032.67 418.5L1033.53 417.5L1034.4 417.5L1035.27 417.5L1036.14 417.5L1037 418.5L1037.87 417.5L1038.74 418.5L1039.6 418.5L1040.47 418.5L1041.34 419.5L1042.2 419.5L1043.07 419.5L1043.94 419.5L1044.81 420.5L1045.67 420.5L1046.54 420.5L1047.41 420.5L1048.27 419.5L1049.14 420.5L1050.01 419.5L1050.87 419.5L1051.74 419.5L1052.61 419.5L1053.48 419.5L1054.34 418.5L1055.21 418.5L1056.08 418.5L1056.94 418.5L1057.81 418.5L1058.68 419.5L1059.54 419.5L1060.41 419.5L1061.28 420.5L1062.15 420.5L1063.01 420.5L1063.88 421.5L1064.75 421.5L1065.61 421.5L1066.48 421.5L1067.35 421.5L1068.21 421.5L1069.08 421.5L1069.95 422.5L1070.82 422.5L1071.68 422.5L1072.55 422.5L1073.42 422.5L1074.28 422.5L1075.15 422.5L1076.02 422.5L1076.88 422.5L1077.75 422.5L1078.62 422.5L1079.49 421.5L1080.35 421.5L1081.22 421.5L1082.09 421.5L1082.95 421.5L1083.82 421.5L1084.69 421.5L1085.55 421.5L1086.42 420.5L1087.29 420.5L1088.16 421.5L1089.02 420.5L1089.89 420.5L1090.76 420.5L1091.62 420.5L1092.49 420.5L1093.36 420.5L1094.22 420.5L1095.09 421.5L1095.96 421.5L1096.83 421.5L1097.69 421.5L1098.56 422.5L1099.43 422.5L1100.29 422.5L1101.16 422.5L1102.03 422.5L1102.89 422.5L1103.76 422.5L1104.63 421.5L1105.5 421.5L1106.36 421.5L1107.23 421.5L1108.1 421.5L1108.96 421.5L1109.83 421.5L1110.7 420.5L1111.56 420.5L1112.43 420.5L1113.3 419.5L1114.17 419.5L1115.03 418.5L1115.9 418.5L1116.77 418.5L1117.63 418.5L1118.5 417.5L1119.37 417.5L1120.23 416.5L1121.1 417.5L1121.97 416.5L1122.84 416.5L1123.7 416.5L1124.57 415.5L1125.44 415.5L1126.3 415.5L1127.17 415.5L1128.04 415.5L1128.9 415.5L1129.77 415.5L1130.64 415.5L1131.51 415.5L1132.37 415.5L1133.24 415.5L1134.11 415.5L1134.97 415.5L1135.84 415.5L1136.71 415.5L1137.57 415.5L1138.44 415.5L1139.31 415.5L1140.18 414.5L1141.04 414.5L1141.91 414.5L1142.78 414.5L1143.64 414.5L1144.51 414.5L1145.38 414.5L1146.24 414.5L1147.11 413.5L1147.98 414.5L1148.85 413.5L1149.71 413.5L1150.58 413.5L1151.45 414.5L1152.31 414.5L1153.18 414.5L1154.05 413.5L1154.91 414.5L1155.78 414.5L1156.65 414.5L1157.52 414.5L1158.38 414.5L1159.25 414.5L1160.12 414.5L1160.98 414.5L1161.85 414.5L1162.72 414.5L1163.58 414.5L1164.45 414.5L1165.32 414.5L1166.19 415.5L1167.05 414.5L1167.92 414.5L1168.79 415.5L1169.65 414.5L1170.52 415.5L1171.39 415.5L1172.25 415.5L1173.12 415.5L1173.99 415.5L1174.86 415.5L1175.72 415.5L1176.59 415.5L1177.46 415.5L1178.32 415.5L1179.19 416.5L1180.06 416.5L1180.92 416.5L1181.79 416.5L1182.66 416.5L1183.53 415.5L1184.39 415.5L1185.26 415.5L1186.13 416.5L1186.99 415.5L1187.86 415.5L1188.73 415.5L1189.59 415.5L1190.46 415.5L1191.33 415.5L1192.2 415.5L1193.06 415.5L1193.93 415.5L1194.8 415.5L1195.66 416.5L1196.53 416.5L1197.4 416.5L1198.26 416.5L1199.13 416.5L1200 416.5L1200.87 416.5L1201.73 415.5L1202.6 414.5L1203.47 414.5L1204.33 413.5L1205.2 412.5L1206.07 412.5L1206.93 411.5L1207.8 411.5L1208.67 410.5L1209.54 410.5L1210.4 409.5L1211.27 408.5L1212.14 408.5L1213 408.5L1213.87 408.5L1214.74 408.5L1215.6 408.5L1216.47 407.5L1217.34 407.5L1218.21 407.5L1219.07 407.5L1219.94 407.5L1220.81 408.5L1221.67 408.5L1222.54 408.5L1223.41 408.5L1224.27 408.5L1225.14 408.5L1226.01 409.5L1226.88 409.5L1227.74 409.5L1228.61 410.5L1229.48 410.5L1230.34 410.5L1231.21 411.5L1232.08 411.5L1232.94 411.5L1233.81 412.5L1234.68 412.5L1235.55 413.5L1236.41 414.5L1237.28 414.5L1238.15 415.5L1239.01 415.5L1239.88 416.5L1240.75 416.5L1241.61 417.5L1242.48 417.5L1243.35 418.5L1244.22 418.5L1245.08 419.5L1245.95 420.5L1246.82 421.5L1247.68 422.5L1248.55 423.5L1249.42 424.5L1250.28 424.5L1251.15 425.5L1252.02 425.5L1252.89 426.5L1253.75 427.5L1254.62 428.5L1255.49 428.5L1256.35 428.5L1257.22 428.5L1258.09 428.5L1258.95 429.5L1259.82 428.5L1260.69 429.5L1261.56 429.5L1262.42 429.5L1263.29 429.5L1264.16 429.5L1265.02 429.5L1265.89 429.5L1266.76 429.5L1267.62 429.5L1268.49 430.5L1269.36 430.5L1270.23 429.5L1271.09 429.5L1271.96 429.5L1272.83 428.5L1273.69 428.5L1274.56 428.5L1275.43 427.5L1276.29 427.5L1277.16 427.5L1278.03 427.5L1278.9 427.5L1279.76 428.5L1280.63 428.5L1281.5 428.5L1282.36 429.5L1283.23 430.5L1284.1 431.5L1284.96 431.5L1285.83 432.5L1286.7 433.5L1287.57 434.5L1288.43 435.5L1289.3 435.5L1290.17 437.5L1291.03 437.5L1291.9 437.5L1292.77 438.5L1293.63 438.5L1294.5 439.5L1295.37 439.5L1296.24 439.5L1297.1 440.5L1297.97 441.5L1298.84 441.5L1299.7 442.5L1300.57 442.5L1301.44 443.5L1302.3 444.5L1303.17 444.5L1304.04 445.5L1304.91 445.5L1305.77 445.5L1306.64 446.5L1307.51 446.5L1308.37 446.5L1309.24 447.5L1310.11 448.5L1310.97 448.5L1311.84 448.5L1312.71 449.5L1313.58 450.5L1314.44 450.5L1315.31 451.5L1316.18 451.5L1317.04 452.5L1317.91 452.5L1318.78 453.5L1319.64 454.5L1320.51 455.5L1321.38 456.5L1322.25 457.5L1323.11 458.5" stroke="#0000ff" stroke-width="0.7" fill="none"/><path d="M75.5 352.5h0m0.9 1h0m0.8 0h0m0.9 -1h0m0.9 1h0m0.8 0h0m0.9 0h0m0.9 0h0m0.8 0h0m0.9 1h0m0.9 0h0m0.8 1h0m0.9 0h0m0.9 0h0m0.8 1h0m0.9 0h0m0.9 1h0m0.8 1h0m0.9 1h0m0.9 0h0m0.8 1h0m0.9 1h0m0.9 1h0m0.8 0h0m0.9 1h0m0.9 2h0m0.8 0h0m0.9 1h0m0.9 1h0m0.8 2h0m0.9 0h0m0.9 1h0m0.8 2h0m0.9 2h0m0.9 1h0m0.8 1h0m0.9 2h0m0.9 1h0m0.8 1h0m0.9 1h0m0.9 0h0m0.8 1h0m0.9 1h0m0.9 0h0m0.8 1h0m0.9 1h0m0.9 1h0m0.8 1h0m0.9 2h0m0.9 1h0m0.9 1h0m0.8 1h0m0.9 1h0m0.9 0h0m0.8 1h0m0.9 0h0m0.9 1h0m0.8 0h0m0.9 0h0m0.9 1h0m0.8 1h0m0.9 0h0m0.9 2h0m0.8 0h0m0.9 1h0m0.9 1h0m0.8 1h0m0.9 1h0m0.9 1h0m0.8 0h0m0.9 1h0m0.9 2h0m0.8 1h0m0.9 2h0m0.9 3h0m0.8 2h0m0.9 1h0m0.9 2h0m0.8 1h0m0.9 2h0m0.9 2h0m0.8 1h0m0.9 2h0m0.9 1h0m0.8 2h0m0.9 1h0m0.9 1h0m0.8 1h0m0.9 1h0m0.9 1h0m0.8 1h0m0.9 2h0m0.9 1h0m0.8 1h0m0.9 1h0m0.9 2h0m0.8 1h0m0.9 1h0m0.9 2h0m0.8 1h0m0.9 1h0m0.9 -1h0m0.8 1h0m0.9 0h0m0.9 0h0m0.8 0h0m0.9 0h0m0.9 0h0m0.8 0h0m0.9 0h0m0.9 0h0m0.8 0h0m0.9 0h0m0.9 0h0m0.8 0h0m0.9 1h0m0.9 0h0m0.8 1h0m0.9 0h0m0.9 -1h0m0.8 -1h0m0.9 -1h0m0.9 -1h0m0.8 0h0m0.9 0h0m0.9 1h0m0.8 0h0m0.9 1h0m0.9 0h0m0.8 0h0m0.9 1h0m0.9 0h0m0.8 0h0m0.9 0h0m0.9 0h0m0.8 1h0m0.9 0h0m0.9 0h0m0.8 0h0m0.9 0h0m0.9 1h0m0.8 1h0m0.9 0h0m0.9 1h0m0.8 1h0m0.9 0h0m0.9 2h0m0.8 0h0m0.9 1h0m0.9 1h0m0.8 1h0m0.9 0h0m0.9 1h0m0.9 0h0m0.8 0h0m0.9 0h0m0.9 1h0m0.8 0h0m0.9 0h0m0.9 0h0m0.8 -1h0m0.9 0h0m0.9 0h0m0.8 -1h0m0.9 0h0m0.9 0h0m0.8 -1h0m0.9 0h0m0.9 0h0m0.8 1h0m0.9 -1h0m0.9 1h0m0.8 0h0m0.9 0h0m0.9 1h0m0.8 0h0m0.9 0h0m0.9 1h0m0.8 0h0m0.9 0h0m0.9 1h0m0.8 1h0m0.9 1h0m0.9 0h0m0.8 1h0m0.9 1h0m0.9 1h0m0.8 0h0m0.9 1h0m0.9 1h0m0.8 0h0m0.9 0h0m0.9 0h0m0.8 0h0m0.9 0h0m0.9 0h0m0.8 0h0m0.9 0h0m0.9 0h0m0.8 0h0m0.9 0h0m0.9 0h0m0.8 0h0m0.9 0h0m0.9 -1h0m0.8 0h0m0.9 -1h0m0.9 -1h0m0.8 0h0m0.9 0h0m0.9 -1h0m0.8 -1h0m0.9 0h0m0.9 0h0m0.8 0h0m0.9 -1h0m0.9 0h0m0.8 0h0m0.9 -1h0m0.9 0h0m0.8 -1h0m0.9 0h0m0.9 0h0m0.8 -1h0m0.9 -1h0m0.9 0h0m0.8 -1h0m0.9 -1h0m0.9 0h0m0.8 0h0m0.9 -1h0m0.9 -1h0m0.8 0h0m0.9 0h0m0.9 0h0m0.8 0h0m0.9 0h0m0.9 0h0m0.8 0h0m0.9 -1h0m0.9 0h0m0.8 0h0m0.9 0h0m0.9 -1h0m0.8 0h0m0.9 0h0m0.9 -1h0m0.8 0h0m0.9 -1h0m0.9 0h0m0.8 -1h0m0.9 -1h0m0.9 0h0m0.9 0h0m0.8 -1h0m0.9 0h0m0.9 0h0m0.8 0h0m0.9 0h0m0.9 -1h0m0.8 0h0m0.9 0h0m0.9 0h0m0.8 0h0m0.9 -1h0m0.9 0h0m0.8 0h0m0.9 0h0m0.9 0h0m0.8 0h0m0.9 0h0m0.9 0h0m0.8 0h0m0.9 1h0m0.9 0h0m0.8 0h0m0.9 1h0m0.9 0h0m0.8 0h0m0.9 0h0m0.9 1h0m0.8 0h0m0.9 0h0m0.9 0h0m0.8 0h0m0.9 0h0m0.9 0h0m0.8 0h0m0.9 0h0m0.9 0h0m0.8 0h0m0.9 0h0m0.9 0h0m0.8 0h0m0.9 0h0m0.9 0h0m0.8 0h0m0.9 -1h0m0.9 1h0m0.8 0h0m0.9 -1h0m0.9 0h0m0.8 0h0m0.9 0h0m0.9 0h0m0.8 0h0m0.9 0h0m0.9 0h0m0.8 0h0m0.9 0h0m0.9 1h0m0.8 0h0m0.9 0h0m0.9 0h0m0.8 1h0m0.9 -1h0m0.9 1h0m0.8 0h0m0.9 -1h0m0.9 0h0m0.8 0h0m0.9 0h0m0.9 0h0m0.8 0h0m0.9 0h0m0.9 0h0m0.8 -1h0m0.9 1h0m0.9 0h0m0.8 1h0m0.9 0h0m0.9 1h0m0.8 0h0m0.9 1h0m0.9 0h0m0.8 0h0m0.9 1h0m0.9 -1h0m0.8 1h0m0.9 1h0m0.9 0h0m0.8 -1h0m0.9 0h0m0.9 0h0m0.8 0h0m0.9 -1h0m0.9 0h0m0.8 0h0m0.9 0h0m0.9 0h0m0.9 0h0m0.8 0h0m0.9 0h0m0.9 0h0m0.8 0h0m0.9 0h0m0.9 0h0m0.8 0h0m0.9 0h0m0.9 0h0m0.8 0h0m0.9 0h0m0.9 0h0m0.8 -1h0m0.9 0h0m0.9 0h0m0.8 0h0m0.9 0h0m0.9 -1h0m0.8 0h0m0.9 0h0m0.9 0h0m0.8 -1h0m0.9 -1h0m0.9 0h0m0.8 -1h0m0.9 0h0m0.9 -1h0m0.8 -1h0m0.9 0h0m0.9 0h0m0.8 -1h0m0.9 0h0m0.9 0h0m0.8 -1h0m0.9 0h0m0.9 -1h0m0.8 0h0m0.9 -1h0m0.9 0h0m0.8 0h0m0.9 1h0m0.9 -1h0m0.8 0h0m0.9 0h0m0.9 0h0m0.8 0h0m0.9 0h0m0.9 0h0m0.8 0h0m0.9 0h0m0.9 0h0m0.8 -1h0m0.9 0h0m0.9 0h0m0.8 -1h0m0.9 -1h0m0.9 0h0m0.8 -1h0m0.9 0h0m0.9 0h0m0.8 -1h0m0.9 0h0m0.9 -1h0m0.8 0h0m0.9 0h0m0.9 0h0m0.8 -1h0m0.9 0h0m0.9 0h0m0.8 0h0m0.9 0h0m0.9 -1h0m0.8 0h0m0.9 0h0m0.9 0h0m0.8 0h0m0.9 -1h0m0.9 0h0m0.8 0h0m0.9 0h0m0.9 0h0m0.8 -1h0m0.9 0h0m0.9 0h0m0.8 0h0m0.9 -1h0m0.9 0h0m0.8 0h0m0.9 -1h0m0.9 0h0m0.8 0h0m0.9 -1h0m0.9 -1h0m0.8 0h0m0.9 -1h0m0.9 0h0m0.8 0h0m0.9 -1h0m0.9 -1h0m0.9 0h0m0.8 -1h0m0.9 0h0m0.9 -1h0m0.8 -1h0m0.9 -1h0m0.9 0h0m0.8 -1h0m0.9 -1h0m0.9 0h0m0.8 -1h0m0.9 0h0m0.9 -1h0m0.8 -1h0m0.9 -1h0m0.9 0h0m0.8 -1h0m0.9 0h0m0.9 -1h0m0.8 -1h0m0.9 0h0m0.9 -1h0m0.8 -1h0m0.9 0h0m0.9 -1h0m0.8 -1h0m0.9 -1h0m0.9 0h0m0.8 -1h0m0.9 0h0m0.9 -1h0m0.8 -1h0m0.9 0h0m0.9 -1h0m0.8 -1h0m0.9 0h0m0.9 -1h0m0.8 0h0m0.9 -1h0m0.9 0h0m0.8 0h0m0.9 -1h0m0.9 0h0m0.8 -1h0m0.9 0h0m0.9 0h0m0.8 -1h0m0.9 0h0m0.9 0h0m0.8 -1h0m0.9 0h0m0.9 0h0m0.8 -1h0m0.9 0h0m0.9 -1h0m0.8 0h0m0.9 0h0m0.9 0h0m0.8 -1h0m0.9 0h0m0.9 -1h0m0.8 0h0m0.9 0h0m0.9 0h0m0.8 0h0m0.9 -1h0m0.9 0h0m0.8 -1h0m0.9 0h0m0.9 1h0m0.8 -1h0m0.9 0h0m0.9 0h0m0.8 -1h0m0.9 1h0m0.9 -1h0m0.8 0h0m0.9 -1h0m0.9 0h0m0.8 0h0m0.9 -1h0m0.9 0h0m0.8 0h0m0.9 0h0m0.9 -1h0m0.8 0h0m0.9 0h0m0.9 0h0m0.8 -1h0m0.9 0h0m0.9 0h0m0.8 -1h0m0.9 0h0m0.9 0h0m0.8 0h0m0.9 -1h0m0.9 0h0m0.8 0h0m0.9 0h0m0.9 -1h0m0.9 0h0m0.8 0h0m0.9 0h0m0.9 -1h0m0.8 0h0m0.9 -1h0m0.9 0h0m0.8 -1h0m0.9 0h0m0.9 0h0m0.8 -1h0m0.9 0h0m0.9 -1h0m0.8 0h0m0.9 0h0m0.9 -1h0m0.8 0h0m0.9 0h0m0.9 -1h0m0.8 0h0m0.9 0h0m0.9 -1h0m0.8 0h0m0.9 0h0m0.9 0h0m0.8 0h0m0.9 -1h0m0.9 0h0m0.8 0h0m0.9 0h0m0.9 0h0m0.8 -1h0m0.9 0h0m0.9 0h0m0.8 0h0m0.9 -1h0m0.9 1h0m0.8 -1h0m0.9 0h0m0.9 0h0m0.8 -1h0m0.9 1h0m0.9 -1h0m0.8 0h0m0.9 0h0m0.9 0h0m0.8 0h0m0.9 0h0m0.9 0h0m0.8 0h0m0.9 0h0m0.9 0h0m0.8 0h0m0.9 0h0m0.9 0h0m0.8 0h0m0.9 0h0m0.9 0h0m0.8 0h0m0.9 0h0m0.9 0h0m0.8 0h0m0.9 0h0m0.9 0h0m0.8 1h0m0.9 -1h0m0.9 0h0m0.8 1h0m0.9 0h0m0.9 0h0m0.8 0h0m0.9 1h0m0.9 0h0m0.8 1h0m0.9 0h0m0.9 0h0m0.8 0h0m0.9 0h0m0.9 1h0m0.8 0h0m0.9 1h0m0.9 0h0m0.8 0h0m0.9 0h0m0.9 1h0m0.8 0h0m0.9 0h0m0.9 1h0m0.8 0h0m0.9 0h0m0.9 1h0m0.8 0h0m0.9 0h0m0.9 0h0m0.8 0h0m0.9 1h0m0.9 0h0m0.8 0h0m0.9 0h0m0.9 1h0m0.8 0h0m0.9 0h0m0.9 1h0m0.9 0h0m0.8 0h0m0.9 0h0m0.9 0h0m0.8 1h0m0.9 0h0m0.9 0h0m0.8 1h0m0.9 -1h0m0.9 1h0m0.8 0h0m0.9 0h0m0.9 0h0m0.8 0h0m0.9 0h0m0.9 0h0m0.8 0h0m0.9 1h0m0.9 -1h0m0.8 1h0m0.9 -1h0m0.9 0h0m0.8 -1h0m0.9 0h0m0.9 -1h0m0.8 0h0m0.9 -1h0m0.9 0h0m0.8 -2h0m0.9 -1h0m0.9 -1h0m0.8 -1h0m0.9 -1h0m0.9 -1h0m0.8 -1h0m0.9 0h0m0.9 -1h0m0.8 0h0m0.9 -1h0m0.9 -1h0m0.8 0h0m0.9 0h0m0.9 0h0m0.8 0h0m0.9 -1h0m0.9 1h0m0.8 -1h0m0.9 0h0m0.9 0h0m0.8 0h0m0.9 0h0m0.9 0h0m0.8 1h0m0.9 0h0m0.9 0h0m0.8 1h0m0.9 0h0m0.9 0h0m0.8 0h0m0.9 1h0m0.9 0h0m0.8 0h0m0.9 1h0m0.9 0h0m0.8 0h0m0.9 0h0m0.9 0h0m0.8 1h0m0.9 0h0m0.9 0h0m0.8 1h0m0.9 0h0m0.9 1h0m0.8 0h0m0.9 0h0m0.9 0h0m0.8 0h0m0.9 1h0m0.9 0h0m0.8 0h0m0.9 0h0m0.9 1h0m0.8 0h0m0.9 1h0m0.9 0h0m0.8 1h0m0.9 1h0m0.9 0h0m0.8 1h0m0.9 1h0m0.9 1h0m0.8 1h0m0.9 2h0m0.9 1h0m0.8 1h0m0.9 1h0m0.9 1h0m0.8 1h0m0.9 -1h0m0.9 -1h0m0.9 -1h0m0.8 -1h0m0.9 -1h0m0.9 -1h0m0.8 -2h0m0.9 -1h0m0.9 -2h0m0.8 -1h0m0.9 -1h0m0.9 -2h0m0.8 -1h0m0.9 -1h0m0.9 -2h0m0.8 -1h0m0.9 -1h0m0.9 -1h0m0.8 -1h0m0.9 -1h0m0.9 -1h0m0.8 -1h0m0.9 -1h0m0.9 -1h0m0.8 -1h0m0.9 -1h0m0.9 0h0m0.8 -1h0m0.9 -1h0m0.9 -1h0m0.8 0h0m0.9 -1h0m0.9 -1h0m0.8 0h0m0.9 -1h0m0.9 0h0m0.8 -1h0m0.9 0h0m0.9 -1h0m0.8 -1h0m0.9 0h0m0.9 -1h0m0.8 0h0m0.9 0h0m0.9 -1h0m0.8 -1h0m0.9 0h0m0.9 0h0m0.8 -1h0m0.9 0h0m0.9 -1h0m0.8 0h0m0.9 -1h0m0.9 0h0m0.8 0h0m0.9 0h0m0.9 0h0m0.8 0h0m0.9 0h0m0.9 0h0m0.8 0h0m0.9 0h0m0.9 0h0m0.8 0h0m0.9 0h0m0.9 0h0m0.8 0h0m0.9 0h0m0.9 0h0m0.8 0h0m0.9 0h0m0.9 0h0m0.8 0h0m0.9 0h0m0.9 0h0m0.8 0h0m0.9 0h0m0.9 0h0m0.8 0h0m0.9 0h0m0.9 0h0m0.8 0h0m0.9 0h0m0.9 0h0m0.8 0h0m0.9 0h0m0.9 0h0m0.8 0h0m0.9 0h0m0.9 0h0m0.8 0h0m0.9 0h0m0.9 0h0m0.8 0h0m0.9 0h0m0.9 0h0m0.8 0h0m0.9 0h0m0.9 0h0m0.8 0h0m0.9 0h0m0.9 0h0m0.9 0h0m0.8 0h0m0.9 0h0m0.9 0h0m0.8 0h0m0.9 0h0m0.9 0h0m0.8 0h0m0.9 0h0m0.9 0h0m0.8 0h0m0.9 0h0m0.9 0h0m0.8 0h0m0.9 0h0m0.9 1h0m0.8 0h0m0.9 0h0m0.9 1h0m0.8 0h0m0.9 0h0m0.9 1h0m0.8 0h0m0.9 1h0m0.9 1h0m0.8 1h0m0.9 0h0m0.9 1h0m0.8 1h0m0.9 0h0m0.9 0h0m0.8 1h0m0.9 0h0m0.9 0h0m0.8 1h0m0.9 1h0m0.9 0h0m0.8 0h0m0.9 1h0m0.9 0h0m0.8 1h0m0.9 0h0m0.9 0h0m0.8 1h0m0.9 0h0m0.9 0h0m0.8 1h0m0.9 0h0m0.9 3h0m0.8 3h0m0.9 4h0m0.9 3h0m0.8 2h0m0.9 2h0m0.9 -3h0m0.8 -2h0m0.9 -4h0m0.9 -1h0m0.8 0h0m0.9 -1h0m0.9 0h0m0.8 0h0m0.9 1h0m0.9 0h0m0.8 0h0m0.9 1h0m0.9 0h0m0.8 0h0m0.9 0h0m0.9 1h0m0.8 0h0m0.9 1h0m0.9 0h0m0.8 0h0m0.9 0h0m0.9 1h0m0.8 0h0m0.9 0h0m0.9 1h0m0.8 0h0m0.9 1h0m0.9 0h0m0.8 1h0m0.9 0h0m0.9 1h0m0.8 0h0m0.9 0h0m0.9 1h0m0.8 0h0m0.9 0h0m0.9 1h0m0.8 0h0m0.9 0h0m0.9 0h0m0.8 0h0m0.9 1h0m0.9 0h0m0.8 0h0m0.9 0h0m0.9 1h0m0.9 0h0m0.8 0h0m0.9 0h0m0.9 1h0m0.8 0h0m0.9 1h0m0.9 0h0m0.8 0h0m0.9 1h0m0.9 0h0m0.8 1h0m0.9 0h0m0.9 1h0m0.8 0h0m0.9 1h0m0.9 0h0m0.8 0h0m0.9 1h0m0.9 0h0m0.8 0h0m0.9 1h0m0.9 0h0m0.8 0h0m0.9 0h0m0.9 0h0m0.8 0h0m0.9 0h0m0.9 1h0m0.8 0h0m0.9 0h0m0.9 0h0m0.8 0h0m0.9 0h0m0.9 0h0m0.8 0h0m0.9 1h0m0.9 0h0m0.8 0h0m0.9 0h0m0.9 0h0m0.8 0h0m0.9 1h0m0.9 0h0m0.8 0h0m0.9 1h0m0.9 0h0m0.8 0h0m0.9 0h0m0.9 1h0m0.8 0h0m0.9 1h0m0.9 0h0m0.8 1h0m0.9 0h0m0.9 1h0m0.8 1h0m0.9 0h0m0.9 1h0m0.8 1h0m0.9 0h0m0.9 1h0m0.8 0h0m0.9 1h0m0.9 1h0m0.8 1h0m0.9 0h0m0.9 1h0m0.8 1h0m0.9 1h0m0.9 0h0m0.8 1h0m0.9 -1h0m0.9 0h0m0.8 0h0m0.9 0h0m0.9 0h0m0.8 0h0m0.9 0h0m0.9 0h0m0.8 0h0m0.9 0h0m0.9 0h0m0.8 0h0m0.9 0h0m0.9 1h0m0.8 0h0m0.9 0h0m0.9 0h0m0.8 0h0m0.9 1h0m0.9 0h0m0.8 0h0m0.9 1h0m0.9 0h0m0.8 0h0m0.9 0h0m0.9 0h0m0.8 -1h0m0.9 0h0m0.9 0h0m0.9 0h0m0.8 0h0m0.9 0h0m0.9 0h0m0.8 0h0m0.9 0h0m0.9 0h0m0.8 -1h0m0.9 1h0m0.9 0h0m0.8 0h0m0.9 0h0m0.9 0h0m0.8 1h0m0.9 0h0m0.9 1h0m0.8 1h0m0.9 0h0m0.9 1h0m0.8 0h0m0.9 1h0m0.9 -1h0m0.8 1h0m0.9 0h0m0.9 0h0m0.8 0h0m0.9 0h0m0.9 0h0m0.8 0h0m0.9 1h0m0.9 0h0m0.8 0h0m0.9 1h0m0.9 0h0m0.8 0h0m0.9 1h0m0.9 0h0m0.8 0h0m0.9 0h0m0.9 1h0m0.8 0h0m0.9 0h0m0.9 1h0m0.8 0h0m0.9 0h0m0.9 0h0m0.8 0h0m0.9 1h0m0.9 0h0m0.8 0h0m0.9 -1h0m0.9 1h0m0.8 -1h0m0.9 0h0m0.9 0h0m0.8 0h0m0.9 1h0m0.9 -1h0m0.8 1h0m0.9 0h0m0.9 0h0m0.8 1h0m0.9 0h0m0.9 0h0m0.8 0h0m0.9 1h0m0.9 0h0m0.8 0h0m0.9 0h0m0.9 -1h0m0.8 1h0m0.9 -1h0m0.9 0h0m0.8 0h0m0.9 0h0m0.9 0h0m0.8 -1h0m0.9 0h0m0.9 0h0m0.8 0h0m0.9 0h0m0.9 1h0m0.8 0h0m0.9 0h0m0.9 1h0m0.8 0h0m0.9 0h0m0.9 1h0m0.8 0h0m0.9 0h0m0.9 0h0m0.8 0h0m0.9 0h0m0.9 0h0m0.8 1h0m0.9 0h0m0.9 0h0m0.8 0h0m0.9 0h0m0.9 0h0m0.9 0h0m0.8 0h0m0.9 0h0m0.9 0h0m0.8 0h0m0.9 -1h0m0.9 0h0m0.8 0h0m0.9 0h0m0.9 0h0m0.8 0h0m0.9 0h0m0.9 0h0m0.8 -1h0m0.9 0h0m0.9 1h0m0.8 -1h0m0.9 0h0m0.9 0h0m0.8 0h0m0.9 0h0m0.9 0h0m0.8 0h0m0.9 1h0m0.9 0h0m0.8 0h0m0.9 0h0m0.9 1h0m0.8 0h0m0.9 0h0m0.9 0h0m0.8 0h0m0.9 0h0m0.9 0h0m0.8 -1h0m0.9 0h0m0.9 0h0m0.8 0h0m0.9 0h0m0.9 0h0m0.8 0h0m0.9 -1h0m0.9 0h0m0.8 0h0m0.9 -1h0m0.9 0h0m0.8 -1h0m0.9 0h0m0.9 0h0m0.8 0h0m0.9 -1h0m0.9 0h0m0.8 -1h0m0.9 1h0m0.9 -1h0m0.8 0h0m0.9 0h0m0.9 -1h0m0.8 0h0m0.9 0h0m0.9 0h0m0.8 0h0m0.9 0h0m0.9 0h0m0.8 0h0m0.9 0h0m0.9 0h0m0.8 0h0m0.9 0h0m0.9 0h0m0.8 0h0m0.9 0h0m0.9 0h0m0.8 0h0m0.9 0h0m0.9 -1h0m0.8 0h0m0.9 0h0m0.9 0h0m0.8 0h0m0.9 0h0m0.9 0h0m0.8 0h0m0.9 -1h0m0.9 1h0m0.8 -1h0m0.9 0h0m0.9 0h0m0.8 1h0m0.9 0h0m0.9 0h0m0.8 -1h0m0.9 1h0m0.9 0h0m0.8 0h0m0.9 0h0m0.9 0h0m0.8 0h0m0.9 0h0m0.9 0h0m0.9 0h0m0.8 0h0m0.9 0h0m0.9 0h0m0.8 0h0m0.9 1h0m0.9 -1h0m0.8 0h0m0.9 1h0m0.9 -1h0m0.8 1h0m0.9 0h0m0.9 0h0m0.8 0h0m0.9 0h0m0.9 0h0m0.8 0h0m0.9 0h0m0.9 0h0m0.8 0h0m0.9 1h0m0.9 0h0m0.8 0h0m0.9 0h0m0.9 0h0m0.8 -1h0m0.9 0h0m0.9 0h0m0.8 1h0m0.9 -1h0m0.9 0h0m0.8 0h0m0.9 0h0m0.9 0h0m0.8 0h0m0.9 0h0m0.9 0h0m0.8 0h0m0.9 0h0m0.9 1h0m0.8 0h0m0.9 0h0m0.9 0h0m0.8 0h0m0.9 0h0m0.9 0h0m0.8 -1h0m0.9 -1h0m0.9 0h0m0.8 -1h0m0.9 -1h0m0.9 0h0m0.8 -1h0m0.9 0h0m0.9 -1h0m0.8 0h0m0.9 -1h0m0.9 -1h0m0.8 0h0m0.9 0h0m0.9 0h0m0.8 0h0m0.9 0h0m0.9 -1h0m0.8 0h0m0.9 0h0m0.9 0h0m0.8 0h0m0.9 1h0m0.9 0h0m0.8 0h0m0.9 0h0m0.9 0h0m0.8 0h0m0.9 1h0m0.9 0h0m0.8 0h0m0.9 1h0m0.9 0h0m0.8 0h0m0.9 1h0m0.9 0h0m0.8 0h0m0.9 1h0m0.9 0h0m0.8 1h0m0.9 1h0m0.9 0h0m0.8 1h0m0.9 0h0m0.9 1h0m0.8 0h0m0.9 1h0m0.9 0h0m0.8 1h0m0.9 0h0m0.9 1h0m0.8 1h0m0.9 1h0m0.9 1h0m0.9 1h0m0.8 1h0m0.9 0h0m0.9 1h0m0.8 0h0m0.9 1h0m0.9 1h0m0.8 1h0m0.9 0h0m0.9 0h0m0.8 0h0m0.9 0h0m0.9 1h0m0.8 -1h0m0.9 1h0m0.9 0h0m0.8 0h0m0.9 0h0m0.9 0h0m0.8 0h0m0.9 0h0m0.9 0h0m0.8 0h0m0.9 1h0m0.9 0h0m0.8 -1h0m0.9 0h0m0.9 0h0m0.8 -1h0m0.9 0h0m0.9 0h0m0.8 -1h0m0.9 0h0m0.9 0h0m0.8 0h0m0.9 0h0m0.9 1h0m0.8 0h0m0.9 0h0m0.9 1h0m0.8 1h0m0.9 1h0m0.9 0h0m0.8 1h0m0.9 1h0m0.9 1h0m0.8 1h0m0.9 0h0m0.9 2h0m0.8 0h0m0.9 0h0m0.9 1h0m0.8 0h0m0.9 1h0m0.9 0h0m0.8 0h0m0.9 1h0m0.9 1h0m0.8 0h0m0.9 1h0m0.9 0h0m0.8 1h0m0.9 1h0m0.9 0h0m0.8 1h0m0.9 0h0m0.9 0h0m0.8 1h0m0.9 0h0m0.9 0h0m0.8 1h0m0.9 1h0m0.9 0h0m0.8 0h0m0.9 1h0m0.9 1h0m0.8 0h0m0.9 1h0m0.9 0h0m0.8 1h0m0.9 0h0m0.9 1h0m0.8 1h0m0.9 1h0m0.9 1h0m0.8 1h0m0.9 1h0" stroke="#0000ff" stroke-width="3.2" stroke-linecap="round" fill="none"/></g><g clip-path="url(#c3)"><path d="M75.5 605.61L76.37 605.65L77.23 605.92L78.1 607.56L78.97 607.66L79.84 607.51L80.7 608.09L81.57 608.27L82.44 608.3L83.3 608.17L84.17 608.35L85.04 608.73L85.9 608.99L86.77 608.91L87.64 608.2L88.51 608.31L89.37 608.44L90.24 607.44L91.11 607.82L91.97 608.1L92.84 607.58L93.71 607.07L94.57 606.87L95.44 606.26L96.31 606.76L97.18 605.63L98.04 604.51L98.91 604.46L99.78 604.98L100.64 604.65L101.51 604.03L102.38 603.34L103.24 603.79L104.11 603.18L104.98 603.06L105.85 603.23L106.71 602.56L107.58 602.98L108.45 602.14L109.31 602.1L110.18 602.28L111.05 603.31L111.91 603.44L112.78 603.12L113.65 602.19L114.52 602.68L115.38 603.26L116.25 603.25L117.12 601.87L117.98 602.85L118.85 602.5L119.72 603.42L120.58 603.41L121.45 602.72L122.32 604.25L123.19 602.81L124.05 604.37L124.92 602.82L125.79 602.83L126.65 603.95L127.52 602.51L128.39 602.76L129.25 604.12L130.12 603.47L130.99 604L131.86 603.23L132.72 605.23L133.59 604.98L134.46 604.85L135.32 605.02L136.19 604.27L137.06 604.25L137.92 603.55L138.79 604.65L139.66 605.11L140.53 604.84L141.39 604.84L142.26 604.67L143.13 603.67L143.99 603.38L144.86 604.32L145.73 603.87L146.59 604.17L147.46 603.27L148.33 602.73L149.2 603.34L150.06 602.57L150.93 602.11L151.8 603.11L152.66 603.41L153.53 603.68L154.4 604.47L155.26 605.76L156.13 606.99L157 607.09L157.86 606.16L158.73 607.29L159.6 606.82L160.47 607.31L161.33 606.93L162.2 607.5L163.07 606.82L163.93 609.06L164.8 607.89L165.67 609L166.53 608.68L167.4 609.51L168.27 609.04L169.14 609.83L170 610.86L170.87 610.25L171.74 608.38L172.6 609.56L173.47 607.9L174.34 608.39L175.2 608.11L176.07 607L176.94 606.79L177.81 606.39L178.67 607.34L179.54 608.38L180.41 609.37L181.27 609.51L182.14 611.2L183.01 609.72L183.87 611.16L184.74 609.84L185.61 610.29L186.48 609.63L187.34 609.62L188.21 608.87L189.08 609.5L189.94 610.67L190.81 609.96L191.68 610.25L192.54 610.66L193.41 611.46L194.28 611.32L195.15 611.82L196.01 612.34L196.88 613.36L197.75 613.54L198.61 612.73L199.48 613.08L200.35 613.53L201.21 614.1L202.08 614.26L202.95 613.67L203.82 615.12L204.68 613.87L205.55 614.87L206.42 614.95L207.28 615.15L208.15 614.45L209.02 614.79L209.88 613.72L210.75 613.67L211.62 614.51L212.49 615.52L213.35 616.28L214.22 616.16L215.09 617.39L215.95 617.69L216.82 618.79L217.69 616.98L218.55 617.45L219.42 617.35L220.29 617.33L221.16 618.88L222.02 617.39L222.89 617.43L223.76 617.69L224.62 618.43L225.49 617.66L226.36 618.34L227.22 618.24L228.09 617.54L228.96 616.58L229.83 617.37L230.69 617.26L231.56 619.23L232.43 618.17L233.29 618.25L234.16 619.4L235.03 619.51L235.89 619.26L236.76 620.73L237.63 620.92L238.5 620.86L239.36 620.58L240.23 620.74L241.1 620.33L241.96 621.95L242.83 622.18L243.7 621.64L244.56 622.44L245.43 624.57L246.3 622.24L247.17 621.88L248.03 623.15L248.9 622.46L249.77 622.35L250.63 622.9L251.5 622.38L252.37 622.95L253.23 622.58L254.1 623.11L254.97 622.72L255.84 621.59L256.7 623.86L257.57 622.3L258.44 624.09L259.3 623.81L260.17 623.05L261.04 624.05L261.9 624.69L262.77 623.76L263.64 624.56L264.51 624.27L265.37 624.31L266.24 624.69L267.11 625.96L267.97 625.8L268.84 625.56L269.71 625.7L270.57 626L271.44 626.26L272.31 626.38L273.18 625.43L274.04 627.14L274.91 626.28L275.78 625.48L276.64 627.55L277.51 626.62L278.38 627.4L279.24 627.61L280.11 627.48L280.98 628.3L281.85 627.88L282.71 627.94L283.58 627.58L284.45 628.04L285.31 627.63L286.18 628.33L287.05 629.13L287.91 628.98L288.78 628.7L289.65 627.73L290.52 629.16L291.38 629.15L292.25 629.87L293.12 627.43L293.98 628.77L294.85 628.63L295.72 629.51L296.58 628.31L297.45 628.75L298.32 630.35L299.19 629.66L300.05 628L300.92 629.19L301.79 630.02L302.65 628.92L303.52 629.68L304.39 629.46L305.25 628.64L306.12 629.17L306.99 630.26L307.86 630.38L308.72 629.41L309.59 630.48L310.46 629.49L311.32 630.1L312.19 630.02L313.06 629.36L313.93 630.35L314.79 630L315.66 628.68L316.53 629.72L317.39 629.7L318.26 629.65L319.13 629.55L319.99 629.67L320.86 628.64L321.73 630.53L322.6 630.01L323.46 630.08L324.33 629.75L325.2 629.9L326.06 629.68L326.93 629.16L327.8 628.94L328.66 629.85L329.53 630.39L330.4 629.94L331.27 630.73L332.13 629L333 629.66L333.87 629.59L334.73 630.99L335.6 631.6L336.47 630.63L337.33 631.69L338.2 631.44L339.07 631.31L339.94 632.17L340.8 631.94L341.67 633.77L342.54 633.55L343.4 634.12L344.27 633.86L345.14 632.48L346 634.56L346.87 634.35L347.74 632.93L348.61 634.33L349.47 634.79L350.34 635.1L351.21 633.44L352.07 634.43L352.94 634.1L353.81 633.74L354.67 633.59L355.54 633.99L356.41 633.95L357.28 633.92L358.14 633.23L359.01 632.64L359.88 634.1L360.74 634L361.61 632.78L362.48 632.94L363.34 633.28L364.21 631.64L365.08 632.78L365.95 633.72L366.81 632.34L367.68 631.62L368.55 633.07L369.41 631.72L370.28 631.68L371.15 631.16L372.01 631.35L372.88 630.01L373.75 630.04L374.62 629.71L375.48 630.85L376.35 630.03L377.22 630.52L378.08 628.44L378.95 629.01L379.82 629.97L380.68 628.42L381.55 627.59L382.42 628.11L383.29 628.24L384.15 628.32L385.02 628.97L385.89 628.9L386.75 628.9L387.62 628.52L388.49 628.17L389.35 628.44L390.22 628.16L391.09 630.04L391.96 630.28L392.82 629.84L393.69 629.08L394.56 629.8L395.42 629.49L396.29 629.1L397.16 628.15L398.02 628.77L398.89 628.11L399.76 628.68L400.63 628.39L401.49 628.12L402.36 627.42L403.23 628.31L404.09 627.42L404.96 627.29L405.83 626.59L406.69 626.07L407.56 625.47L408.43 624.18L409.3 623.33L410.16 623.54L411.03 624.44L411.9 624.63L412.76 624.19L413.63 624.14L414.5 625.14L415.36 623.85L416.23 623.06L417.1 623.18L417.97 623.9L418.83 624.5L419.7 624.51L420.57 623.96L421.43 624.55L422.3 624L423.17 623.56L424.03 623.7L424.9 624.31L425.77 624.38L426.64 623.12L427.5 623.13L428.37 623.74L429.24 624.86L430.1 622.89L430.97 622.77L431.84 623.7L432.7 623.7L433.57 622.97L434.44 623.22L435.31 623.43L436.17 622.03L437.04 622.96L437.91 623.24L438.77 623.33L439.64 623.4L440.51 622.59L441.37 621.69L442.24 623.38L443.11 623.36L443.98 622.85L444.84 624.13L445.71 624.42L446.58 623.95L447.44 622.25L448.31 622.89L449.18 622.3L450.04 621.81L450.91 621.82L451.78 620.8L452.65 621.23L453.51 621.68L454.38 619.45L455.25 620.31L456.11 619.33L456.98 620.17L457.85 620L458.71 621.04L459.58 620.09L460.45 621.15L461.32 620.49L462.18 621.29L463.05 621.36L463.92 622.23L464.78 620.89L465.65 620.94L466.52 622.47L467.38 621.83L468.25 622.52L469.12 620.87L469.99 621.53L470.85 621.7L471.72 622.3L472.59 621.18L473.45 620.89L474.32 621.43L475.19 620.74L476.05 620.14L476.92 620.8L477.79 619.03L478.66 619.35L479.52 620.51L480.39 619.21L481.26 619.09L482.12 619.28L482.99 619.51L483.86 619.07L484.72 618.13L485.59 618.3L486.46 619.17L487.33 618.42L488.19 618.05L489.06 618.85L489.93 618.95L490.79 619.46L491.66 617.51L492.53 617.66L493.39 617.59L494.26 618.14L495.13 617.51L496 618.26L496.86 615.86L497.73 617.82L498.6 616.72L499.46 616.76L500.33 617.08L501.2 616.69L502.06 615.81L502.93 617.09L503.8 616.36L504.67 615.35L505.53 615.36L506.4 614.21L507.27 613.74L508.13 613.9L509 613.89L509.87 613.35L510.73 612.44L511.6 611.71L512.47 611.13L513.34 612.78L514.2 611.9L515.07 611.05L515.94 612.03L516.8 611.48L517.67 610.75L518.54 610.47L519.4 611.31L520.27 610.66L521.14 611.26L522.01 610.33L522.87 609.61L523.74 609.43L524.61 609.11L525.47 609.3L526.34 608.94L527.21 608.77L528.07 608.31L528.94 607.08L529.81 607.19L530.68 606.4L531.54 606.86L532.41 605.45L533.28 605.5L534.14 605.23L535.01 605.29L535.88 605.43L536.74 606.39L537.61 605.29L538.48 604.53L539.35 605.12L540.21 605.66L541.08 605.47L541.95 605.22L542.81 606.15L543.68 605.58L544.55 604.91L545.41 605.5L546.28 603.94L547.15 604.53L548.02 603.81L548.88 604.09L549.75 604.59L550.62 603.04L551.48 603.92L552.35 602.09L553.22 603.18L554.08 601.04L554.95 601.22L555.82 601.97L556.69 601L557.55 600.82L558.42 600.4L559.29 600.19L560.15 599.65L561.02 598.86L561.89 598.94L562.75 598.85L563.62 597.94L564.49 598.4L565.36 598.82L566.22 596.58L567.09 596.97L567.96 596.86L568.82 596.77L569.69 596.56L570.56 595.82L571.42 595.96L572.29 595.72L573.16 595.41L574.03 596.09L574.89 595.02L575.76 593.83L576.63 593.51L577.49 594.6L578.36 593.94L579.23 593.66L580.09 593.11L580.96 593.6L581.83 593.6L582.7 593.14L583.56 593.21L584.43 593.8L585.3 593.63L586.16 593.36L587.03 592.83L587.9 592.02L588.76 593.13L589.63 593.41L590.5 593.16L591.37 592.96L592.23 592.32L593.1 592.25L593.97 591.89L594.83 592.49L595.7 591.48L596.57 592.74L597.43 591.83L598.3 590.94L599.17 590.86L600.04 589.67L600.9 589.91L601.77 589.91L602.64 591.25L603.5 589.09L604.37 589.83L605.24 589.08L606.1 588.61L606.97 588.9L607.84 587.16L608.71 588.65L609.57 589.02L610.44 587.84L611.31 587.42L612.17 587.33L613.04 587.41L613.91 586.52L614.77 586.66L615.64 586.66L616.51 586.07L617.37 586.41L618.24 586.29L619.11 586.42L619.98 585.35L620.84 585.53L621.71 585.5L622.58 586.35L623.44 585.72L624.31 584.54L625.18 584.66L626.04 586.43L626.91 585.43L627.78 584.4L628.65 584.53L629.51 585.05L630.38 585.71L631.25 585.73L632.11 584.5L632.98 584.45L633.85 585.65L634.71 583.88L635.58 585.27L636.45 584.47L637.32 584.24L638.18 584.84L639.05 584.23L639.92 583.25L640.78 582.63L641.65 583.31L642.52 583.38L643.38 583.65L644.25 581.13L645.12 583.2L645.99 582.58L646.85 582.87L647.72 582.25L648.59 581.85L649.45 581.94L650.32 581.87L651.19 581.23L652.05 581.49L652.92 581.59L653.79 581.21L654.66 580.57L655.52 580.55L656.39 581.63L657.26 581.6L658.12 581.32L658.99 580.54L659.86 581.66L660.72 580.9L661.59 579.89L662.46 582.13L663.33 580.49L664.19 582.79L665.06 581.93L665.93 581.5L666.79 580.51L667.66 581.61L668.53 583L669.39 583.06L670.26 582.55L671.13 581.37L672 581.96L672.86 581.85L673.73 582.11L674.6 581.59L675.46 581.69L676.33 580.38L677.2 580.77L678.06 581.8L678.93 579.95L679.8 581.16L680.67 581.82L681.53 580.7L682.4 579.36L683.27 580.74L684.13 578.79L685 579.91L685.87 579.33L686.73 580.13L687.6 579.95L688.47 579.22L689.34 579.95L690.2 579.22L691.07 578.12L691.94 577.57L692.8 579.32L693.67 577.39L694.54 577.61L695.4 577.05L696.27 576.58L697.14 575.68L698.01 576.26L698.87 576.02L699.74 576.55L700.61 575.6L701.47 574.89L702.34 575.1L703.21 575.61L704.07 575.69L704.94 575.88L705.81 575.15L706.68 575.49L707.54 575.06L708.41 575.76L709.28 574.54L710.14 574.45L711.01 574.49L711.88 574.67L712.74 573.22L713.61 572.99L714.48 572.61L715.35 571.04L716.21 572.54L717.08 571.92L717.95 570.82L718.81 572.28L719.68 570.57L720.55 570.62L721.41 569.96L722.28 569.19L723.15 567.46L724.02 568.78L724.88 567.74L725.75 566.41L726.62 566.74L727.48 566.76L728.35 566.5L729.22 565.8L730.08 565.29L730.95 565.93L731.82 564.93L732.69 565.22L733.55 565.6L734.42 564.21L735.29 565.16L736.15 563.69L737.02 564.19L737.89 563.9L738.75 564.65L739.62 565.21L740.49 564.85L741.36 565.5L742.22 565.11L743.09 565.02L743.96 565.51L744.82 565.18L745.69 565.6L746.56 566.33L747.42 565.6L748.29 566.8L749.16 565.69L750.03 566.41L750.89 565.73L751.76 566.51L752.63 567.24L753.49 566.03L754.36 566.07L755.23 563.98L756.09 563.76L756.96 564.12L757.83 563.83L758.7 563.34L759.56 561.39L760.43 562.83L761.3 562.7L762.16 563.02L763.03 563.44L763.9 563.21L764.76 562.61L765.63 563.18L766.5 563.17L767.37 563.46L768.23 564.36L769.1 565.41L769.97 564.41L770.83 564.06L771.7 563.52L772.57 562.86L773.43 563.59L774.3 562.95L775.17 562.78L776.04 562.04L776.9 562.59L777.77 561.49L778.64 562.39L779.5 561.56L780.37 562.28L781.24 561.18L782.1 561.84L782.97 561.72L783.84 561.29L784.71 562.17L785.57 561.2L786.44 560.46L787.31 561.25L788.17 560.25L789.04 560.19L789.91 560.28L790.77 560.15L791.64 560.81L792.51 558.57L793.38 559.2L794.24 559.77L795.11 558.79L795.98 558.78L796.84 559.2L797.71 557.3L798.58 557.75L799.44 557.9L800.31 556.81L801.18 555.85L802.05 556.02L802.91 556.62L803.78 556.54L804.65 557.41L805.51 557.03L806.38 555.27L807.25 556.68L808.11 556.52L808.98 556.85L809.85 555.73L810.72 555.41L811.58 555.73L812.45 556.46L813.32 555.83L814.18 556.65L815.05 556.31L815.92 555.72L816.78 555.68L817.65 557.55L818.52 555.79L819.39 556.67L820.25 556.89L821.12 556.71L821.99 557.09L822.85 557.6L823.72 559.14L824.59 557.9L825.45 557.81L826.32 558.36L827.19 559L828.06 558.16L828.92 558.57L829.79 557.86L830.66 559.25L831.52 559.21L832.39 559.65L833.26 558.04L834.12 559.97L834.99 559.18L835.86 558.48L836.73 558.38L837.59 558.39L838.46 557.83L839.33 558.95L840.19 558.11L841.06 558.08L841.93 559L842.79 558.97L843.66 558.76L844.53 559.17L845.4 559.22L846.26 560.49L847.13 560.5L848 559.51L848.86 559.62L849.73 560.15L850.6 558.9L851.46 559.81L852.33 558.75L853.2 558.59L854.07 556.7L854.93 558.12L855.8 557.54L856.67 557.4L857.53 557.06L858.4 556.81L859.27 555.92L860.13 556.46L861 555.69L861.87 554.76L862.74 554.5L863.6 554.9L864.47 554.98L865.34 553.5L866.2 553.57L867.07 555.39L867.94 554.77L868.8 556.44L869.67 553.88L870.54 554.64L871.41 554.43L872.27 555.1L873.14 555.53L874.01 555.43L874.87 553.68L875.74 554.77L876.61 553.13L877.47 553.8L878.34 553.51L879.21 553.55L880.08 552.5L880.94 553.53L881.81 552.5L882.68 552.58L883.54 552.57L884.41 552.24L885.28 553.41L886.14 553.31L887.01 553.51L887.88 554.46L888.75 553L889.61 553.47L890.48 553.77L891.35 554.35L892.21 553.68L893.08 554.26L893.95 553.92L894.81 552.57L895.68 553.12L896.55 552.28L897.42 553.23L898.28 553.09L899.15 553.61L900.02 553.3L900.88 553.07L901.75 553.73L902.62 553.24L903.48 552.06L904.35 552.27L905.22 552.75L906.09 553.45L906.95 552.23L907.82 552.14L908.69 552.28L909.55 552.49L910.42 551.98L911.29 552.21L912.15 551.79L913.02 551.71L913.89 551.57L914.76 552.42L915.62 551.71L916.49 552.36L917.36 552.27L918.22 552.61L919.09 550.41L919.96 551.3L920.82 551.05L921.69 551.55L922.56 552.01L923.43 552.92L924.29 552.22L925.16 552.01L926.03 551.33L926.89 550.77L927.76 551.2L928.63 549.62L929.49 551.43L930.36 550.9L931.23 551.25L932.1 550.29L932.96 550.25L933.83 550.51L934.7 550.87L935.56 551.1L936.43 550.68L937.3 551.1L938.16 551.29L939.03 550.21L939.9 550.9L940.77 550.14L941.63 550.82L942.5 551.75L943.37 550.89L944.23 552.49L945.1 551.78L945.97 552.09L946.83 551.72L947.7 552.25L948.57 552.47L949.44 551.98L950.3 551.7L951.17 551.6L952.04 552.88L952.9 551.47L953.77 551.14L954.64 550.82L955.5 550.07L956.37 550.59L957.24 550.9L958.11 550.25L958.97 549.92L959.84 550.43L960.71 550.28L961.57 549.59L962.44 549.85L963.31 548.93L964.17 549.82L965.04 548.57L965.91 548.78L966.78 548.88L967.64 548.38L968.51 547.78L969.38 549.51L970.24 549L971.11 546.92L971.98 547.83L972.84 546.85L973.71 547.64L974.58 546.66L975.45 547.74L976.31 547.68L977.18 548.34L978.05 548.01L978.91 547.01L979.78 547.8L980.65 546.95L981.51 547.13L982.38 546.87L983.25 546.11L984.12 547.46L984.98 545.89L985.85 546.91L986.72 547.33L987.58 547.01L988.45 545.9L989.32 546.31L990.18 546.95L991.05 547.07L991.92 547.23L992.79 545.1L993.65 546.31L994.52 545.62L995.39 546.22L996.25 544.66L997.12 545.36L997.99 545.64L998.85 544.63L999.72 544.58L1000.59 544L1001.46 545.29L1002.32 544.12L1003.19 544.62L1004.06 545.22L1004.92 545.48L1005.79 547.16L1006.66 546.34L1007.52 545.95L1008.39 547.03L1009.26 547.15L1010.13 547.37L1010.99 547.42L1011.86 547.66L1012.73 546.64L1013.59 546.55L1014.46 546.93L1015.33 546.47L1016.19 547.45L1017.06 548.11L1017.93 547.63L1018.8 547.1L1019.66 546.96L1020.53 546.3L1021.4 545.87L1022.26 546.88L1023.13 545.6L1024 546.54L1024.86 546.17L1025.73 546.59L1026.6 546.08L1027.47 546L1028.33 545.5L1029.2 544.72L1030.07 545.43L1030.93 545.93L1031.8 546.03L1032.67 546.13L1033.53 544.63L1034.4 544.76L1035.27 545.95L1036.14 545.51L1037 547.51L1037.87 546.42L1038.74 545.58L1039.6 546.38L1040.47 547.85L1041.34 545.86L1042.2 546.92L1043.07 545.92L1043.94 547.57L1044.81 546.28L1045.67 545.84L1046.54 545.34L1047.41 545.82L1048.27 544.64L1049.14 545.76L1050.01 547.22L1050.87 545.9L1051.74 545.59L1052.61 544.97L1053.48 545.75L1054.34 545.17L1055.21 544.85L1056.08 546.06L1056.94 545.43L1057.81 544.65L1058.68 546.04L1059.54 545.14L1060.41 545.47L1061.28 545.26L1062.15 545.86L1063.01 545.53L1063.88 544.74L1064.75 544.63L1065.61 543.24L1066.48 542.81L1067.35 542.96L1068.21 540.66L1069.08 540.62L1069.95 540.94L1070.82 540.83L1071.68 541.84L1072.55 540.09L1073.42 542.31L1074.28 541.85L1075.15 540.6L1076.02 540.92L1076.88 540.55L1077.75 541.1L1078.62 541.05L1079.49 541.05L1080.35 540.97L1081.22 541.57L1082.09 540.25L1082.95 540.68L1083.82 540.07L1084.69 540.11L1085.55 540.13L1086.42 539.89L1087.29 540.03L1088.16 539.25L1089.02 539.57L1089.89 539.22L1090.76 538.8L1091.62 539.04L1092.49 539.16L1093.36 539.37L1094.22 538.54L1095.09 539.3L1095.96 538.79L1096.83 538.97L1097.69 539.57L1098.56 540.11L1099.43 539.62L1100.29 539.17L1101.16 539.2L1102.03 540.24L1102.89 538.46L1103.76 540L1104.63 538.36L1105.5 538.78L1106.36 539.1L1107.23 538.85L1108.1 539.87L1108.96 539.1L1109.83 538.69L1110.7 539.19L1111.56 538.57L1112.43 537.99L1113.3 539.03L1114.17 539.18L1115.03 539.02L1115.9 537.54L1116.77 539.31L1117.63 537.92L1118.5 538.58L1119.37 538.79L1120.23 539.45L1121.1 537.08L1121.97 537.39L1122.84 538.65L1123.7 538.21L1124.57 537.7L1125.44 536.13L1126.3 538.02L1127.17 537.56L1128.04 536.05L1128.9 539.07L1129.77 535.94L1130.64 537L1131.51 537.24L1132.37 537.29L1133.24 537.51L1134.11 536.82L1134.97 536.37L1135.84 536.6L1136.71 535.48L1137.57 536.13L1138.44 538.03L1139.31 536.56L1140.18 537L1141.04 538.25L1141.91 537.84L1142.78 537.38L1143.64 537.83L1144.51 537.32L1145.38 537.03L1146.24 538.24L1147.11 537.82L1147.98 538.77L1148.85 537.6L1149.71 537.4L1150.58 537.68L1151.45 537.23L1152.31 537.02L1153.18 536.54L1154.05 537.07L1154.91 536.98L1155.78 537.72L1156.65 536.49L1157.52 535.34L1158.38 536.5L1159.25 537.44L1160.12 535.62L1160.98 535.12L1161.85 535.2L1162.72 533.33L1163.58 534.53L1164.45 534.32L1165.32 533.26L1166.19 534.19L1167.05 533.1L1167.92 532.3L1168.79 532.75L1169.65 533.33L1170.52 533.87L1171.39 533.26L1172.25 532.42L1173.12 531.79L1173.99 531.72L1174.86 532.23L1175.72 531.13L1176.59 531.36L1177.46 531.35L1178.32 529.93L1179.19 529.79L1180.06 530.08L1180.92 529.49L1181.79 529.09L1182.66 528.53L1183.53 528.47L1184.39 529.27L1185.26 528.74L1186.13 526.85L1186.99 527.67L1187.86 527.54L1188.73 527.36L1189.59 526.38L1190.46 526.96L1191.33 526.97L1192.2 526.33L1193.06 526.76L1193.93 524.99L1194.8 525.26L1195.66 525.92L1196.53 525.8L1197.4 525.18L1198.26 524.72L1199.13 524.81L1200 525.05L1200.87 524.66L1201.73 524.02L1202.6 523.72L1203.47 524.56L1204.33 524.19L1205.2 524.32L1206.07 523.57L1206.93 523.17L1207.8 523.72L1208.67 523.18L1209.54 524.15L1210.4 523.98L1211.27 522.29L1212.14 524.05L1213 524.53L1213.87 524.44L1214.74 523.64L1215.6 523.5L1216.47 524.66L1217.34 524.72L1218.21 524.16L1219.07 523.45L1219.94 523.23L1220.81 524.29L1221.67 523.64L1222.54 523.73L1223.41 524.39L1224.27 524.75L1225.14 522.91L1226.01 523.74L1226.88 524.75L1227.74 523.82L1228.61 523.49L1229.48 523.93L1230.34 522.74L1231.21 522.54L1232.08 523.13L1232.94 523.92L1233.81 523.74L1234.68 523.28L1235.55 524.03L1236.41 523.33L1237.28 523.02L1238.15 522.88L1239.01 524.17L1239.88 524.64L1240.75 524.25L1241.61 523.92L1242.48 523.62L1243.35 524.41L1244.22 523.65L1245.08 522.75L1245.95 524.32L1246.82 522.98L1247.68 523.24L1248.55 522.67L1249.42 522.94L1250.28 522.11L1251.15 522.35L1252.02 521.4L1252.89 520.66L1253.75 520.29L1254.62 520.66L1255.49 519.47L1256.35 520.18L1257.22 519.18L1258.09 518.46L1258.95 518.17L1259.82 518.28L1260.69 519.05L1261.56 518.06L1262.42 517.21L1263.29 516.26L1264.16 517.51L1265.02 515.83L1265.89 515.58L1266.76 514.93L1267.62 515.84L1268.49 515.31L1269.36 515.09L1270.23 515.62L1271.09 515.08L1271.96 515.19L1272.83 515.87L1273.69 514.42L1274.56 516.96L1275.43 517.59L1276.29 515.92L1277.16 516.14L1278.03 514.92L1278.9 515.57L1279.76 515.22L1280.63 515.16L1281.5 513.56L1282.36 513.61L1283.23 513.22L1284.1 513.16L1284.96 514.36L1285.83 512.61L1286.7 512.42L1287.57 511.85L1288.43 512.33L1289.3 513.08L1290.17 512L1291.03 512.22L1291.9 510.69L1292.77 511.94L1293.63 511.34L1294.5 512.06L1295.37 511.94L1296.24 511.71L1297.1 510.37L1297.97 511.61L1298.84 511.41L1299.7 512.14L1300.57 512.07L1301.44 512.84L1302.3 511.45L1303.17 512.13L1304.04 512.7L1304.91 513.11L1305.77 512.85L1306.64 513.25L1307.51 513.47L1308.37 514.22L1309.24 513.28L1310.11 513.23L1310.97 511.75L1311.84 511.02L1312.71 511.44L1313.58 512.25L1314.44 510.43L1315.31 511.79L1316.18 511.49L1317.04 511.55L1317.91 511.12L1318.78 511.3L1319.64 512.04L1320.51 511.76L1321.38 511.53L1322.25 511.26L1323.11 511.67" stroke="#0000ff" stroke-width="0.7" fill="none"/><path d="M75.5 605.6h0m0.9 0.1h0m0.8 0.2h0m0.9 1.7h0m0.9 0.1h0m0.8 -0.2h0m0.9 0.6h0m0.9 0.2h0m0.8 0h0m0.9 -0.1h0m0.9 0.2h0m0.8 0.3h0m0.9 0.3h0m0.9 -0.1h0m0.8 -0.7h0m0.9 0.1h0m0.9 0.1h0m0.8 -1h0m0.9 0.4h0m0.9 0.3h0m0.8 -0.5h0m0.9 -0.5h0m0.9 -0.2h0m0.8 -0.6h0m0.9 0.5h0m0.9 -1.2h0m0.8 -1.1h0m0.9 0h0m0.9 0.5h0m0.8 -0.3h0m0.9 -0.7h0m0.9 -0.7h0m0.8 0.5h0m0.9 -0.6h0m0.9 -0.1h0m0.8 0.1h0m0.9 -0.6h0m0.9 0.4h0m0.8 -0.9h0m0.9 0h0m0.9 0.2h0m0.8 1h0m0.9 0.1h0m0.9 -0.3h0m0.8 -0.9h0m0.9 0.5h0m0.9 0.6h0m0.8 -0.1h0m0.9 -1.3h0m0.9 1h0m0.9 -0.4h0m0.8 0.9h0m0.9 0h0m0.9 -0.7h0m0.8 1.6h0m0.9 -1.5h0m0.9 1.6h0m0.8 -1.6h0m0.9 0h0m0.9 1.1h0m0.8 -1.4h0m0.9 0.3h0m0.9 1.3h0m0.8 -0.6h0m0.9 0.5h0m0.9 -0.8h0m0.8 2h0m0.9 -0.2h0m0.9 -0.1h0m0.8 0.1h0m0.9 -0.7h0m0.9 0h0m0.8 -0.8h0m0.9 1.2h0m0.9 0.4h0m0.8 -0.3h0m0.9 0h0m0.9 -0.1h0m0.8 -1h0m0.9 -0.3h0m0.9 0.9h0m0.8 -0.4h0m0.9 0.3h0m0.9 -0.9h0m0.8 -0.6h0m0.9 0.6h0m0.9 -0.7h0m0.8 -0.5h0m0.9 1h0m0.9 0.3h0m0.8 0.3h0m0.9 0.8h0m0.9 1.3h0m0.8 1.2h0m0.9 0.1h0m0.9 -0.9h0m0.8 1.1h0m0.9 -0.5h0m0.9 0.5h0m0.8 -0.4h0m0.9 0.6h0m0.9 -0.7h0m0.8 2.3h0m0.9 -1.2h0m0.9 1.1h0m0.8 -0.3h0m0.9 0.8h0m0.9 -0.5h0m0.8 0.8h0m0.9 1.1h0m0.9 -0.6h0m0.8 -1.9h0m0.9 1.2h0m0.9 -1.7h0m0.8 0.5h0m0.9 -0.3h0m0.9 -1.1h0m0.8 -0.2h0m0.9 -0.4h0m0.9 0.9h0m0.8 1.1h0m0.9 1h0m0.9 0.1h0m0.8 1.7h0m0.9 -1.5h0m0.9 1.5h0m0.8 -1.4h0m0.9 0.5h0m0.9 -0.7h0m0.8 0h0m0.9 -0.7h0m0.9 0.6h0m0.8 1.2h0m0.9 -0.7h0m0.9 0.2h0m0.8 0.5h0m0.9 0.8h0m0.9 -0.2h0m0.8 0.5h0m0.9 0.5h0m0.9 1.1h0m0.8 0.1h0m0.9 -0.8h0m0.9 0.4h0m0.8 0.4h0m0.9 0.6h0m0.9 0.2h0m0.8 -0.6h0m0.9 1.4h0m0.9 -1.2h0m0.8 1h0m0.9 0h0m0.9 0.3h0m0.9 -0.8h0m0.8 0.4h0m0.9 -1.1h0m0.9 0h0m0.8 0.8h0m0.9 1h0m0.9 0.8h0m0.8 -0.1h0m0.9 1.2h0m0.9 0.3h0m0.8 1.1h0m0.9 -1.8h0m0.9 0.4h0m0.8 0h0m0.9 -0.1h0m0.9 1.6h0m0.8 -1.5h0m0.9 0h0m0.9 0.3h0m0.8 0.7h0m0.9 -0.7h0m0.9 0.6h0m0.8 -0.1h0m0.9 -0.7h0m0.9 -0.9h0m0.8 0.8h0m0.9 -0.1h0m0.9 1.9h0m0.8 -1h0m0.9 0h0m0.9 1.2h0m0.8 0.1h0m0.9 -0.2h0m0.9 1.4h0m0.8 0.2h0m0.9 0h0m0.9 -0.3h0m0.8 0.1h0m0.9 -0.4h0m0.9 1.6h0m0.8 0.3h0m0.9 -0.6h0m0.9 0.8h0m0.8 2.2h0m0.9 -2.4h0m0.9 -0.3h0m0.8 1.3h0m0.9 -0.7h0m0.9 -0.1h0m0.8 0.5h0m0.9 -0.5h0m0.9 0.5h0m0.8 -0.3h0m0.9 0.5h0m0.9 -0.4h0m0.8 -1.1h0m0.9 2.3h0m0.9 -1.6h0m0.8 1.8h0m0.9 -0.3h0m0.9 -0.7h0m0.8 1h0m0.9 0.6h0m0.9 -0.9h0m0.8 0.8h0m0.9 -0.3h0m0.9 0h0m0.8 0.4h0m0.9 1.3h0m0.9 -0.2h0m0.8 -0.2h0m0.9 0.1h0m0.9 0.3h0m0.8 0.3h0m0.9 0.1h0m0.9 -1h0m0.8 1.7h0m0.9 -0.8h0m0.9 -0.8h0m0.8 2h0m0.9 -0.9h0m0.9 0.8h0m0.8 0.2h0m0.9 -0.1h0m0.9 0.8h0m0.8 -0.4h0m0.9 0h0m0.9 -0.3h0m0.8 0.4h0m0.9 -0.4h0m0.9 0.7h0m0.8 0.8h0m0.9 -0.1h0m0.9 -0.3h0m0.8 -1h0m0.9 1.5h0m0.9 -0.1h0m0.8 0.8h0m0.9 -2.5h0m0.9 1.4h0m0.9 -0.2h0m0.8 0.9h0m0.9 -1.2h0m0.9 0.4h0m0.8 1.7h0m0.9 -0.7h0m0.9 -1.7h0m0.8 1.2h0m0.9 0.8h0m0.9 -1.1h0m0.8 0.8h0m0.9 -0.2h0m0.9 -0.9h0m0.8 0.6h0m0.9 1.1h0m0.9 0.1h0m0.8 -1h0m0.9 1.1h0m0.9 -1h0m0.8 0.6h0m0.9 -0.1h0m0.9 -0.6h0m0.8 1h0m0.9 -0.4h0m0.9 -1.3h0m0.8 1h0m0.9 0h0m0.9 -0.1h0m0.8 0h0m0.9 0.1h0m0.9 -1.1h0m0.8 1.9h0m0.9 -0.5h0m0.9 0.1h0m0.8 -0.3h0m0.9 0.1h0m0.9 -0.2h0m0.8 -0.5h0m0.9 -0.3h0m0.9 1h0m0.8 0.5h0m0.9 -0.5h0m0.9 0.8h0m0.8 -1.7h0m0.9 0.7h0m0.9 -0.1h0m0.8 1.4h0m0.9 0.6h0m0.9 -1h0m0.8 1.1h0m0.9 -0.3h0m0.9 -0.1h0m0.8 0.9h0m0.9 -0.3h0m0.9 1.9h0m0.8 -0.2h0m0.9 0.5h0m0.9 -0.2h0m0.8 -1.4h0m0.9 2.1h0m0.9 -0.2h0m0.8 -1.5h0m0.9 1.4h0m0.9 0.5h0m0.8 0.3h0m0.9 -1.7h0m0.9 1h0m0.8 -0.3h0m0.9 -0.4h0m0.9 -0.1h0m0.8 0.4h0m0.9 0h0m0.9 -0.1h0m0.8 -0.7h0m0.9 -0.6h0m0.9 1.5h0m0.8 -0.1h0m0.9 -1.2h0m0.9 0.1h0m0.8 0.4h0m0.9 -1.7h0m0.9 1.2h0m0.8 0.9h0m0.9 -1.4h0m0.9 -0.7h0m0.8 1.5h0m0.9 -1.4h0m0.9 0h0m0.8 -0.5h0m0.9 0.1h0m0.9 -1.3h0m0.8 0h0m0.9 -0.3h0m0.9 1.2h0m0.8 -0.9h0m0.9 0.5h0m0.9 -2.1h0m0.9 0.6h0m0.8 1h0m0.9 -1.6h0m0.9 -0.8h0m0.8 0.5h0m0.9 0.1h0m0.9 0.1h0m0.8 0.7h0m0.9 -0.1h0m0.9 0h0m0.8 -0.4h0m0.9 -0.3h0m0.9 0.2h0m0.8 -0.2h0m0.9 1.8h0m0.9 0.3h0m0.8 -0.5h0m0.9 -0.7h0m0.9 0.7h0m0.8 -0.3h0m0.9 -0.4h0m0.9 -0.9h0m0.8 0.6h0m0.9 -0.7h0m0.9 0.6h0m0.8 -0.3h0m0.9 -0.3h0m0.9 -0.7h0m0.8 0.9h0m0.9 -0.9h0m0.9 -0.1h0m0.8 -0.7h0m0.9 -0.5h0m0.9 -0.6h0m0.8 -1.3h0m0.9 -0.9h0m0.9 0.2h0m0.8 0.9h0m0.9 0.2h0m0.9 -0.4h0m0.8 -0.1h0m0.9 1h0m0.9 -1.2h0m0.8 -0.8h0m0.9 0.1h0m0.9 0.7h0m0.8 0.6h0m0.9 0h0m0.9 -0.5h0m0.8 0.6h0m0.9 -0.6h0m0.9 -0.4h0m0.8 0.1h0m0.9 0.6h0m0.9 0.1h0m0.8 -1.3h0m0.9 0h0m0.9 0.6h0m0.8 1.2h0m0.9 -2h0m0.9 -0.1h0m0.8 0.9h0m0.9 0h0m0.9 -0.7h0m0.8 0.2h0m0.9 0.2h0m0.9 -1.4h0m0.8 1h0m0.9 0.2h0m0.9 0.1h0m0.8 0.1h0m0.9 -0.8h0m0.9 -0.9h0m0.8 1.7h0m0.9 0h0m0.9 -0.6h0m0.8 1.3h0m0.9 0.3h0m0.9 -0.4h0m0.8 -1.8h0m0.9 0.7h0m0.9 -0.6h0m0.8 -0.5h0m0.9 0h0m0.9 -1h0m0.8 0.4h0m0.9 0.5h0m0.9 -2.2h0m0.8 0.8h0m0.9 -1h0m0.9 0.9h0m0.8 -0.2h0m0.9 1h0m0.9 -0.9h0m0.8 1.1h0m0.9 -0.7h0m0.9 0.8h0m0.8 0.1h0m0.9 0.8h0m0.9 -1.3h0m0.9 0h0m0.8 1.6h0m0.9 -0.7h0m0.9 0.7h0m0.8 -1.6h0m0.9 0.6h0m0.9 0.2h0m0.8 0.6h0m0.9 -1.1h0m0.9 -0.3h0m0.8 0.5h0m0.9 -0.7h0m0.9 -0.6h0m0.8 0.7h0m0.9 -1.8h0m0.9 0.3h0m0.8 1.2h0m0.9 -1.3h0m0.9 -0.1h0m0.8 0.2h0m0.9 0.2h0m0.9 -0.4h0m0.8 -1h0m0.9 0.2h0m0.9 0.9h0m0.8 -0.8h0m0.9 -0.4h0m0.9 0.9h0m0.8 0h0m0.9 0.6h0m0.9 -2h0m0.8 0.2h0m0.9 -0.1h0m0.9 0.5h0m0.8 -0.6h0m0.9 0.8h0m0.9 -2.4h0m0.8 1.9h0m0.9 -1.1h0m0.9 0.1h0m0.8 0.3h0m0.9 -0.4h0m0.9 -0.9h0m0.8 1.3h0m0.9 -0.7h0m0.9 -1.1h0m0.8 0.1h0m0.9 -1.2h0m0.9 -0.5h0m0.8 0.2h0m0.9 0h0m0.9 -0.6h0m0.8 -0.9h0m0.9 -0.7h0m0.9 -0.6h0m0.8 1.7h0m0.9 -0.9h0m0.9 -0.8h0m0.8 0.9h0m0.9 -0.5h0m0.9 -0.7h0m0.8 -0.3h0m0.9 0.8h0m0.9 -0.6h0m0.8 0.6h0m0.9 -1h0m0.9 -0.7h0m0.8 -0.2h0m0.9 -0.3h0m0.9 0.2h0m0.8 -0.4h0m0.9 -0.1h0m0.9 -0.5h0m0.8 -1.2h0m0.9 0.1h0m0.9 -0.8h0m0.8 0.5h0m0.9 -1.4h0m0.9 0h0m0.8 -0.3h0m0.9 0.1h0m0.9 0.1h0m0.8 1h0m0.9 -1.1h0m0.9 -0.8h0m0.8 0.6h0m0.9 0.6h0m0.9 -0.2h0m0.8 -0.3h0m0.9 1h0m0.9 -0.6h0m0.8 -0.7h0m0.9 0.6h0m0.9 -1.6h0m0.8 0.6h0m0.9 -0.7h0m0.9 0.3h0m0.8 0.5h0m0.9 -1.6h0m0.9 0.9h0m0.9 -1.8h0m0.8 1.1h0m0.9 -2.2h0m0.9 0.2h0m0.8 0.8h0m0.9 -1h0m0.9 -0.2h0m0.8 -0.4h0m0.9 -0.2h0m0.9 -0.5h0m0.8 -0.8h0m0.9 0h0m0.9 -0.1h0m0.8 -0.9h0m0.9 0.5h0m0.9 0.4h0m0.8 -2.2h0m0.9 0.4h0m0.9 -0.1h0m0.8 -0.1h0m0.9 -0.2h0m0.9 -0.8h0m0.8 0.2h0m0.9 -0.3h0m0.9 -0.3h0m0.8 0.7h0m0.9 -1.1h0m0.9 -1.2h0m0.8 -0.3h0m0.9 1.1h0m0.9 -0.7h0m0.8 -0.2h0m0.9 -0.6h0m0.9 0.5h0m0.8 0h0m0.9 -0.5h0m0.9 0.1h0m0.8 0.6h0m0.9 -0.2h0m0.9 -0.2h0m0.8 -0.6h0m0.9 -0.8h0m0.9 1.1h0m0.8 0.3h0m0.9 -0.2h0m0.9 -0.2h0m0.8 -0.7h0m0.9 -0.1h0m0.9 -0.3h0m0.8 0.6h0m0.9 -1h0m0.9 1.2h0m0.8 -0.9h0m0.9 -0.9h0m0.9 0h0m0.8 -1.2h0m0.9 0.2h0m0.9 0h0m0.8 1.3h0m0.9 -2.1h0m0.9 0.7h0m0.8 -0.7h0m0.9 -0.5h0m0.9 0.3h0m0.8 -1.7h0m0.9 1.4h0m0.9 0.4h0m0.8 -1.2h0m0.9 -0.4h0m0.9 -0.1h0m0.8 0.1h0m0.9 -0.9h0m0.9 0.2h0m0.8 0h0m0.9 -0.6h0m0.9 0.3h0m0.8 -0.1h0m0.9 0.1h0m0.9 -1.1h0m0.8 0.2h0m0.9 0h0m0.9 0.9h0m0.8 -0.7h0m0.9 -1.2h0m0.9 0.2h0m0.8 1.7h0m0.9 -1h0m0.9 -1h0m0.8 0.1h0m0.9 0.6h0m0.9 0.6h0m0.8 0h0m0.9 -1.2h0m0.9 -0.1h0m0.8 1.3h0m0.9 -1.8h0m0.9 1.4h0m0.8 -0.8h0m0.9 -0.3h0m0.9 0.6h0m0.8 -0.6h0m0.9 -0.9h0m0.9 -0.7h0m0.9 0.7h0m0.8 0.1h0m0.9 0.3h0m0.9 -2.6h0m0.8 2.1h0m0.9 -0.6h0m0.9 0.3h0m0.8 -0.7h0m0.9 -0.3h0m0.9 0h0m0.8 0h0m0.9 -0.7h0m0.9 0.3h0m0.8 0.1h0m0.9 -0.4h0m0.9 -0.6h0m0.8 0h0m0.9 1h0m0.9 0h0m0.8 -0.3h0m0.9 -0.8h0m0.9 1.2h0m0.8 -0.8h0m0.9 -1h0m0.9 2.2h0m0.8 -1.6h0m0.9 2.3h0m0.9 -0.9h0m0.8 -0.4h0m0.9 -1h0m0.9 1.1h0m0.8 1.4h0m0.9 0.1h0m0.9 -0.5h0m0.8 -1.2h0m0.9 0.6h0m0.9 -0.2h0m0.8 0.3h0m0.9 -0.5h0m0.9 0.1h0m0.8 -1.3h0m0.9 0.4h0m0.9 1h0m0.8 -1.8h0m0.9 1.2h0m0.9 0.6h0m0.8 -1.1h0m0.9 -1.3h0m0.9 1.3h0m0.8 -1.9h0m0.9 1.1h0m0.9 -0.6h0m0.8 0.8h0m0.9 -0.2h0m0.9 -0.7h0m0.8 0.8h0m0.9 -0.8h0m0.9 -1.1h0m0.8 -0.5h0m0.9 1.7h0m0.9 -1.9h0m0.8 0.2h0m0.9 -0.6h0m0.9 -0.4h0m0.8 -0.9h0m0.9 0.6h0m0.9 -0.3h0m0.8 0.6h0m0.9 -1h0m0.9 -0.7h0m0.8 0.2h0m0.9 0.5h0m0.9 0.1h0m0.8 0.2h0m0.9 -0.7h0m0.9 0.3h0m0.8 -0.4h0m0.9 0.7h0m0.9 -1.3h0m0.8 0h0m0.9 0h0m0.9 0.2h0m0.8 -1.5h0m0.9 -0.2h0m0.9 -0.4h0m0.8 -1.6h0m0.9 1.5h0m0.9 -0.6h0m0.8 -1.1h0m0.9 1.5h0m0.9 -1.7h0m0.8 0h0m0.9 -0.6h0m0.9 -0.8h0m0.8 -1.7h0m0.9 1.3h0m0.9 -1.1h0m0.8 -1.3h0m0.9 0.3h0m0.9 0.1h0m0.9 -0.3h0m0.8 -0.7h0m0.9 -0.5h0m0.9 0.6h0m0.8 -1h0m0.9 0.3h0m0.9 0.4h0m0.8 -1.4h0m0.9 1h0m0.9 -1.5h0m0.8 0.5h0m0.9 -0.3h0m0.9 0.8h0m0.8 0.5h0m0.9 -0.4h0m0.9 0.7h0m0.8 -0.4h0m0.9 -0.1h0m0.9 0.5h0m0.8 -0.3h0m0.9 0.4h0m0.9 0.7h0m0.8 -0.7h0m0.9 1.2h0m0.9 -1.1h0m0.8 0.7h0m0.9 -0.7h0m0.9 0.8h0m0.8 0.7h0m0.9 -1.2h0m0.9 0.1h0m0.8 -2.1h0m0.9 -0.2h0m0.9 0.3h0m0.8 -0.3h0m0.9 -0.5h0m0.9 -1.9h0m0.8 1.4h0m0.9 -0.1h0m0.9 0.3h0m0.8 0.4h0m0.9 -0.2h0m0.9 -0.6h0m0.8 0.6h0m0.9 0h0m0.9 0.3h0m0.8 0.9h0m0.9 1h0m0.9 -1h0m0.8 -0.3h0m0.9 -0.6h0m0.9 -0.6h0m0.8 0.7h0m0.9 -0.6h0m0.9 -0.2h0m0.8 -0.8h0m0.9 0.6h0m0.9 -1.1h0m0.8 0.9h0m0.9 -0.8h0m0.9 0.7h0m0.8 -1.1h0m0.9 0.6h0m0.9 -0.1h0m0.8 -0.4h0m0.9 0.9h0m0.9 -1h0m0.8 -0.7h0m0.9 0.8h0m0.9 -1h0m0.8 -0.1h0m0.9 0.1h0m0.9 -0.2h0m0.8 0.7h0m0.9 -2.2h0m0.9 0.6h0m0.8 0.6h0m0.9 -1h0m0.9 0h0m0.8 0.4h0m0.9 -1.9h0m0.9 0.5h0m0.8 0.1h0m0.9 -1.1h0m0.9 -1h0m0.8 0.2h0m0.9 0.6h0m0.9 -0.1h0m0.8 0.9h0m0.9 -0.4h0m0.9 -1.7h0m0.8 1.4h0m0.9 -0.2h0m0.9 0.4h0m0.8 -1.2h0m0.9 -0.3h0m0.9 0.3h0m0.8 0.8h0m0.9 -0.7h0m0.9 0.8h0m0.9 -0.3h0m0.8 -0.6h0m0.9 0h0m0.9 1.8h0m0.8 -1.7h0m0.9 0.9h0m0.9 0.2h0m0.8 -0.2h0m0.9 0.4h0m0.9 0.5h0m0.8 1.5h0m0.9 -1.2h0m0.9 -0.1h0m0.8 0.6h0m0.9 0.6h0m0.9 -0.8h0m0.8 0.4h0m0.9 -0.7h0m0.9 1.4h0m0.8 -0.1h0m0.9 0.4h0m0.9 -1.6h0m0.8 2h0m0.9 -0.8h0m0.9 -0.7h0m0.8 -0.1h0m0.9 0h0m0.9 -0.6h0m0.8 1.1h0m0.9 -0.8h0m0.9 0h0m0.8 0.9h0m0.9 0h0m0.9 -0.2h0m0.8 0.4h0m0.9 0h0m0.9 1.3h0m0.8 0h0m0.9 -1h0m0.9 0.1h0m0.8 0.6h0m0.9 -1.3h0m0.9 0.9h0m0.8 -1h0m0.9 -0.2h0m0.9 -1.9h0m0.8 1.4h0m0.9 -0.6h0m0.9 -0.1h0m0.8 -0.3h0m0.9 -0.3h0m0.9 -0.9h0m0.8 0.6h0m0.9 -0.8h0m0.9 -0.9h0m0.8 -0.3h0m0.9 0.4h0m0.9 0.1h0m0.8 -1.5h0m0.9 0.1h0m0.9 1.8h0m0.8 -0.6h0m0.9 1.6h0m0.9 -2.5h0m0.8 0.7h0m0.9 -0.2h0m0.9 0.7h0m0.8 0.4h0m0.9 -0.1h0m0.9 -1.7h0m0.8 1.1h0m0.9 -1.7h0m0.9 0.7h0m0.8 -0.3h0m0.9 0h0m0.9 -1h0m0.8 1h0m0.9 -1h0m0.9 0.1h0m0.8 0h0m0.9 -0.4h0m0.9 1.2h0m0.8 -0.1h0m0.9 0.2h0m0.9 1h0m0.8 -1.5h0m0.9 0.5h0m0.9 0.3h0m0.8 0.5h0m0.9 -0.6h0m0.9 0.6h0m0.8 -0.4h0m0.9 -1.3h0m0.9 0.5h0m0.8 -0.8h0m0.9 0.9h0m0.9 -0.1h0m0.8 0.5h0m0.9 -0.3h0m0.9 -0.2h0m0.9 0.6h0m0.8 -0.5h0m0.9 -1.1h0m0.9 0.2h0m0.8 0.5h0m0.9 0.7h0m0.9 -1.3h0m0.8 -0.1h0m0.9 0.2h0m0.9 0.2h0m0.8 -0.5h0m0.9 0.2h0m0.9 -0.4h0m0.8 -0.1h0m0.9 -0.1h0m0.9 0.8h0m0.8 -0.7h0m0.9 0.7h0m0.9 -0.1h0m0.8 0.3h0m0.9 -2.2h0m0.9 0.9h0m0.8 -0.3h0m0.9 0.6h0m0.9 0.4h0m0.8 0.9h0m0.9 -0.7h0m0.9 -0.2h0m0.8 -0.7h0m0.9 -0.5h0m0.9 0.4h0m0.8 -1.6h0m0.9 1.8h0m0.9 -0.5h0m0.8 0.4h0m0.9 -1h0m0.9 0h0m0.8 0.2h0m0.9 0.4h0m0.9 0.2h0m0.8 -0.4h0m0.9 0.4h0m0.9 0.2h0m0.8 -1.1h0m0.9 0.7h0m0.9 -0.8h0m0.8 0.7h0m0.9 1h0m0.9 -0.9h0m0.8 1.6h0m0.9 -0.7h0m0.9 0.3h0m0.8 -0.4h0m0.9 0.6h0m0.9 0.2h0m0.8 -0.5h0m0.9 -0.3h0m0.9 -0.1h0m0.8 1.3h0m0.9 -1.4h0m0.9 -0.4h0m0.8 -0.3h0m0.9 -0.7h0m0.9 0.5h0m0.8 0.3h0m0.9 -0.6h0m0.9 -0.4h0m0.8 0.5h0m0.9 -0.1h0m0.9 -0.7h0m0.8 0.2h0m0.9 -0.9h0m0.9 0.9h0m0.8 -1.2h0m0.9 0.2h0m0.9 0.1h0m0.8 -0.5h0m0.9 -0.6h0m0.9 1.7h0m0.8 -0.5h0m0.9 -2.1h0m0.9 0.9h0m0.8 -1h0m0.9 0.8h0m0.9 -0.9h0m0.8 1h0m0.9 0h0m0.9 0.6h0m0.8 -0.3h0m0.9 -1h0m0.9 0.8h0m0.8 -0.8h0m0.9 0.1h0m0.9 -0.2h0m0.8 -0.8h0m0.9 1.4h0m0.9 -1.6h0m0.8 1h0m0.9 0.4h0m0.9 -0.3h0m0.9 -1.1h0m0.8 0.4h0m0.9 0.7h0m0.9 0.1h0m0.8 0.1h0m0.9 -2.1h0m0.9 1.2h0m0.8 -0.7h0m0.9 0.6h0m0.9 -1.5h0m0.8 0.7h0m0.9 0.2h0m0.9 -1h0m0.8 0h0m0.9 -0.6h0m0.9 1.3h0m0.8 -1.2h0m0.9 0.5h0m0.9 0.6h0m0.8 0.3h0m0.9 1.7h0m0.9 -0.9h0m0.8 -0.4h0m0.9 1.1h0m0.9 0.1h0m0.8 0.3h0m0.9 0h0m0.9 0.3h0m0.8 -1.1h0m0.9 -0.1h0m0.9 0.4h0m0.8 -0.4h0m0.9 1h0m0.9 0.6h0m0.8 -0.5h0m0.9 -0.5h0m0.9 -0.1h0m0.8 -0.7h0m0.9 -0.4h0m0.9 1h0m0.8 -1.3h0m0.9 0.9h0m0.9 -0.3h0m0.8 0.4h0m0.9 -0.5h0m0.9 -0.1h0m0.8 -0.5h0m0.9 -0.8h0m0.9 0.7h0m0.8 0.5h0m0.9 0.1h0m0.9 0.1h0m0.8 -1.5h0m0.9 0.2h0m0.9 1.2h0m0.8 -0.5h0m0.9 2h0m0.9 -1.1h0m0.8 -0.8h0m0.9 0.8h0m0.9 1.4h0m0.8 -1.9h0m0.9 1h0m0.9 -1h0m0.8 1.7h0m0.9 -1.3h0m0.9 -0.5h0m0.8 -0.5h0m0.9 0.5h0m0.9 -1.2h0m0.8 1.2h0m0.9 1.4h0m0.9 -1.3h0m0.8 -0.3h0m0.9 -0.6h0m0.9 0.7h0m0.8 -0.5h0m0.9 -0.3h0m0.9 1.2h0m0.8 -0.7h0m0.9 -0.7h0m0.9 1.3h0m0.8 -0.9h0m0.9 0.4h0m0.9 -0.2h0m0.8 0.6h0m0.9 -0.4h0m0.9 -0.8h0m0.8 -0.1h0m0.9 -1.4h0m0.9 -0.4h0m0.8 0.2h0m0.9 -2.3h0m0.9 -0.1h0m0.8 0.3h0m0.9 -0.1h0m0.9 1h0m0.8 -1.7h0m0.9 2.2h0m0.9 -0.5h0m0.9 -1.2h0m0.8 0.3h0m0.9 -0.3h0m0.9 0.5h0m0.8 -0.1h0m0.9 0h0m0.9 0h0m0.8 0.6h0m0.9 -1.3h0m0.9 0.4h0m0.8 -0.6h0m0.9 0h0m0.9 0h0m0.8 -0.2h0m0.9 0.1h0m0.9 -0.8h0m0.8 0.4h0m0.9 -0.4h0m0.9 -0.4h0m0.8 0.2h0m0.9 0.2h0m0.9 0.2h0m0.8 -0.9h0m0.9 0.8h0m0.9 -0.5h0m0.8 0.2h0m0.9 0.6h0m0.9 0.5h0m0.8 -0.5h0m0.9 -0.4h0m0.9 0h0m0.8 1h0m0.9 -1.7h0m0.9 1.5h0m0.8 -1.6h0m0.9 0.4h0m0.9 0.3h0m0.8 -0.2h0m0.9 1h0m0.9 -0.8h0m0.8 -0.4h0m0.9 0.5h0m0.9 -0.6h0m0.8 -0.6h0m0.9 1h0m0.9 0.2h0m0.8 -0.2h0m0.9 -1.5h0m0.9 1.8h0m0.8 -1.4h0m0.9 0.7h0m0.9 0.2h0m0.8 0.7h0m0.9 -2.4h0m0.9 0.3h0m0.8 1.2h0m0.9 -0.4h0m0.9 -0.5h0m0.8 -1.6h0m0.9 1.9h0m0.9 -0.4h0m0.8 -1.5h0m0.9 3h0m0.9 -3.2h0m0.8 1.1h0m0.9 0.2h0m0.9 0.1h0m0.8 0.2h0m0.9 -0.7h0m0.9 -0.4h0m0.8 0.2h0m0.9 -1.1h0m0.9 0.6h0m0.8 1.9h0m0.9 -1.4h0m0.9 0.4h0m0.8 1.2h0m0.9 -0.4h0m0.9 -0.4h0m0.8 0.4h0m0.9 -0.5h0m0.9 -0.3h0m0.8 1.2h0m0.9 -0.4h0m0.9 1h0m0.8 -1.2h0m0.9 -0.2h0m0.9 0.3h0m0.8 -0.5h0m0.9 -0.2h0m0.9 -0.5h0m0.8 0.6h0m0.9 -0.1h0m0.9 0.7h0m0.8 -1.2h0m0.9 -1.2h0m0.9 1.2h0m0.8 0.9h0m0.9 -1.8h0m0.9 -0.5h0m0.9 0.1h0m0.8 -1.9h0m0.9 1.2h0m0.9 -0.2h0m0.8 -1h0m0.9 0.9h0m0.9 -1.1h0m0.8 -0.8h0m0.9 0.5h0m0.9 0.5h0m0.8 0.6h0m0.9 -0.6h0m0.9 -0.9h0m0.8 -0.6h0m0.9 -0.1h0m0.9 0.5h0m0.8 -1.1h0m0.9 0.3h0m0.9 0h0m0.8 -1.5h0m0.9 -0.1h0m0.9 0.3h0m0.8 -0.6h0m0.9 -0.4h0m0.9 -0.6h0m0.8 0h0m0.9 0.8h0m0.9 -0.6h0m0.8 -1.9h0m0.9 0.9h0m0.9 -0.2h0m0.8 -0.1h0m0.9 -1h0m0.9 0.6h0m0.8 0h0m0.9 -0.7h0m0.9 0.5h0m0.8 -1.8h0m0.9 0.3h0m0.9 0.6h0m0.8 -0.1h0m0.9 -0.6h0m0.9 -0.5h0m0.8 0.1h0m0.9 0.2h0m0.9 -0.3h0m0.8 -0.7h0m0.9 -0.3h0m0.9 0.9h0m0.8 -0.4h0m0.9 0.1h0m0.9 -0.7h0m0.8 -0.4h0m0.9 0.5h0m0.9 -0.5h0m0.8 1h0m0.9 -0.2h0m0.9 -1.7h0m0.8 1.7h0m0.9 0.5h0m0.9 -0.1h0m0.8 -0.8h0m0.9 -0.1h0m0.9 1.2h0m0.8 0h0m0.9 -0.5h0m0.9 -0.7h0m0.8 -0.3h0m0.9 1.1h0m0.9 -0.7h0m0.8 0.1h0m0.9 0.7h0m0.9 0.3h0m0.8 -1.8h0m0.9 0.8h0m0.9 1.1h0m0.8 -1h0m0.9 -0.3h0m0.9 0.4h0m0.8 -1.2h0m0.9 -0.2h0m0.9 0.6h0m0.8 0.8h0m0.9 -0.2h0m0.9 -0.4h0m0.8 0.7h0m0.9 -0.7h0m0.9 -0.3h0m0.8 -0.1h0m0.9 1.3h0m0.9 0.4h0m0.8 -0.4h0m0.9 -0.3h0m0.9 -0.3h0m0.8 0.8h0m0.9 -0.7h0m0.9 -1h0m0.8 1.6h0m0.9 -1.3h0m0.9 0.2h0m0.9 -0.5h0m0.8 0.2h0m0.9 -0.8h0m0.9 0.2h0m0.8 -0.9h0m0.9 -0.7h0m0.9 -0.4h0m0.8 0.4h0m0.9 -1.2h0m0.9 0.7h0m0.8 -1h0m0.9 -0.7h0m0.9 -0.3h0m0.8 0.1h0m0.9 0.8h0m0.9 -1h0m0.8 -0.9h0m0.9 -0.9h0m0.9 1.2h0m0.8 -1.7h0m0.9 -0.2h0m0.9 -0.7h0m0.8 0.9h0m0.9 -0.5h0m0.9 -0.2h0m0.8 0.5h0m0.9 -0.5h0m0.9 0.1h0m0.8 0.7h0m0.9 -1.5h0m0.9 2.6h0m0.8 0.6h0m0.9 -1.7h0m0.9 0.2h0m0.8 -1.2h0m0.9 0.7h0m0.9 -0.4h0m0.8 0h0m0.9 -1.6h0m0.9 0h0m0.8 -0.4h0m0.9 0h0m0.9 1.2h0m0.8 -1.8h0m0.9 -0.2h0m0.9 -0.5h0m0.8 0.4h0m0.9 0.8h0m0.9 -1.1h0m0.8 0.2h0m0.9 -1.5h0m0.9 1.2h0m0.8 -0.6h0m0.9 0.8h0m0.9 -0.2h0m0.8 -0.2h0m0.9 -1.3h0m0.9 1.2h0m0.8 -0.2h0m0.9 0.7h0m0.9 0h0m0.8 0.7h0m0.9 -1.3h0m0.9 0.6h0m0.8 0.6h0m0.9 0.4h0m0.9 -0.2h0m0.8 0.3h0m0.9 0.3h0m0.9 0.7h0m0.8 -0.9h0m0.9 -0.1h0m0.9 -1.4h0m0.8 -0.8h0m0.9 0.4h0m0.9 0.9h0m0.8 -1.9h0m0.9 1.4h0m0.9 -0.3h0m0.8 0.1h0m0.9 -0.5h0m0.9 0.2h0m0.8 0.7h0m0.9 -0.2h0m0.9 -0.3h0m0.8 -0.2h0m0.9 0.4h0" stroke="#0000ff" stroke-width="3.2" stroke-linecap="round" fill="none"/></g><path d="M75.5 9.5H1323.5V147.5H75.5ZM75.5 147.5v4.86M231.5 147.5v4.86M387.5 147.5v4.86M543.5 147.5v4.86M699.5 147.5v4.86M855.5 147.5v4.86M1011.5 147.5v4.86M1167.5 147.5v4.86M1323.5 147.5v4.86M75.5 101.5h-4.86M75.5 35.5h-4.86" stroke="#000" stroke-width="1.11" fill="none" stroke-linecap="butt"/><text x="74.8" y="168" text-anchor="middle">00:00 UT</text><text x="230.8" y="168" text-anchor="middle">03:00 UT</text><text x="386.8" y="168" text-anchor="middle">06:00 UT</text><text x="542.8" y="168" text-anchor="middle">09:00 UT</text><text x="698.8" y="168" text-anchor="middle">12:00 UT</text><text x="854.8" y="168" text-anchor="middle">15:00 UT</text><text x="1010.8" y="168" text-anchor="middle">18:00 UT</text><text x="1166.8" y="168" text-anchor="middle">21:00 UT</text><text x="1322.8" y="168" text-anchor="middle">00:00 UT</text><text x="65.4" y="106.8" text-anchor="end">30</text><text x="65.4" y="40.8" text-anchor="end">40</text><text transform="translate(38.15 79.7) rotate(-90)" text-anchor="middle" letter-spacing="0">CPU/GPU (<tspan dx="0.6" dy="-6" font-size="9.7">∘</tspan><tspan dy="6">C)</tspan></text><path d="M75.5 174.5H1323.5V311.5H75.5ZM75.5 311.5v4.86M231.5 311.5v4.86M387.5 311.5v4.86M543.5 311.5v4.86M699.5 311.5v4.86M855.5 311.5v4.86M1011.5 311.5v4.86M1167.5 311.5v4.86M1323.5 311.5v4.86M75.5 306.5h-4.86M75.5 254.5h-4.86M75.5 202.5h-4.86" stroke="#000" stroke-width="1.11" fill="none" stroke-linecap="butt"/><text x="74.8" y="332" text-anchor="middle">00:00 UT</text><text x="230.8" y="332" text-anchor="middle">03:00 UT</text><text x="386.8" y="332" text-anchor="middle">06:00 UT</text><text x="542.8" y="332" text-anchor="middle">09:00 UT</text><text x="698.8" y="332" text-anchor="middle">12:00 UT</text><text x="854.8" y="332" text-anchor="middle">15:00 UT</text><text x="1010.8" y="332" text-anchor="middle">18:00 UT</text><text x="1166.8" y="332" text-anchor="middle">21:00 UT</text><text x="1322.8" y="332" text-anchor="middle">00:00 UT</text><text x="65.4" y="311.8" text-anchor="end">15</text><text x="65.4" y="259.8" text-anchor="end">20</text><text x="65.4" y="207.8" text-anchor="end">25</text><text transform="translate(35.95 244.2) rotate(-90)" text-anchor="middle" letter-spacing="0">Temperature (<tspan dx="0.6" dy="-6" font-size="9.7">∘</tspan><tspan dy="6">C)</tspan></text><path d="M75.5 339.5H1323.5V476.5H75.5ZM75.5 476.5v4.86M231.5 476.5v4.86M387.5 476.5v4.86M543.5 476.5v4.86M699.5 476.5v4.86M855.5 476.5v4.86M1011.5 476.5v4.86M1167.5 476.5v4.86M1323.5 476.5v4.86M75.5 454.5h-4.86M75.5 399.5h-4.86M75.5 345.5h-4.86" stroke="#000" stroke-width="1.11" fill="none" stroke-linecap="butt"/><text x="74.8" y="497" text-anchor="middle">00:00 UT</text><text x="230.8" y="497" text-anchor="middle">03:00 UT</text><text x="386.8" y="497" text-anchor="middle">06:00 UT</text><text x="542.8" y="497" text-anchor="middle">09:00 UT</text><text x="698.8" y="497" text-anchor="middle">12:00 UT</text><text x="854.8" y="497" text-anchor="middle">15:00 UT</text><text x="1010.8" y="497" text-anchor="middle">18:00 UT</text><text x="1166.8" y="497" text-anchor="middle">21:00 UT</text><text x="1322.8" y="497" text-anchor="middle">00:00 UT</text><text x="65.4" y="459.8" text-anchor="end">60</text><text x="65.4" y="404.8" text-anchor="end">80</text><text x="65.4" y="350.8" text-anchor="end">100</text><text transform="translate(28.5 409.2) rotate(-90)" text-anchor="middle" letter-spacing="0">Humidity (%)</text><path d="M75.5 504.5H1323.5V641.5H75.5ZM75.5 641.5v4.86M231.5 641.5v4.86M387.5 641.5v4.86M543.5 641.5v4.86M699.5 641.5v4.86M855.5 641.5v4.86M1011.5 641.5v4.86M1167.5 641.5v4.86M1323.5 641.5v4.86M75.5 618.5h-4.86M75.5 556.5h-4.86" stroke="#000" stroke-width="1.11" fill="none" stroke-linecap="butt"/><text x="74.8" y="662" text-anchor="middle">00:00 UT</text><text x="74.8" y="678.3" text-anchor="middle">Oct 20</text><text x="74.8" y="694.6" text-anchor="middle">2025</text><text x="230.8" y="662" text-anchor="middle">03:00 UT</text><text x="230.8" y="678.3" text-anchor="middle">Oct 20</text><text x="230.8" y="694.6" text-anchor="middle">2025</text><text x="386.8" y="662" text-anchor="middle">06:00 UT</text><text x="386.8" y="678.3" text-anchor="middle">Oct 20</text><text x="386.8" y="694.6" text-anchor="middle">2025</text><text x="542.8" y="662" text-anchor="middle">09:00 UT</text><text x="542.8" y="678.3" text-anchor="middle">Oct 20</text><text x="542.8" y="694.6" text-anchor="middle">2025</text><text x="698.8" y="662" text-anchor="middle">12:00 UT</text><text x="698.8" y="678.3" text-anchor="middle">Oct 20</text><text x="698.8" y="694.6" text-anchor="middle">2025</text><text x="854.8" y="662" text-anchor="middle">15:00 UT</text><text x="854.8" y="678.3" text-anchor="middle">Oct 20</text><text x="854.8" y="694.6" text-anchor="middle">2025</text><text x="1010.8" y="662" text-anchor="middle">18:00 UT</text><text x="1010.8" y="678.3" text-anchor="middle">Oct 20</text><text x="1010.8" y="694.6" text-anchor="middle">2025</text><text x="1166.8" y="662" text-anchor="middle">21:00 UT</text><text x="1166.8" y="678.3" text-anchor="middle">Oct 20</text><text x="1166.8" y="694.6" text-anchor="middle">2025</text><text x="1322.8" y="662" text-anchor="middle">00:00 UT</text><text x="1322.8" y="678.3" text-anchor="middle">Oct 21</text><text x="1322.8" y="694.6" text-anchor="middle">2025</text><text x="65.4" y="623.8" text-anchor="end">1010</text><text x="65.4" y="561.8" text-anchor="end">1015</text><text transform="translate(19.8 574.2) rotate(-90)" text-anchor="middle" letter-spacing="0">Pressure (hPa)</text><rect x="1239.5" y="16.5" width="77" height="46" rx="2.78" fill="#fff" fill-opacity="0.8" stroke="#cccccc" stroke-opacity="0.8" stroke-width="1.11"/><path d="M1245.05 28.5h28.5" stroke="#ff0000" stroke-width="0.6" fill="none"/><circle cx="1259.3" cy="28.5" r="1.65" fill="#ff0000"/><text x="1284.3" y="32.6">cpu</text><path d="M1245.05 49.5h28.5" stroke="#008000" stroke-width="0.6" fill="none"/><circle cx="1259.3" cy="49.5" r="1.65" fill="#008000"/><text x="1284.3" y="53.6">gpu</text><rect x="1247.5" y="181.5" width="69" height="25" rx="2.78" fill="#fff" fill-opacity="0.8" stroke="#cccccc" stroke-opacity="0.8" stroke-width="1.11"/><path d="M1253.25 193.5h28.5" stroke="#0000ff" stroke-width="0.6" fill="none"/><circle cx="1267.5" cy="193.5" r="1.65" fill="#0000ff"/><text x="1293.2" y="197.6">air</text><rect x="1247.5" y="346.5" width="69" height="25" rx="2.78" fill="#fff" fill-opacity="0.8" stroke="#cccccc" stroke-opacity="0.8" stroke-width="1.11"/><path d="M1253.25 358.5h28.5" stroke="#0000ff" stroke-width="0.6" fill="none"/><circle cx="1267.5" cy="358.5" r="1.65" fill="#0000ff"/><text x="1293.2" y="362.6">air</text><rect x="82.5" y="511.5" width="68" height="25" rx="2.78" fill="#fff" fill-opacity="0.8" stroke="#cccccc" stroke-opacity="0.8" stroke-width="1.11"/><path d="M87.25 522.5h28.5" stroke="#0000ff" stroke-width="0.6" fill="none"/><circle cx="101.5" cy="522.5" r="1.65" fill="#0000ff"/><text x="127.3" y="526.6">air</text></svg></body></html>
